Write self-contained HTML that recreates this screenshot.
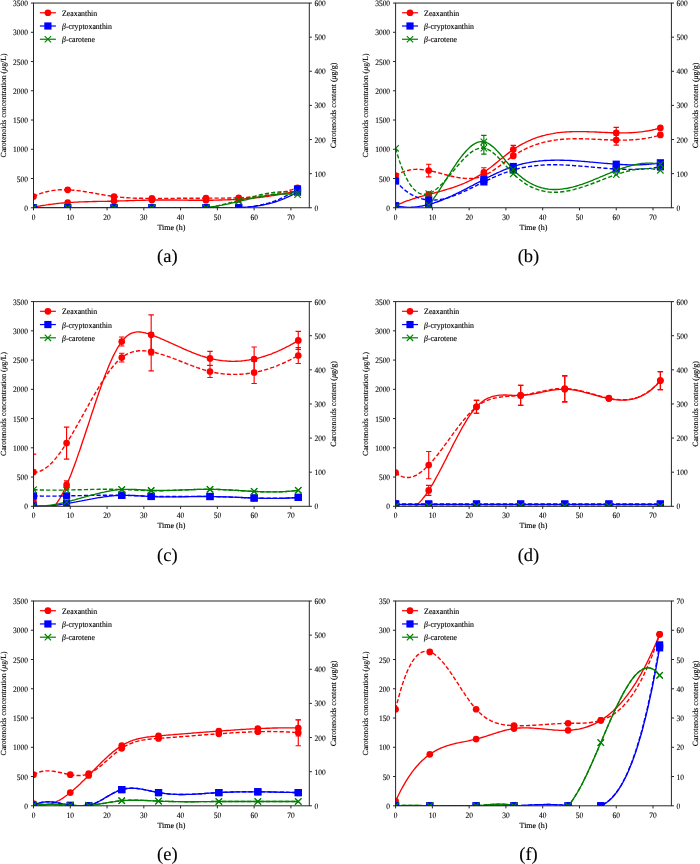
<!DOCTYPE html>
<html><head><meta charset="utf-8"><style>
html,body{margin:0;padding:0;background:#fff;}
svg{display:block;filter:blur(0.45px);}
svg text{font-family:"Liberation Serif", serif;font-size:8px;fill:#000;stroke:#000;stroke-width:0.12px;text-rendering:geometricPrecision;}
svg text.t{font-size:8.3px;}
</style></head><body>
<svg width="700" height="864" viewBox="0 0 700 864">
<rect width="700" height="864" fill="#fff"/>
<clipPath id="clipa"><rect x="33.5" y="3.05" width="275.8" height="204.7"/></clipPath>
<g clip-path="url(#clipa)">
<path d="M33.5 196.5 L34.8 195.9 L36.2 195.3 L37.5 194.7 L38.8 194.2 L40.1 193.7 L41.5 193.2 L42.8 192.8 L44.1 192.4 L45.4 192 L46.8 191.7 L48.1 191.4 L49.4 191.1 L50.7 190.9 L52.1 190.6 L53.4 190.4 L54.7 190.3 L56.1 190.1 L57.4 190 L58.7 189.9 L60 189.8 L61.4 189.8 L62.7 189.8 L64 189.8 L65.3 189.8 L66.7 189.8 L68 189.8 L69.3 189.9 L70.7 190 L72 190.1 L73.3 190.2 L74.6 190.3 L76 190.4 L77.3 190.6 L78.6 190.7 L79.9 190.9 L81.3 191.1 L82.6 191.3 L83.9 191.5 L85.2 191.7 L86.6 191.9 L87.9 192.1 L89.2 192.4 L90.6 192.6 L91.9 192.8 L93.2 193 L94.5 193.3 L95.9 193.5 L97.2 193.8 L98.5 194 L99.8 194.2 L101.2 194.5 L102.5 194.7 L103.8 194.9 L105.1 195.2 L106.5 195.4 L107.8 195.6 L109.1 195.8 L110.5 196 L111.8 196.2 L113.1 196.4 L114.4 196.6 L115.8 196.7 L117.1 196.9 L118.4 197 L119.7 197.1 L121.1 197.3 L122.4 197.4 L123.7 197.5 L125 197.6 L126.4 197.7 L127.7 197.8 L129 197.9 L130.4 197.9 L131.7 198 L133 198.1 L134.3 198.1 L135.7 198.2 L137 198.2 L138.3 198.2 L139.6 198.3 L141 198.3 L142.3 198.3 L143.6 198.3 L145 198.4 L146.3 198.4 L147.6 198.4 L148.9 198.4 L150.3 198.4 L151.6 198.4 L152.9 198.4 L154.2 198.4 L155.6 198.4 L156.9 198.4 L158.2 198.4 L159.5 198.4 L160.9 198.4 L162.2 198.4 L163.5 198.4 L164.9 198.4 L166.2 198.4 L167.5 198.4 L168.8 198.4 L170.2 198.4 L171.5 198.4 L172.8 198.4 L174.1 198.4 L175.5 198.3 L176.8 198.3 L178.1 198.3 L179.4 198.3 L180.8 198.3 L182.1 198.3 L183.4 198.3 L184.8 198.3 L186.1 198.3 L187.4 198.2 L188.7 198.2 L190.1 198.2 L191.4 198.2 L192.7 198.2 L194 198.2 L195.4 198.2 L196.7 198.2 L198 198.2 L199.3 198.2 L200.7 198.2 L202 198.2 L203.3 198.1 L204.7 198.1 L206 198.1 L207.3 198.1 L208.6 198.1 L210 198.1 L211.3 198.1 L212.6 198.1 L213.9 198.1 L215.3 198.1 L216.6 198.1 L217.9 198.1 L219.3 198.1 L220.6 198.1 L221.9 198.1 L223.2 198.1 L224.6 198.1 L225.9 198.1 L227.2 198.1 L228.5 198 L229.9 198 L231.2 198 L232.5 198 L233.8 197.9 L235.2 197.9 L236.5 197.9 L237.8 197.8 L239.2 197.8 L240.5 197.7 L241.8 197.7 L243.1 197.6 L244.5 197.5 L245.8 197.5 L247.1 197.4 L248.4 197.3 L249.8 197.2 L251.1 197.1 L252.4 197 L253.7 196.9 L255.1 196.8 L256.4 196.7 L257.7 196.5 L259.1 196.4 L260.4 196.2 L261.7 196.1 L263 195.9 L264.4 195.7 L265.7 195.5 L267 195.3 L268.3 195.1 L269.7 194.9 L271 194.7 L272.3 194.5 L273.7 194.2 L275 194 L276.3 193.7 L277.6 193.4 L279 193.1 L280.3 192.8 L281.6 192.5 L282.9 192.2 L284.3 191.9 L285.6 191.5 L286.9 191.2 L288.2 190.8 L289.6 190.4 L290.9 190 L292.2 189.6 L293.6 189.1 L294.9 188.7 L296.2 188.2 L297.5 187.8" fill="none" stroke="#ff0000" stroke-width="1.4" stroke-dasharray="4.2 2.1"/>
<path d="M33.5 207.3 L34.8 207 L36.2 206.7 L37.5 206.5 L38.8 206.2 L40.1 206 L41.5 205.7 L42.8 205.5 L44.1 205.3 L45.4 205.1 L46.8 204.8 L48.1 204.7 L49.4 204.5 L50.7 204.3 L52.1 204.1 L53.4 204 L54.7 203.8 L56.1 203.6 L57.4 203.5 L58.7 203.4 L60 203.2 L61.4 203.1 L62.7 203 L64 202.9 L65.3 202.8 L66.7 202.7 L68 202.6 L69.3 202.5 L70.7 202.4 L72 202.3 L73.3 202.3 L74.6 202.2 L76 202.1 L77.3 202.1 L78.6 202 L79.9 201.9 L81.3 201.9 L82.6 201.8 L83.9 201.8 L85.2 201.7 L86.6 201.7 L87.9 201.7 L89.2 201.6 L90.6 201.6 L91.9 201.6 L93.2 201.5 L94.5 201.5 L95.9 201.5 L97.2 201.4 L98.5 201.4 L99.8 201.4 L101.2 201.4 L102.5 201.3 L103.8 201.3 L105.1 201.3 L106.5 201.3 L107.8 201.2 L109.1 201.2 L110.5 201.2 L111.8 201.1 L113.1 201.1 L114.4 201.1 L115.8 201 L117.1 201 L118.4 201 L119.7 200.9 L121.1 200.9 L122.4 200.8 L123.7 200.8 L125 200.8 L126.4 200.7 L127.7 200.7 L129 200.6 L130.4 200.6 L131.7 200.6 L133 200.5 L134.3 200.5 L135.7 200.4 L137 200.4 L138.3 200.3 L139.6 200.3 L141 200.3 L142.3 200.2 L143.6 200.2 L145 200.2 L146.3 200.1 L147.6 200.1 L148.9 200.1 L150.3 200.1 L151.6 200 L152.9 200 L154.2 200 L155.6 200 L156.9 200 L158.2 200 L159.5 200 L160.9 200 L162.2 200 L163.5 200 L164.9 200 L166.2 200 L167.5 200 L168.8 200 L170.2 200 L171.5 200 L172.8 200 L174.1 200 L175.5 200 L176.8 200 L178.1 200.1 L179.4 200.1 L180.8 200.1 L182.1 200.1 L183.4 200.1 L184.8 200.1 L186.1 200.1 L187.4 200.1 L188.7 200.2 L190.1 200.2 L191.4 200.2 L192.7 200.2 L194 200.2 L195.4 200.2 L196.7 200.2 L198 200.2 L199.3 200.2 L200.7 200.2 L202 200.2 L203.3 200.2 L204.7 200.2 L206 200.2 L207.3 200.2 L208.6 200.2 L210 200.2 L211.3 200.2 L212.6 200.2 L213.9 200.1 L215.3 200.1 L216.6 200.1 L217.9 200.1 L219.3 200 L220.6 200 L221.9 200 L223.2 199.9 L224.6 199.9 L225.9 199.8 L227.2 199.8 L228.5 199.7 L229.9 199.7 L231.2 199.6 L232.5 199.6 L233.8 199.5 L235.2 199.4 L236.5 199.3 L237.8 199.3 L239.2 199.2 L240.5 199.1 L241.8 199 L243.1 198.9 L244.5 198.8 L245.8 198.7 L247.1 198.6 L248.4 198.5 L249.8 198.4 L251.1 198.3 L252.4 198.1 L253.7 198 L255.1 197.9 L256.4 197.7 L257.7 197.6 L259.1 197.5 L260.4 197.3 L261.7 197.1 L263 197 L264.4 196.8 L265.7 196.6 L267 196.5 L268.3 196.3 L269.7 196.1 L271 195.9 L272.3 195.7 L273.7 195.5 L275 195.3 L276.3 195 L277.6 194.8 L279 194.6 L280.3 194.3 L281.6 194.1 L282.9 193.8 L284.3 193.6 L285.6 193.3 L286.9 193 L288.2 192.8 L289.6 192.5 L290.9 192.2 L292.2 191.9 L293.6 191.6 L294.9 191.3 L296.2 191 L297.5 190.6" fill="none" stroke="#ff0000" stroke-width="1.35"/>
<path d="M33.5 207.8 L34.8 207.8 L36.2 207.8 L37.5 207.8 L38.8 207.8 L40.1 207.8 L41.5 207.8 L42.8 207.8 L44.1 207.8 L45.4 207.8 L46.8 207.8 L48.1 207.8 L49.4 207.8 L50.7 207.8 L52.1 207.8 L53.4 207.8 L54.7 207.8 L56.1 207.8 L57.4 207.8 L58.7 207.8 L60 207.8 L61.4 207.8 L62.7 207.8 L64 207.8 L65.3 207.8 L66.7 207.8 L68 207.7 L69.3 207.7 L70.7 207.7 L72 207.7 L73.3 207.7 L74.6 207.7 L76 207.7 L77.3 207.7 L78.6 207.7 L79.9 207.7 L81.3 207.7 L82.6 207.7 L83.9 207.7 L85.2 207.7 L86.6 207.7 L87.9 207.7 L89.2 207.7 L90.6 207.7 L91.9 207.7 L93.2 207.7 L94.5 207.7 L95.9 207.7 L97.2 207.7 L98.5 207.7 L99.8 207.7 L101.2 207.7 L102.5 207.7 L103.8 207.7 L105.1 207.7 L106.5 207.7 L107.8 207.7 L109.1 207.7 L110.5 207.7 L111.8 207.7 L113.1 207.7 L114.4 207.8 L115.8 207.8 L117.1 207.8 L118.4 207.8 L119.7 207.8 L121.1 207.8 L122.4 207.8 L123.7 207.8 L125 207.8 L126.4 207.8 L127.7 207.8 L129 207.8 L130.4 207.8 L131.7 207.8 L133 207.8 L134.3 207.8 L135.7 207.8 L137 207.8 L138.3 207.8 L139.6 207.8 L141 207.8 L142.3 207.8 L143.6 207.8 L145 207.8 L146.3 207.8 L147.6 207.8 L148.9 207.8 L150.3 207.8 L151.6 207.8 L152.9 207.7 L154.2 207.7 L155.6 207.7 L156.9 207.7 L158.2 207.7 L159.5 207.7 L160.9 207.7 L162.2 207.7 L163.5 207.7 L164.9 207.7 L166.2 207.7 L167.5 207.7 L168.8 207.7 L170.2 207.7 L171.5 207.6 L172.8 207.6 L174.1 207.6 L175.5 207.6 L176.8 207.6 L178.1 207.6 L179.4 207.6 L180.8 207.6 L182.1 207.6 L183.4 207.6 L184.8 207.6 L186.1 207.6 L187.4 207.6 L188.7 207.6 L190.1 207.6 L191.4 207.6 L192.7 207.6 L194 207.6 L195.4 207.6 L196.7 207.6 L198 207.6 L199.3 207.7 L200.7 207.7 L202 207.7 L203.3 207.7 L204.7 207.7 L206 207.8 L207.3 207.8 L208.6 207.8 L210 207.8 L211.3 207.8 L212.6 207.9 L213.9 207.9 L215.3 207.9 L216.6 208 L217.9 208 L219.3 208 L220.6 208 L221.9 208 L223.2 208 L224.6 208 L225.9 208 L227.2 208 L228.5 208 L229.9 208 L231.2 208 L232.5 208 L233.8 207.9 L235.2 207.9 L236.5 207.9 L237.8 207.8 L239.2 207.7 L240.5 207.6 L241.8 207.6 L243.1 207.5 L244.5 207.4 L245.8 207.2 L247.1 207.1 L248.4 207 L249.8 206.8 L251.1 206.6 L252.4 206.5 L253.7 206.3 L255.1 206.1 L256.4 205.8 L257.7 205.6 L259.1 205.3 L260.4 205.1 L261.7 204.8 L263 204.5 L264.4 204.1 L265.7 203.8 L267 203.4 L268.3 203.1 L269.7 202.7 L271 202.2 L272.3 201.8 L273.7 201.3 L275 200.9 L276.3 200.4 L277.6 199.8 L279 199.3 L280.3 198.7 L281.6 198.1 L282.9 197.5 L284.3 196.9 L285.6 196.2 L286.9 195.5 L288.2 194.8 L289.6 194 L290.9 193.3 L292.2 192.5 L293.6 191.7 L294.9 190.8 L296.2 189.9 L297.5 189" fill="none" stroke="#0000ff" stroke-width="1.4" stroke-dasharray="4.2 2.1"/>
<path d="M33.5 207.8 L34.8 207.8 L36.2 207.8 L37.5 207.8 L38.8 207.8 L40.1 207.8 L41.5 207.8 L42.8 207.8 L44.1 207.8 L45.4 207.8 L46.8 207.8 L48.1 207.8 L49.4 207.8 L50.7 207.8 L52.1 207.8 L53.4 207.8 L54.7 207.8 L56.1 207.8 L57.4 207.8 L58.7 207.8 L60 207.8 L61.4 207.8 L62.7 207.8 L64 207.8 L65.3 207.8 L66.7 207.8 L68 207.7 L69.3 207.7 L70.7 207.7 L72 207.7 L73.3 207.7 L74.6 207.7 L76 207.7 L77.3 207.7 L78.6 207.7 L79.9 207.7 L81.3 207.7 L82.6 207.7 L83.9 207.7 L85.2 207.7 L86.6 207.7 L87.9 207.7 L89.2 207.7 L90.6 207.7 L91.9 207.7 L93.2 207.7 L94.5 207.7 L95.9 207.7 L97.2 207.7 L98.5 207.7 L99.8 207.7 L101.2 207.7 L102.5 207.7 L103.8 207.7 L105.1 207.7 L106.5 207.7 L107.8 207.7 L109.1 207.7 L110.5 207.7 L111.8 207.7 L113.1 207.7 L114.4 207.8 L115.8 207.8 L117.1 207.8 L118.4 207.8 L119.7 207.8 L121.1 207.8 L122.4 207.8 L123.7 207.8 L125 207.8 L126.4 207.8 L127.7 207.8 L129 207.8 L130.4 207.8 L131.7 207.8 L133 207.8 L134.3 207.8 L135.7 207.8 L137 207.8 L138.3 207.8 L139.6 207.8 L141 207.8 L142.3 207.8 L143.6 207.8 L145 207.8 L146.3 207.8 L147.6 207.8 L148.9 207.8 L150.3 207.8 L151.6 207.8 L152.9 207.7 L154.2 207.7 L155.6 207.7 L156.9 207.7 L158.2 207.7 L159.5 207.7 L160.9 207.7 L162.2 207.7 L163.5 207.7 L164.9 207.7 L166.2 207.7 L167.5 207.7 L168.8 207.7 L170.2 207.7 L171.5 207.7 L172.8 207.7 L174.1 207.6 L175.5 207.6 L176.8 207.6 L178.1 207.6 L179.4 207.6 L180.8 207.6 L182.1 207.6 L183.4 207.6 L184.8 207.6 L186.1 207.6 L187.4 207.6 L188.7 207.6 L190.1 207.6 L191.4 207.6 L192.7 207.6 L194 207.6 L195.4 207.6 L196.7 207.7 L198 207.7 L199.3 207.7 L200.7 207.7 L202 207.7 L203.3 207.7 L204.7 207.7 L206 207.8 L207.3 207.8 L208.6 207.8 L210 207.8 L211.3 207.8 L212.6 207.9 L213.9 207.9 L215.3 207.9 L216.6 207.9 L217.9 207.9 L219.3 208 L220.6 208 L221.9 208 L223.2 208 L224.6 208 L225.9 208 L227.2 208 L228.5 208 L229.9 208 L231.2 208 L232.5 207.9 L233.8 207.9 L235.2 207.9 L236.5 207.8 L237.8 207.8 L239.2 207.7 L240.5 207.7 L241.8 207.6 L243.1 207.5 L244.5 207.4 L245.8 207.3 L247.1 207.2 L248.4 207.1 L249.8 207 L251.1 206.8 L252.4 206.7 L253.7 206.5 L255.1 206.3 L256.4 206.1 L257.7 205.9 L259.1 205.7 L260.4 205.5 L261.7 205.2 L263 205 L264.4 204.7 L265.7 204.4 L267 204.1 L268.3 203.8 L269.7 203.5 L271 203.1 L272.3 202.8 L273.7 202.4 L275 202 L276.3 201.5 L277.6 201.1 L279 200.6 L280.3 200.2 L281.6 199.7 L282.9 199.1 L284.3 198.6 L285.6 198 L286.9 197.4 L288.2 196.8 L289.6 196.2 L290.9 195.6 L292.2 194.9 L293.6 194.2 L294.9 193.5 L296.2 192.7 L297.5 192" fill="none" stroke="#0000ff" stroke-width="1.35"/>
<path d="M33.5 207.8 L34.8 207.7 L36.2 207.7 L37.5 207.7 L38.8 207.7 L40.1 207.7 L41.5 207.7 L42.8 207.7 L44.1 207.7 L45.4 207.7 L46.8 207.7 L48.1 207.7 L49.4 207.7 L50.7 207.7 L52.1 207.7 L53.4 207.7 L54.7 207.7 L56.1 207.7 L57.4 207.7 L58.7 207.7 L60 207.7 L61.4 207.7 L62.7 207.7 L64 207.7 L65.3 207.7 L66.7 207.7 L68 207.8 L69.3 207.8 L70.7 207.8 L72 207.8 L73.3 207.8 L74.6 207.8 L76 207.8 L77.3 207.8 L78.6 207.8 L79.9 207.8 L81.3 207.8 L82.6 207.8 L83.9 207.8 L85.2 207.8 L86.6 207.8 L87.9 207.8 L89.2 207.8 L90.6 207.8 L91.9 207.8 L93.2 207.8 L94.5 207.8 L95.9 207.8 L97.2 207.8 L98.5 207.8 L99.8 207.8 L101.2 207.8 L102.5 207.8 L103.8 207.8 L105.1 207.8 L106.5 207.8 L107.8 207.8 L109.1 207.8 L110.5 207.8 L111.8 207.8 L113.1 207.8 L114.4 207.7 L115.8 207.7 L117.1 207.7 L118.4 207.7 L119.7 207.7 L121.1 207.7 L122.4 207.7 L123.7 207.6 L125 207.6 L126.4 207.6 L127.7 207.6 L129 207.6 L130.4 207.6 L131.7 207.6 L133 207.6 L134.3 207.6 L135.7 207.6 L137 207.6 L138.3 207.6 L139.6 207.6 L141 207.6 L142.3 207.6 L143.6 207.6 L145 207.6 L146.3 207.6 L147.6 207.6 L148.9 207.7 L150.3 207.7 L151.6 207.7 L152.9 207.8 L154.2 207.8 L155.6 207.9 L156.9 207.9 L158.2 208 L159.5 208 L160.9 208.1 L162.2 208.2 L163.5 208.2 L164.9 208.3 L166.2 208.3 L167.5 208.4 L168.8 208.5 L170.2 208.5 L171.5 208.6 L172.8 208.6 L174.1 208.7 L175.5 208.7 L176.8 208.8 L178.1 208.8 L179.4 208.8 L180.8 208.9 L182.1 208.9 L183.4 208.9 L184.8 208.9 L186.1 208.9 L187.4 208.9 L188.7 208.9 L190.1 208.9 L191.4 208.8 L192.7 208.8 L194 208.8 L195.4 208.7 L196.7 208.6 L198 208.5 L199.3 208.4 L200.7 208.3 L202 208.2 L203.3 208.1 L204.7 207.9 L206 207.7 L207.3 207.6 L208.6 207.4 L210 207.2 L211.3 206.9 L212.6 206.7 L213.9 206.5 L215.3 206.2 L216.6 205.9 L217.9 205.7 L219.3 205.4 L220.6 205.1 L221.9 204.8 L223.2 204.4 L224.6 204.1 L225.9 203.8 L227.2 203.5 L228.5 203.1 L229.9 202.8 L231.2 202.4 L232.5 202.1 L233.8 201.7 L235.2 201.3 L236.5 201 L237.8 200.6 L239.2 200.3 L240.5 199.9 L241.8 199.5 L243.1 199.2 L244.5 198.8 L245.8 198.5 L247.1 198.1 L248.4 197.7 L249.8 197.4 L251.1 197.1 L252.4 196.7 L253.7 196.4 L255.1 196.1 L256.4 195.7 L257.7 195.4 L259.1 195.1 L260.4 194.8 L261.7 194.5 L263 194.3 L264.4 194 L265.7 193.7 L267 193.5 L268.3 193.3 L269.7 193.1 L271 192.9 L272.3 192.7 L273.7 192.5 L275 192.3 L276.3 192.2 L277.6 192.1 L279 192 L280.3 191.9 L281.6 191.8 L282.9 191.7 L284.3 191.7 L285.6 191.7 L286.9 191.7 L288.2 191.7 L289.6 191.8 L290.9 191.8 L292.2 191.9 L293.6 192 L294.9 192.2 L296.2 192.4 L297.5 192.5" fill="none" stroke="#008000" stroke-width="1.4" stroke-dasharray="4.2 2.1"/>
<path d="M33.5 207.8 L34.8 207.7 L36.2 207.7 L37.5 207.7 L38.8 207.7 L40.1 207.7 L41.5 207.7 L42.8 207.7 L44.1 207.7 L45.4 207.7 L46.8 207.7 L48.1 207.7 L49.4 207.7 L50.7 207.7 L52.1 207.7 L53.4 207.7 L54.7 207.7 L56.1 207.7 L57.4 207.7 L58.7 207.7 L60 207.7 L61.4 207.7 L62.7 207.7 L64 207.7 L65.3 207.7 L66.7 207.7 L68 207.8 L69.3 207.8 L70.7 207.8 L72 207.8 L73.3 207.8 L74.6 207.8 L76 207.8 L77.3 207.8 L78.6 207.8 L79.9 207.8 L81.3 207.8 L82.6 207.8 L83.9 207.8 L85.2 207.8 L86.6 207.8 L87.9 207.8 L89.2 207.8 L90.6 207.8 L91.9 207.8 L93.2 207.8 L94.5 207.8 L95.9 207.8 L97.2 207.8 L98.5 207.8 L99.8 207.8 L101.2 207.8 L102.5 207.8 L103.8 207.8 L105.1 207.8 L106.5 207.8 L107.8 207.8 L109.1 207.8 L110.5 207.8 L111.8 207.8 L113.1 207.8 L114.4 207.7 L115.8 207.7 L117.1 207.7 L118.4 207.7 L119.7 207.7 L121.1 207.7 L122.4 207.7 L123.7 207.7 L125 207.6 L126.4 207.6 L127.7 207.6 L129 207.6 L130.4 207.6 L131.7 207.6 L133 207.6 L134.3 207.6 L135.7 207.6 L137 207.6 L138.3 207.6 L139.6 207.6 L141 207.6 L142.3 207.6 L143.6 207.6 L145 207.6 L146.3 207.6 L147.6 207.7 L148.9 207.7 L150.3 207.7 L151.6 207.7 L152.9 207.8 L154.2 207.8 L155.6 207.9 L156.9 207.9 L158.2 207.9 L159.5 208 L160.9 208 L162.2 208.1 L163.5 208.2 L164.9 208.2 L166.2 208.3 L167.5 208.3 L168.8 208.4 L170.2 208.4 L171.5 208.5 L172.8 208.5 L174.1 208.5 L175.5 208.6 L176.8 208.6 L178.1 208.7 L179.4 208.7 L180.8 208.7 L182.1 208.7 L183.4 208.7 L184.8 208.8 L186.1 208.8 L187.4 208.8 L188.7 208.7 L190.1 208.7 L191.4 208.7 L192.7 208.7 L194 208.6 L195.4 208.6 L196.7 208.5 L198 208.4 L199.3 208.3 L200.7 208.2 L202 208.1 L203.3 208 L204.7 207.9 L206 207.7 L207.3 207.6 L208.6 207.4 L210 207.2 L211.3 207.1 L212.6 206.9 L213.9 206.6 L215.3 206.4 L216.6 206.2 L217.9 206 L219.3 205.7 L220.6 205.4 L221.9 205.2 L223.2 204.9 L224.6 204.6 L225.9 204.4 L227.2 204.1 L228.5 203.8 L229.9 203.5 L231.2 203.2 L232.5 202.9 L233.8 202.6 L235.2 202.3 L236.5 202 L237.8 201.6 L239.2 201.3 L240.5 201 L241.8 200.7 L243.1 200.4 L244.5 200.1 L245.8 199.8 L247.1 199.5 L248.4 199.2 L249.8 198.9 L251.1 198.6 L252.4 198.3 L253.7 198 L255.1 197.7 L256.4 197.5 L257.7 197.2 L259.1 196.9 L260.4 196.7 L261.7 196.4 L263 196.2 L264.4 196 L265.7 195.7 L267 195.5 L268.3 195.3 L269.7 195.2 L271 195 L272.3 194.8 L273.7 194.7 L275 194.5 L276.3 194.4 L277.6 194.3 L279 194.2 L280.3 194.1 L281.6 194.1 L282.9 194 L284.3 194 L285.6 194 L286.9 194 L288.2 194 L289.6 194 L290.9 194.1 L292.2 194.2 L293.6 194.3 L294.9 194.4 L296.2 194.6 L297.5 194.7" fill="none" stroke="#008000" stroke-width="1.35"/>
<circle cx="33.5" cy="196.5" r="3.35" fill="#ff0000"/>
<circle cx="67.7" cy="189.82" r="3.35" fill="#ff0000"/>
<circle cx="114.03" cy="196.5" r="3.35" fill="#ff0000"/>
<circle cx="151.91" cy="198.41" r="3.35" fill="#ff0000"/>
<circle cx="205.97" cy="198.14" r="3.35" fill="#ff0000"/>
<circle cx="238.7" cy="197.8" r="3.35" fill="#ff0000"/>
<circle cx="297.53" cy="187.78" r="3.35" fill="#ff0000"/>
<circle cx="33.5" cy="207.28" r="3.35" fill="#ff0000"/>
<circle cx="67.7" cy="202.61" r="3.35" fill="#ff0000"/>
<circle cx="114.03" cy="201.09" r="3.35" fill="#ff0000"/>
<circle cx="151.91" cy="200.04" r="3.35" fill="#ff0000"/>
<circle cx="205.97" cy="200.21" r="3.35" fill="#ff0000"/>
<circle cx="238.7" cy="199.22" r="3.35" fill="#ff0000"/>
<circle cx="297.53" cy="190.63" r="3.35" fill="#ff0000"/>
<rect x="29.9" y="204.15" width="7.2" height="7.2" fill="#0000ff"/>
<rect x="64.1" y="204.15" width="7.2" height="7.2" fill="#0000ff"/>
<rect x="110.43" y="204.15" width="7.2" height="7.2" fill="#0000ff"/>
<rect x="148.31" y="204.15" width="7.2" height="7.2" fill="#0000ff"/>
<rect x="202.37" y="204.15" width="7.2" height="7.2" fill="#0000ff"/>
<rect x="235.1" y="204.15" width="7.2" height="7.2" fill="#0000ff"/>
<rect x="293.93" y="185.4" width="7.2" height="7.2" fill="#0000ff"/>
<rect x="29.9" y="204.15" width="7.2" height="7.2" fill="#0000ff"/>
<rect x="64.1" y="204.15" width="7.2" height="7.2" fill="#0000ff"/>
<rect x="110.43" y="204.15" width="7.2" height="7.2" fill="#0000ff"/>
<rect x="148.31" y="204.15" width="7.2" height="7.2" fill="#0000ff"/>
<rect x="202.37" y="204.15" width="7.2" height="7.2" fill="#0000ff"/>
<rect x="235.1" y="204.15" width="7.2" height="7.2" fill="#0000ff"/>
<rect x="293.93" y="188.37" width="7.2" height="7.2" fill="#0000ff"/>
<path d="M30.3 204.55L36.7 210.95M30.3 210.95L36.7 204.55" stroke="#008000" stroke-width="1.1" fill="none"/>
<path d="M64.5 204.55L70.9 210.95M64.5 210.95L70.9 204.55" stroke="#008000" stroke-width="1.1" fill="none"/>
<path d="M110.83 204.55L117.23 210.95M110.83 210.95L117.23 204.55" stroke="#008000" stroke-width="1.1" fill="none"/>
<path d="M148.71 204.55L155.11 210.95M148.71 210.95L155.11 204.55" stroke="#008000" stroke-width="1.1" fill="none"/>
<path d="M202.77 204.55L209.17 210.95M202.77 210.95L209.17 204.55" stroke="#008000" stroke-width="1.1" fill="none"/>
<path d="M235.5 197.19L241.9 203.59M235.5 203.59L241.9 197.19" stroke="#008000" stroke-width="1.1" fill="none"/>
<path d="M294.33 189.35L300.73 195.75M294.33 195.75L300.73 189.35" stroke="#008000" stroke-width="1.1" fill="none"/>
<path d="M30.3 204.55L36.7 210.95M30.3 210.95L36.7 204.55" stroke="#008000" stroke-width="1.1" fill="none"/>
<path d="M64.5 204.55L70.9 210.95M64.5 210.95L70.9 204.55" stroke="#008000" stroke-width="1.1" fill="none"/>
<path d="M110.83 204.55L117.23 210.95M110.83 210.95L117.23 204.55" stroke="#008000" stroke-width="1.1" fill="none"/>
<path d="M148.71 204.55L155.11 210.95M148.71 210.95L155.11 204.55" stroke="#008000" stroke-width="1.1" fill="none"/>
<path d="M202.77 204.55L209.17 210.95M202.77 210.95L209.17 204.55" stroke="#008000" stroke-width="1.1" fill="none"/>
<path d="M235.5 198.24L241.9 204.64M235.5 204.64L241.9 198.24" stroke="#008000" stroke-width="1.1" fill="none"/>
<path d="M294.33 191.52L300.73 197.92M294.33 197.92L300.73 191.52" stroke="#008000" stroke-width="1.1" fill="none"/>
</g>
<rect x="33.5" y="3.05" width="275.8" height="204.7" fill="none" stroke="#262626" stroke-width="1"/>
<path d="M30.9 207.75H33.5M30.9 178.51H33.5M30.9 149.26H33.5M30.9 120.02H33.5M30.9 90.78H33.5M30.9 61.54H33.5M30.9 32.29H33.5M30.9 3.05H33.5M309.3 207.75H311.9M309.3 173.63H311.9M309.3 139.52H311.9M309.3 105.4H311.9M309.3 71.28H311.9M309.3 37.17H311.9M309.3 3.05H311.9M33.5 207.75V210.35M70.27 207.75V210.35M107.05 207.75V210.35M143.82 207.75V210.35M180.59 207.75V210.35M217.37 207.75V210.35M254.14 207.75V210.35M290.91 207.75V210.35" stroke="#262626" stroke-width="1" fill="none"/>
<text transform="translate(28 210.75) scale(0.9 1)" text-anchor="end" class="t">0</text>
<text transform="translate(28 181.51) scale(0.9 1)" text-anchor="end" class="t">500</text>
<text transform="translate(28 152.26) scale(0.9 1)" text-anchor="end" class="t">1000</text>
<text transform="translate(28 123.02) scale(0.9 1)" text-anchor="end" class="t">1500</text>
<text transform="translate(28 93.78) scale(0.9 1)" text-anchor="end" class="t">2000</text>
<text transform="translate(28 64.54) scale(0.9 1)" text-anchor="end" class="t">2500</text>
<text transform="translate(28 35.29) scale(0.9 1)" text-anchor="end" class="t">3000</text>
<text transform="translate(28 6.05) scale(0.9 1)" text-anchor="end" class="t">3500</text>
<text transform="translate(314.5 210.75) scale(0.9 1)" class="t">0</text>
<text transform="translate(314.5 176.63) scale(0.9 1)" class="t">100</text>
<text transform="translate(314.5 142.52) scale(0.9 1)" class="t">200</text>
<text transform="translate(314.5 108.4) scale(0.9 1)" class="t">300</text>
<text transform="translate(314.5 74.28) scale(0.9 1)" class="t">400</text>
<text transform="translate(314.5 40.17) scale(0.9 1)" class="t">500</text>
<text transform="translate(314.5 6.05) scale(0.9 1)" class="t">600</text>
<text transform="translate(33.5 219.75) scale(0.9 1)" text-anchor="middle" class="t">0</text>
<text transform="translate(70.27 219.75) scale(0.9 1)" text-anchor="middle" class="t">10</text>
<text transform="translate(107.05 219.75) scale(0.9 1)" text-anchor="middle" class="t">20</text>
<text transform="translate(143.82 219.75) scale(0.9 1)" text-anchor="middle" class="t">30</text>
<text transform="translate(180.59 219.75) scale(0.9 1)" text-anchor="middle" class="t">40</text>
<text transform="translate(217.37 219.75) scale(0.9 1)" text-anchor="middle" class="t">50</text>
<text transform="translate(254.14 219.75) scale(0.9 1)" text-anchor="middle" class="t">60</text>
<text transform="translate(290.91 219.75) scale(0.9 1)" text-anchor="middle" class="t">70</text>
<text x="171.4" y="229.75" text-anchor="middle">Time (h)</text>
<text transform="translate(6.3 105.4) rotate(-90)" text-anchor="middle" style="font-size:7.8px">Carotenoids concentration (<tspan font-style="italic">μ</tspan>g/L)</text>
<text transform="translate(336.3 105.4) rotate(-90)" text-anchor="middle">Carotenoids content (<tspan font-style="italic">μ</tspan>g/g)</text>
<path d="M39.9 12.75H55.9" stroke="#ff0000" stroke-width="1.2"/>
<circle cx="47.9" cy="12.75" r="3.35" fill="#ff0000"/>
<text transform="translate(62 15.75) scale(0.955 1)" style="font-size:8.2px">Zeaxanthin</text>
<path d="M39.9 26H55.9" stroke="#0000ff" stroke-width="1.2"/>
<rect x="44.3" y="22.4" width="7.2" height="7.2" fill="#0000ff"/>
<text transform="translate(62 29) scale(0.955 1)" style="font-size:8.2px"><tspan font-style="italic">β</tspan>-cryptoxanthin</text>
<path d="M39.9 39.25H55.9" stroke="#008000" stroke-width="1.2"/>
<path d="M44.7 36.05L51.1 42.45M44.7 42.45L51.1 36.05" stroke="#008000" stroke-width="1.1" fill="none"/>
<text transform="translate(62 42.25) scale(0.955 1)" style="font-size:8.2px"><tspan font-style="italic">β</tspan>-carotene</text>
<text x="167.3" y="262.35" text-anchor="middle" style="font-size:18.5px">(a)</text>
<clipPath id="clipb"><rect x="395.6" y="3.05" width="275.8" height="204.7"/></clipPath>
<g clip-path="url(#clipb)">
<path d="M395.6 175.7 L396.9 174.9 L398.3 174.1 L399.6 173.4 L400.9 172.8 L402.3 172.2 L403.6 171.7 L404.9 171.2 L406.2 170.8 L407.6 170.5 L408.9 170.2 L410.2 169.9 L411.6 169.7 L412.9 169.5 L414.2 169.4 L415.6 169.4 L416.9 169.3 L418.2 169.3 L419.5 169.4 L420.9 169.5 L422.2 169.6 L423.5 169.7 L424.9 169.9 L426.2 170.1 L427.5 170.3 L428.9 170.5 L430.2 170.8 L431.5 171.1 L432.9 171.4 L434.2 171.7 L435.5 172 L436.8 172.3 L438.2 172.7 L439.5 173 L440.8 173.4 L442.2 173.8 L443.5 174.1 L444.8 174.5 L446.2 174.8 L447.5 175.2 L448.8 175.5 L450.2 175.9 L451.5 176.2 L452.8 176.5 L454.1 176.8 L455.5 177.1 L456.8 177.3 L458.1 177.6 L459.5 177.8 L460.8 178 L462.1 178.2 L463.5 178.3 L464.8 178.4 L466.1 178.5 L467.4 178.6 L468.8 178.6 L470.1 178.5 L471.4 178.5 L472.8 178.4 L474.1 178.2 L475.4 178 L476.8 177.8 L478.1 177.5 L479.4 177.1 L480.8 176.7 L482.1 176.3 L483.4 175.8 L484.7 175.2 L486.1 174.6 L487.4 173.9 L488.7 173.2 L490.1 172.4 L491.4 171.6 L492.7 170.7 L494.1 169.9 L495.4 168.9 L496.7 168 L498 167 L499.4 166.1 L500.7 165.1 L502 164.1 L503.4 163.1 L504.7 162.1 L506 161.1 L507.4 160.1 L508.7 159.1 L510 158.2 L511.4 157.2 L512.7 156.3 L514 155.4 L515.3 154.5 L516.7 153.7 L518 152.9 L519.3 152.1 L520.7 151.4 L522 150.7 L523.3 150 L524.7 149.3 L526 148.7 L527.3 148 L528.6 147.4 L530 146.9 L531.3 146.3 L532.6 145.8 L534 145.3 L535.3 144.8 L536.6 144.4 L538 144 L539.3 143.5 L540.6 143.1 L542 142.8 L543.3 142.4 L544.6 142.1 L545.9 141.8 L547.3 141.5 L548.6 141.2 L549.9 141 L551.3 140.7 L552.6 140.5 L553.9 140.3 L555.3 140.1 L556.6 139.9 L557.9 139.7 L559.3 139.6 L560.6 139.5 L561.9 139.3 L563.2 139.2 L564.6 139.1 L565.9 139 L567.2 139 L568.6 138.9 L569.9 138.9 L571.2 138.8 L572.6 138.8 L573.9 138.8 L575.2 138.7 L576.5 138.7 L577.9 138.7 L579.2 138.7 L580.5 138.8 L581.9 138.8 L583.2 138.8 L584.5 138.8 L585.9 138.9 L587.2 138.9 L588.5 139 L589.9 139 L591.2 139.1 L592.5 139.1 L593.8 139.2 L595.2 139.3 L596.5 139.3 L597.8 139.4 L599.2 139.4 L600.5 139.5 L601.8 139.6 L603.2 139.6 L604.5 139.7 L605.8 139.8 L607.1 139.8 L608.5 139.9 L609.8 139.9 L611.1 140 L612.5 140 L613.8 140 L615.1 140.1 L616.5 140.1 L617.8 140.1 L619.1 140.1 L620.5 140.1 L621.8 140.1 L623.1 140.1 L624.4 140.1 L625.8 140.1 L627.1 140.1 L628.4 140 L629.8 140 L631.1 139.9 L632.4 139.8 L633.8 139.7 L635.1 139.7 L636.4 139.5 L637.7 139.4 L639.1 139.3 L640.4 139.1 L641.7 139 L643.1 138.8 L644.4 138.6 L645.7 138.4 L647.1 138.2 L648.4 137.9 L649.7 137.6 L651.1 137.4 L652.4 137.1 L653.7 136.8 L655 136.4 L656.4 136.1 L657.7 135.7 L659 135.3 L660.4 134.9" fill="none" stroke="#ff0000" stroke-width="1.4" stroke-dasharray="4.2 2.1"/>
<path d="M395.6 205.7 L396.9 205.1 L398.3 204.5 L399.6 203.9 L400.9 203.3 L402.3 202.8 L403.6 202.2 L404.9 201.7 L406.2 201.2 L407.6 200.7 L408.9 200.3 L410.2 199.8 L411.6 199.4 L412.9 198.9 L414.2 198.5 L415.6 198.1 L416.9 197.7 L418.2 197.3 L419.5 196.9 L420.9 196.5 L422.2 196.2 L423.5 195.8 L424.9 195.4 L426.2 195.1 L427.5 194.7 L428.9 194.4 L430.2 194 L431.5 193.7 L432.9 193.3 L434.2 193 L435.5 192.6 L436.8 192.2 L438.2 191.9 L439.5 191.5 L440.8 191.2 L442.2 190.8 L443.5 190.4 L444.8 190 L446.2 189.6 L447.5 189.2 L448.8 188.8 L450.2 188.4 L451.5 188 L452.8 187.6 L454.1 187.1 L455.5 186.6 L456.8 186.2 L458.1 185.7 L459.5 185.2 L460.8 184.7 L462.1 184.1 L463.5 183.6 L464.8 183 L466.1 182.4 L467.4 181.8 L468.8 181.2 L470.1 180.5 L471.4 179.8 L472.8 179.2 L474.1 178.4 L475.4 177.7 L476.8 176.9 L478.1 176.1 L479.4 175.3 L480.8 174.5 L482.1 173.6 L483.4 172.7 L484.7 171.8 L486.1 170.8 L487.4 169.8 L488.7 168.8 L490.1 167.8 L491.4 166.8 L492.7 165.7 L494.1 164.6 L495.4 163.6 L496.7 162.5 L498 161.4 L499.4 160.3 L500.7 159.2 L502 158.2 L503.4 157.1 L504.7 156 L506 155 L507.4 153.9 L508.7 152.9 L510 151.9 L511.4 151 L512.7 150 L514 149.1 L515.3 148.2 L516.7 147.3 L518 146.5 L519.3 145.7 L520.7 144.9 L522 144.2 L523.3 143.5 L524.7 142.8 L526 142.1 L527.3 141.5 L528.6 140.9 L530 140.3 L531.3 139.7 L532.6 139.2 L534 138.6 L535.3 138.1 L536.6 137.7 L538 137.2 L539.3 136.8 L540.6 136.4 L542 136 L543.3 135.6 L544.6 135.3 L545.9 134.9 L547.3 134.6 L548.6 134.3 L549.9 134.1 L551.3 133.8 L552.6 133.6 L553.9 133.3 L555.3 133.1 L556.6 132.9 L557.9 132.7 L559.3 132.6 L560.6 132.4 L561.9 132.3 L563.2 132.2 L564.6 132.1 L565.9 132 L567.2 131.9 L568.6 131.8 L569.9 131.7 L571.2 131.7 L572.6 131.6 L573.9 131.6 L575.2 131.6 L576.5 131.6 L577.9 131.6 L579.2 131.6 L580.5 131.6 L581.9 131.6 L583.2 131.6 L584.5 131.6 L585.9 131.6 L587.2 131.7 L588.5 131.7 L589.9 131.8 L591.2 131.8 L592.5 131.9 L593.8 131.9 L595.2 132 L596.5 132 L597.8 132.1 L599.2 132.2 L600.5 132.2 L601.8 132.3 L603.2 132.3 L604.5 132.4 L605.8 132.5 L607.1 132.5 L608.5 132.6 L609.8 132.6 L611.1 132.7 L612.5 132.7 L613.8 132.7 L615.1 132.8 L616.5 132.8 L617.8 132.8 L619.1 132.8 L620.5 132.9 L621.8 132.9 L623.1 132.9 L624.4 132.8 L625.8 132.8 L627.1 132.8 L628.4 132.8 L629.8 132.7 L631.1 132.7 L632.4 132.6 L633.8 132.5 L635.1 132.4 L636.4 132.3 L637.7 132.2 L639.1 132.1 L640.4 131.9 L641.7 131.8 L643.1 131.6 L644.4 131.4 L645.7 131.2 L647.1 131 L648.4 130.8 L649.7 130.5 L651.1 130.3 L652.4 130 L653.7 129.7 L655 129.4 L656.4 129 L657.7 128.7 L659 128.3 L660.4 127.9" fill="none" stroke="#ff0000" stroke-width="1.35"/>
<path d="M395.6 181 L396.9 182.5 L398.3 183.9 L399.6 185.3 L400.9 186.6 L402.3 187.8 L403.6 189 L404.9 190.1 L406.2 191.1 L407.6 192.1 L408.9 193 L410.2 193.8 L411.6 194.6 L412.9 195.3 L414.2 196 L415.6 196.6 L416.9 197.2 L418.2 197.7 L419.5 198.2 L420.9 198.6 L422.2 198.9 L423.5 199.2 L424.9 199.5 L426.2 199.7 L427.5 199.9 L428.9 200 L430.2 200.1 L431.5 200.1 L432.9 200.1 L434.2 200.1 L435.5 200 L436.8 199.9 L438.2 199.8 L439.5 199.6 L440.8 199.4 L442.2 199.1 L443.5 198.9 L444.8 198.6 L446.2 198.2 L447.5 197.9 L448.8 197.5 L450.2 197.1 L451.5 196.6 L452.8 196.2 L454.1 195.7 L455.5 195.2 L456.8 194.7 L458.1 194.1 L459.5 193.6 L460.8 193 L462.1 192.4 L463.5 191.8 L464.8 191.2 L466.1 190.6 L467.4 190 L468.8 189.3 L470.1 188.7 L471.4 188 L472.8 187.4 L474.1 186.7 L475.4 186.1 L476.8 185.4 L478.1 184.7 L479.4 184.1 L480.8 183.4 L482.1 182.8 L483.4 182.1 L484.7 181.5 L486.1 180.8 L487.4 180.2 L488.7 179.6 L490.1 179 L491.4 178.3 L492.7 177.7 L494.1 177.2 L495.4 176.6 L496.7 176 L498 175.5 L499.4 174.9 L500.7 174.4 L502 173.8 L503.4 173.3 L504.7 172.8 L506 172.4 L507.4 171.9 L508.7 171.4 L510 171 L511.4 170.6 L512.7 170.2 L514 169.8 L515.3 169.4 L516.7 169.1 L518 168.7 L519.3 168.4 L520.7 168.1 L522 167.8 L523.3 167.5 L524.7 167.3 L526 167 L527.3 166.8 L528.6 166.6 L530 166.4 L531.3 166.2 L532.6 166 L534 165.8 L535.3 165.7 L536.6 165.6 L538 165.4 L539.3 165.3 L540.6 165.2 L542 165.1 L543.3 165 L544.6 165 L545.9 164.9 L547.3 164.9 L548.6 164.8 L549.9 164.8 L551.3 164.8 L552.6 164.8 L553.9 164.8 L555.3 164.8 L556.6 164.8 L557.9 164.8 L559.3 164.8 L560.6 164.9 L561.9 164.9 L563.2 165 L564.6 165 L565.9 165.1 L567.2 165.1 L568.6 165.2 L569.9 165.3 L571.2 165.4 L572.6 165.5 L573.9 165.6 L575.2 165.7 L576.5 165.8 L577.9 165.9 L579.2 166 L580.5 166.1 L581.9 166.2 L583.2 166.3 L584.5 166.4 L585.9 166.5 L587.2 166.6 L588.5 166.8 L589.9 166.9 L591.2 167 L592.5 167.1 L593.8 167.2 L595.2 167.4 L596.5 167.5 L597.8 167.6 L599.2 167.7 L600.5 167.8 L601.8 168 L603.2 168.1 L604.5 168.2 L605.8 168.3 L607.1 168.4 L608.5 168.5 L609.8 168.6 L611.1 168.7 L612.5 168.8 L613.8 168.9 L615.1 168.9 L616.5 169 L617.8 169.1 L619.1 169.1 L620.5 169.2 L621.8 169.3 L623.1 169.3 L624.4 169.3 L625.8 169.4 L627.1 169.4 L628.4 169.4 L629.8 169.4 L631.1 169.4 L632.4 169.4 L633.8 169.4 L635.1 169.4 L636.4 169.3 L637.7 169.3 L639.1 169.2 L640.4 169.2 L641.7 169.1 L643.1 169 L644.4 168.9 L645.7 168.8 L647.1 168.7 L648.4 168.6 L649.7 168.4 L651.1 168.3 L652.4 168.1 L653.7 167.9 L655 167.7 L656.4 167.5 L657.7 167.3 L659 167.1 L660.4 166.8" fill="none" stroke="#0000ff" stroke-width="1.4" stroke-dasharray="4.2 2.1"/>
<path d="M395.6 205.7 L396.9 206 L398.3 206.3 L399.6 206.5 L400.9 206.7 L402.3 206.9 L403.6 207 L404.9 207.1 L406.2 207.2 L407.6 207.3 L408.9 207.3 L410.2 207.3 L411.6 207.2 L412.9 207.2 L414.2 207.1 L415.6 206.9 L416.9 206.8 L418.2 206.6 L419.5 206.4 L420.9 206.2 L422.2 206 L423.5 205.7 L424.9 205.4 L426.2 205.1 L427.5 204.8 L428.9 204.5 L430.2 204.1 L431.5 203.7 L432.9 203.3 L434.2 202.9 L435.5 202.4 L436.8 202 L438.2 201.5 L439.5 201 L440.8 200.5 L442.2 200 L443.5 199.4 L444.8 198.9 L446.2 198.3 L447.5 197.8 L448.8 197.2 L450.2 196.6 L451.5 196 L452.8 195.4 L454.1 194.7 L455.5 194.1 L456.8 193.4 L458.1 192.8 L459.5 192.1 L460.8 191.5 L462.1 190.8 L463.5 190.1 L464.8 189.4 L466.1 188.8 L467.4 188.1 L468.8 187.4 L470.1 186.7 L471.4 186 L472.8 185.3 L474.1 184.6 L475.4 183.9 L476.8 183.2 L478.1 182.5 L479.4 181.8 L480.8 181.1 L482.1 180.4 L483.4 179.7 L484.7 179 L486.1 178.4 L487.4 177.7 L488.7 177 L490.1 176.4 L491.4 175.7 L492.7 175.1 L494.1 174.4 L495.4 173.8 L496.7 173.2 L498 172.6 L499.4 172 L500.7 171.4 L502 170.8 L503.4 170.2 L504.7 169.7 L506 169.1 L507.4 168.6 L508.7 168.1 L510 167.6 L511.4 167.2 L512.7 166.7 L514 166.3 L515.3 165.8 L516.7 165.4 L518 165.1 L519.3 164.7 L520.7 164.3 L522 164 L523.3 163.7 L524.7 163.4 L526 163.1 L527.3 162.8 L528.6 162.6 L530 162.3 L531.3 162.1 L532.6 161.9 L534 161.7 L535.3 161.5 L536.6 161.3 L538 161.2 L539.3 161 L540.6 160.9 L542 160.8 L543.3 160.6 L544.6 160.5 L545.9 160.5 L547.3 160.4 L548.6 160.3 L549.9 160.3 L551.3 160.2 L552.6 160.2 L553.9 160.2 L555.3 160.1 L556.6 160.1 L557.9 160.1 L559.3 160.1 L560.6 160.2 L561.9 160.2 L563.2 160.2 L564.6 160.3 L565.9 160.3 L567.2 160.4 L568.6 160.4 L569.9 160.5 L571.2 160.5 L572.6 160.6 L573.9 160.7 L575.2 160.8 L576.5 160.9 L577.9 161 L579.2 161.1 L580.5 161.2 L581.9 161.3 L583.2 161.4 L584.5 161.5 L585.9 161.6 L587.2 161.7 L588.5 161.8 L589.9 162 L591.2 162.1 L592.5 162.2 L593.8 162.3 L595.2 162.4 L596.5 162.6 L597.8 162.7 L599.2 162.8 L600.5 162.9 L601.8 163.1 L603.2 163.2 L604.5 163.3 L605.8 163.4 L607.1 163.5 L608.5 163.6 L609.8 163.7 L611.1 163.8 L612.5 163.9 L613.8 164 L615.1 164.1 L616.5 164.2 L617.8 164.3 L619.1 164.4 L620.5 164.5 L621.8 164.5 L623.1 164.6 L624.4 164.6 L625.8 164.7 L627.1 164.7 L628.4 164.8 L629.8 164.8 L631.1 164.8 L632.4 164.8 L633.8 164.8 L635.1 164.8 L636.4 164.8 L637.7 164.8 L639.1 164.8 L640.4 164.7 L641.7 164.7 L643.1 164.6 L644.4 164.6 L645.7 164.5 L647.1 164.4 L648.4 164.3 L649.7 164.2 L651.1 164 L652.4 163.9 L653.7 163.8 L655 163.6 L656.4 163.4 L657.7 163.2 L659 163 L660.4 162.8" fill="none" stroke="#0000ff" stroke-width="1.35"/>
<path d="M395.6 148.3 L396.9 152.9 L398.3 157.3 L399.6 161.4 L400.9 165.2 L402.3 168.7 L403.6 172 L404.9 175 L406.2 177.8 L407.6 180.3 L408.9 182.6 L410.2 184.7 L411.6 186.5 L412.9 188.1 L414.2 189.6 L415.6 190.8 L416.9 191.8 L418.2 192.7 L419.5 193.3 L420.9 193.8 L422.2 194.2 L423.5 194.3 L424.9 194.3 L426.2 194.2 L427.5 193.9 L428.9 193.5 L430.2 193 L431.5 192.4 L432.9 191.6 L434.2 190.8 L435.5 189.8 L436.8 188.8 L438.2 187.6 L439.5 186.4 L440.8 185.1 L442.2 183.8 L443.5 182.4 L444.8 181 L446.2 179.5 L447.5 177.9 L448.8 176.4 L450.2 174.8 L451.5 173.2 L452.8 171.6 L454.1 170 L455.5 168.4 L456.8 166.8 L458.1 165.3 L459.5 163.7 L460.8 162.2 L462.1 160.7 L463.5 159.3 L464.8 157.9 L466.1 156.6 L467.4 155.4 L468.8 154.2 L470.1 153.1 L471.4 152.1 L472.8 151.2 L474.1 150.4 L475.4 149.6 L476.8 149.1 L478.1 148.6 L479.4 148.2 L480.8 148 L482.1 148 L483.4 148 L484.7 148.3 L486.1 148.7 L487.4 149.2 L488.7 149.8 L490.1 150.6 L491.4 151.5 L492.7 152.5 L494.1 153.6 L495.4 154.8 L496.7 156 L498 157.3 L499.4 158.7 L500.7 160.1 L502 161.5 L503.4 163 L504.7 164.5 L506 166 L507.4 167.5 L508.7 169 L510 170.4 L511.4 171.8 L512.7 173.2 L514 174.5 L515.3 175.8 L516.7 177 L518 178.2 L519.3 179.3 L520.7 180.3 L522 181.3 L523.3 182.3 L524.7 183.2 L526 184.1 L527.3 184.9 L528.6 185.6 L530 186.3 L531.3 187 L532.6 187.6 L534 188.2 L535.3 188.7 L536.6 189.2 L538 189.7 L539.3 190.1 L540.6 190.5 L542 190.8 L543.3 191.1 L544.6 191.4 L545.9 191.6 L547.3 191.8 L548.6 192 L549.9 192.1 L551.3 192.2 L552.6 192.2 L553.9 192.3 L555.3 192.3 L556.6 192.2 L557.9 192.2 L559.3 192.1 L560.6 192 L561.9 191.8 L563.2 191.7 L564.6 191.5 L565.9 191.3 L567.2 191 L568.6 190.8 L569.9 190.5 L571.2 190.2 L572.6 189.9 L573.9 189.6 L575.2 189.2 L576.5 188.8 L577.9 188.5 L579.2 188.1 L580.5 187.6 L581.9 187.2 L583.2 186.8 L584.5 186.3 L585.9 185.9 L587.2 185.4 L588.5 185 L589.9 184.5 L591.2 184 L592.5 183.5 L593.8 183 L595.2 182.5 L596.5 182 L597.8 181.5 L599.2 181 L600.5 180.4 L601.8 179.9 L603.2 179.4 L604.5 178.9 L605.8 178.4 L607.1 177.9 L608.5 177.4 L609.8 176.9 L611.1 176.4 L612.5 175.9 L613.8 175.4 L615.1 175 L616.5 174.5 L617.8 174.1 L619.1 173.6 L620.5 173.2 L621.8 172.8 L623.1 172.4 L624.4 172 L625.8 171.7 L627.1 171.3 L628.4 171 L629.8 170.7 L631.1 170.4 L632.4 170.1 L633.8 169.8 L635.1 169.6 L636.4 169.4 L637.7 169.2 L639.1 169 L640.4 168.9 L641.7 168.8 L643.1 168.7 L644.4 168.6 L645.7 168.6 L647.1 168.6 L648.4 168.6 L649.7 168.6 L651.1 168.7 L652.4 168.9 L653.7 169 L655 169.2 L656.4 169.4 L657.7 169.7 L659 170 L660.4 170.3" fill="none" stroke="#008000" stroke-width="1.4" stroke-dasharray="4.2 2.1"/>
<path d="M395.6 207 L396.9 209 L398.3 210.7 L399.6 212.2 L400.9 213.6 L402.3 214.7 L403.6 215.6 L404.9 216.4 L406.2 217 L407.6 217.4 L408.9 217.6 L410.2 217.7 L411.6 217.6 L412.9 217.3 L414.2 216.9 L415.6 216.4 L416.9 215.8 L418.2 215 L419.5 214.1 L420.9 213 L422.2 211.9 L423.5 210.7 L424.9 209.3 L426.2 207.9 L427.5 206.4 L428.9 204.8 L430.2 203.1 L431.5 201.4 L432.9 199.6 L434.2 197.7 L435.5 195.8 L436.8 193.8 L438.2 191.9 L439.5 189.8 L440.8 187.8 L442.2 185.7 L443.5 183.6 L444.8 181.5 L446.2 179.3 L447.5 177.2 L448.8 175.1 L450.2 173 L451.5 170.9 L452.8 168.9 L454.1 166.9 L455.5 164.9 L456.8 162.9 L458.1 161 L459.5 159.2 L460.8 157.4 L462.1 155.7 L463.5 154 L464.8 152.5 L466.1 151 L467.4 149.6 L468.8 148.2 L470.1 147 L471.4 145.9 L472.8 144.9 L474.1 144.1 L475.4 143.3 L476.8 142.7 L478.1 142.2 L479.4 141.9 L480.8 141.7 L482.1 141.6 L483.4 141.7 L484.7 142 L486.1 142.4 L487.4 143 L488.7 143.7 L490.1 144.6 L491.4 145.6 L492.7 146.6 L494.1 147.8 L495.4 149.1 L496.7 150.4 L498 151.8 L499.4 153.3 L500.7 154.8 L502 156.4 L503.4 157.9 L504.7 159.5 L506 161.1 L507.4 162.7 L508.7 164.3 L510 165.9 L511.4 167.4 L512.7 168.9 L514 170.3 L515.3 171.6 L516.7 173 L518 174.2 L519.3 175.4 L520.7 176.5 L522 177.6 L523.3 178.6 L524.7 179.6 L526 180.5 L527.3 181.4 L528.6 182.2 L530 183 L531.3 183.7 L532.6 184.4 L534 185 L535.3 185.6 L536.6 186.2 L538 186.7 L539.3 187.1 L540.6 187.5 L542 187.9 L543.3 188.2 L544.6 188.5 L545.9 188.8 L547.3 189 L548.6 189.2 L549.9 189.3 L551.3 189.4 L552.6 189.5 L553.9 189.5 L555.3 189.5 L556.6 189.5 L557.9 189.4 L559.3 189.4 L560.6 189.2 L561.9 189.1 L563.2 188.9 L564.6 188.7 L565.9 188.5 L567.2 188.3 L568.6 188 L569.9 187.7 L571.2 187.4 L572.6 187.1 L573.9 186.7 L575.2 186.4 L576.5 186 L577.9 185.6 L579.2 185.2 L580.5 184.7 L581.9 184.3 L583.2 183.8 L584.5 183.3 L585.9 182.8 L587.2 182.3 L588.5 181.8 L589.9 181.3 L591.2 180.8 L592.5 180.3 L593.8 179.7 L595.2 179.2 L596.5 178.6 L597.8 178.1 L599.2 177.5 L600.5 176.9 L601.8 176.4 L603.2 175.8 L604.5 175.3 L605.8 174.7 L607.1 174.2 L608.5 173.6 L609.8 173.1 L611.1 172.5 L612.5 172 L613.8 171.4 L615.1 170.9 L616.5 170.4 L617.8 169.9 L619.1 169.4 L620.5 168.9 L621.8 168.5 L623.1 168 L624.4 167.6 L625.8 167.2 L627.1 166.7 L628.4 166.4 L629.8 166 L631.1 165.6 L632.4 165.3 L633.8 165 L635.1 164.7 L636.4 164.4 L637.7 164.1 L639.1 163.9 L640.4 163.7 L641.7 163.5 L643.1 163.4 L644.4 163.3 L645.7 163.2 L647.1 163.1 L648.4 163.1 L649.7 163.1 L651.1 163.1 L652.4 163.2 L653.7 163.3 L655 163.4 L656.4 163.6 L657.7 163.8 L659 164 L660.4 164.3" fill="none" stroke="#008000" stroke-width="1.35"/>
<circle cx="395.6" cy="175.7" r="3.35" fill="#ff0000"/>
<path d="M428.7 164.2V176.8M426 164.2H431.4M426 176.8H431.4" stroke="#ff0000" stroke-width="1.15" fill="none"/>
<circle cx="428.7" cy="170.5" r="3.35" fill="#ff0000"/>
<circle cx="483.86" cy="175.6" r="3.35" fill="#ff0000"/>
<circle cx="513.27" cy="155.9" r="3.35" fill="#ff0000"/>
<path d="M616.24 135.1V145.1M613.54 135.1H618.94M613.54 145.1H618.94" stroke="#ff0000" stroke-width="1.15" fill="none"/>
<circle cx="616.24" cy="140.1" r="3.35" fill="#ff0000"/>
<circle cx="660.37" cy="134.9" r="3.35" fill="#ff0000"/>
<circle cx="395.6" cy="205.7" r="3.35" fill="#ff0000"/>
<circle cx="428.7" cy="194.4" r="3.35" fill="#ff0000"/>
<path d="M483.86 167.7V177.1M481.16 167.7H486.56M481.16 177.1H486.56" stroke="#ff0000" stroke-width="1.15" fill="none"/>
<circle cx="483.86" cy="172.4" r="3.35" fill="#ff0000"/>
<path d="M513.27 145.4V153.8M510.57 145.4H515.97M510.57 153.8H515.97" stroke="#ff0000" stroke-width="1.15" fill="none"/>
<circle cx="513.27" cy="149.6" r="3.35" fill="#ff0000"/>
<path d="M616.24 127.4V138.2M613.54 127.4H618.94M613.54 138.2H618.94" stroke="#ff0000" stroke-width="1.15" fill="none"/>
<circle cx="616.24" cy="132.8" r="3.35" fill="#ff0000"/>
<circle cx="660.37" cy="127.9" r="3.35" fill="#ff0000"/>
<rect x="392" y="177.4" width="7.2" height="7.2" fill="#0000ff"/>
<rect x="425.1" y="196.4" width="7.2" height="7.2" fill="#0000ff"/>
<rect x="480.26" y="178.3" width="7.2" height="7.2" fill="#0000ff"/>
<rect x="509.67" y="166.4" width="7.2" height="7.2" fill="#0000ff"/>
<rect x="612.64" y="165.4" width="7.2" height="7.2" fill="#0000ff"/>
<rect x="656.77" y="163.2" width="7.2" height="7.2" fill="#0000ff"/>
<rect x="392" y="202.1" width="7.2" height="7.2" fill="#0000ff"/>
<rect x="425.1" y="200.9" width="7.2" height="7.2" fill="#0000ff"/>
<rect x="480.26" y="175.9" width="7.2" height="7.2" fill="#0000ff"/>
<rect x="509.67" y="162.9" width="7.2" height="7.2" fill="#0000ff"/>
<rect x="612.64" y="160.6" width="7.2" height="7.2" fill="#0000ff"/>
<rect x="656.77" y="159.2" width="7.2" height="7.2" fill="#0000ff"/>
<path d="M392.4 145.1L398.8 151.5M392.4 151.5L398.8 145.1" stroke="#008000" stroke-width="1.1" fill="none"/>
<path d="M425.5 190.4L431.9 196.8M425.5 196.8L431.9 190.4" stroke="#008000" stroke-width="1.1" fill="none"/>
<path d="M483.86 142.1V154.1M481.16 142.1H486.56M481.16 154.1H486.56" stroke="#008000" stroke-width="1.15" fill="none"/>
<path d="M480.66 144.9L487.06 151.3M480.66 151.3L487.06 144.9" stroke="#008000" stroke-width="1.1" fill="none"/>
<path d="M510.07 170.6L516.47 177M510.07 177L516.47 170.6" stroke="#008000" stroke-width="1.1" fill="none"/>
<path d="M613.04 171.4L619.44 177.8M613.04 177.8L619.44 171.4" stroke="#008000" stroke-width="1.1" fill="none"/>
<path d="M657.17 167.1L663.57 173.5M657.17 173.5L663.57 167.1" stroke="#008000" stroke-width="1.1" fill="none"/>
<path d="M392.4 203.8L398.8 210.2M392.4 210.2L398.8 203.8" stroke="#008000" stroke-width="1.1" fill="none"/>
<path d="M425.5 201.8L431.9 208.2M425.5 208.2L431.9 201.8" stroke="#008000" stroke-width="1.1" fill="none"/>
<path d="M483.86 135.3V148.3M481.16 135.3H486.56M481.16 148.3H486.56" stroke="#008000" stroke-width="1.15" fill="none"/>
<path d="M480.66 138.6L487.06 145M480.66 145L487.06 138.6" stroke="#008000" stroke-width="1.1" fill="none"/>
<path d="M510.07 166.3L516.47 172.7M510.07 172.7L516.47 166.3" stroke="#008000" stroke-width="1.1" fill="none"/>
<path d="M613.04 167.3L619.44 173.7M613.04 173.7L619.44 167.3" stroke="#008000" stroke-width="1.1" fill="none"/>
<path d="M657.17 161.1L663.57 167.5M657.17 167.5L663.57 161.1" stroke="#008000" stroke-width="1.1" fill="none"/>
</g>
<rect x="395.6" y="3.05" width="275.8" height="204.7" fill="none" stroke="#262626" stroke-width="1"/>
<path d="M393 207.75H395.6M393 178.51H395.6M393 149.26H395.6M393 120.02H395.6M393 90.78H395.6M393 61.54H395.6M393 32.29H395.6M393 3.05H395.6M671.4 207.75H674M671.4 173.63H674M671.4 139.52H674M671.4 105.4H674M671.4 71.28H674M671.4 37.17H674M671.4 3.05H674M395.6 207.75V210.35M432.37 207.75V210.35M469.15 207.75V210.35M505.92 207.75V210.35M542.69 207.75V210.35M579.47 207.75V210.35M616.24 207.75V210.35M653.01 207.75V210.35" stroke="#262626" stroke-width="1" fill="none"/>
<text transform="translate(390.1 210.75) scale(0.9 1)" text-anchor="end" class="t">0</text>
<text transform="translate(390.1 181.51) scale(0.9 1)" text-anchor="end" class="t">500</text>
<text transform="translate(390.1 152.26) scale(0.9 1)" text-anchor="end" class="t">1000</text>
<text transform="translate(390.1 123.02) scale(0.9 1)" text-anchor="end" class="t">1500</text>
<text transform="translate(390.1 93.78) scale(0.9 1)" text-anchor="end" class="t">2000</text>
<text transform="translate(390.1 64.54) scale(0.9 1)" text-anchor="end" class="t">2500</text>
<text transform="translate(390.1 35.29) scale(0.9 1)" text-anchor="end" class="t">3000</text>
<text transform="translate(390.1 6.05) scale(0.9 1)" text-anchor="end" class="t">3500</text>
<text transform="translate(676.6 210.75) scale(0.9 1)" class="t">0</text>
<text transform="translate(676.6 176.63) scale(0.9 1)" class="t">100</text>
<text transform="translate(676.6 142.52) scale(0.9 1)" class="t">200</text>
<text transform="translate(676.6 108.4) scale(0.9 1)" class="t">300</text>
<text transform="translate(676.6 74.28) scale(0.9 1)" class="t">400</text>
<text transform="translate(676.6 40.17) scale(0.9 1)" class="t">500</text>
<text transform="translate(676.6 6.05) scale(0.9 1)" class="t">600</text>
<text transform="translate(395.6 219.75) scale(0.9 1)" text-anchor="middle" class="t">0</text>
<text transform="translate(432.37 219.75) scale(0.9 1)" text-anchor="middle" class="t">10</text>
<text transform="translate(469.15 219.75) scale(0.9 1)" text-anchor="middle" class="t">20</text>
<text transform="translate(505.92 219.75) scale(0.9 1)" text-anchor="middle" class="t">30</text>
<text transform="translate(542.69 219.75) scale(0.9 1)" text-anchor="middle" class="t">40</text>
<text transform="translate(579.47 219.75) scale(0.9 1)" text-anchor="middle" class="t">50</text>
<text transform="translate(616.24 219.75) scale(0.9 1)" text-anchor="middle" class="t">60</text>
<text transform="translate(653.01 219.75) scale(0.9 1)" text-anchor="middle" class="t">70</text>
<text x="533.5" y="229.75" text-anchor="middle">Time (h)</text>
<text transform="translate(368.4 105.4) rotate(-90)" text-anchor="middle" style="font-size:7.8px">Carotenoids concentration (<tspan font-style="italic">μ</tspan>g/L)</text>
<text transform="translate(698.4 105.4) rotate(-90)" text-anchor="middle">Carotenoids content (<tspan font-style="italic">μ</tspan>g/g)</text>
<path d="M402 12.75H418" stroke="#ff0000" stroke-width="1.2"/>
<circle cx="410" cy="12.75" r="3.35" fill="#ff0000"/>
<text transform="translate(424.1 15.75) scale(0.955 1)" style="font-size:8.2px">Zeaxanthin</text>
<path d="M402 26H418" stroke="#0000ff" stroke-width="1.2"/>
<rect x="406.4" y="22.4" width="7.2" height="7.2" fill="#0000ff"/>
<text transform="translate(424.1 29) scale(0.955 1)" style="font-size:8.2px"><tspan font-style="italic">β</tspan>-cryptoxanthin</text>
<path d="M402 39.25H418" stroke="#008000" stroke-width="1.2"/>
<path d="M406.8 36.05L413.2 42.45M406.8 42.45L413.2 36.05" stroke="#008000" stroke-width="1.1" fill="none"/>
<text transform="translate(424.1 42.25) scale(0.955 1)" style="font-size:8.2px"><tspan font-style="italic">β</tspan>-carotene</text>
<text x="528.5" y="262.35" text-anchor="middle" style="font-size:18.5px">(b)</text>
<clipPath id="clipc"><rect x="33.5" y="301.6" width="275.8" height="204.7"/></clipPath>
<g clip-path="url(#clipc)">
<path d="M33.5 472.1 L34.8 472.1 L36.2 472.1 L37.5 471.9 L38.8 471.5 L40.2 471.1 L41.5 470.5 L42.8 469.9 L44.1 469.1 L45.5 468.2 L46.8 467.2 L48.1 466.2 L49.5 465 L50.8 463.7 L52.1 462.4 L53.5 461 L54.8 459.4 L56.1 457.9 L57.4 456.2 L58.8 454.5 L60.1 452.7 L61.4 450.8 L62.8 448.9 L64.1 446.9 L65.4 444.9 L66.8 442.8 L68.1 440.7 L69.4 438.6 L70.8 436.4 L72.1 434.1 L73.4 431.9 L74.7 429.6 L76.1 427.2 L77.4 424.9 L78.7 422.5 L80.1 420.2 L81.4 417.8 L82.7 415.4 L84.1 413 L85.4 410.6 L86.7 408.2 L88.1 405.8 L89.4 403.4 L90.7 401.1 L92 398.7 L93.4 396.4 L94.7 394.1 L96 391.8 L97.4 389.5 L98.7 387.3 L100 385.1 L101.4 383 L102.7 380.9 L104 378.8 L105.3 376.8 L106.7 374.9 L108 373 L109.3 371.1 L110.7 369.4 L112 367.7 L113.3 366 L114.7 364.5 L116 363 L117.3 361.6 L118.7 360.3 L120 359.1 L121.3 358 L122.6 356.9 L124 356 L125.3 355.1 L126.6 354.4 L128 353.7 L129.3 353.1 L130.6 352.6 L132 352.1 L133.3 351.7 L134.6 351.4 L135.9 351.2 L137.3 351 L138.6 350.8 L139.9 350.8 L141.3 350.7 L142.6 350.8 L143.9 350.8 L145.3 350.9 L146.6 351.1 L147.9 351.2 L149.3 351.5 L150.6 351.7 L151.9 351.9 L153.2 352.2 L154.6 352.5 L155.9 352.8 L157.2 353.2 L158.6 353.5 L159.9 353.9 L161.2 354.3 L162.6 354.7 L163.9 355.1 L165.2 355.6 L166.5 356 L167.9 356.5 L169.2 356.9 L170.5 357.4 L171.9 357.9 L173.2 358.4 L174.5 358.9 L175.9 359.4 L177.2 359.9 L178.5 360.4 L179.9 361 L181.2 361.5 L182.5 362 L183.8 362.5 L185.2 363 L186.5 363.6 L187.8 364.1 L189.2 364.6 L190.5 365.1 L191.8 365.6 L193.2 366.1 L194.5 366.6 L195.8 367.1 L197.2 367.6 L198.5 368 L199.8 368.5 L201.1 368.9 L202.5 369.4 L203.8 369.8 L205.1 370.2 L206.5 370.6 L207.8 370.9 L209.1 371.3 L210.5 371.6 L211.8 371.9 L213.1 372.2 L214.4 372.5 L215.8 372.8 L217.1 373 L218.4 373.2 L219.8 373.4 L221.1 373.6 L222.4 373.8 L223.8 373.9 L225.1 374 L226.4 374.2 L227.8 374.2 L229.1 374.3 L230.4 374.4 L231.7 374.4 L233.1 374.4 L234.4 374.4 L235.7 374.4 L237.1 374.4 L238.4 374.4 L239.7 374.3 L241.1 374.2 L242.4 374.1 L243.7 374 L245 373.9 L246.4 373.7 L247.7 373.5 L249 373.4 L250.4 373.2 L251.7 372.9 L253 372.7 L254.4 372.5 L255.7 372.2 L257 371.9 L258.4 371.6 L259.7 371.3 L261 371 L262.3 370.6 L263.7 370.3 L265 369.9 L266.3 369.5 L267.7 369.1 L269 368.6 L270.3 368.2 L271.7 367.7 L273 367.3 L274.3 366.8 L275.6 366.3 L277 365.8 L278.3 365.2 L279.6 364.7 L281 364.1 L282.3 363.5 L283.6 363 L285 362.3 L286.3 361.7 L287.6 361.1 L289 360.4 L290.3 359.8 L291.6 359.1 L292.9 358.4 L294.3 357.7 L295.6 357 L296.9 356.2 L298.3 355.5" fill="none" stroke="#ff0000" stroke-width="1.4" stroke-dasharray="4.2 2.1"/>
<path d="M33.5 501.5 L34.8 503.8 L36.2 505.8 L37.5 507.5 L38.8 508.9 L40.2 510 L41.5 510.9 L42.8 511.5 L44.1 511.8 L45.5 511.8 L46.8 511.7 L48.1 511.2 L49.5 510.6 L50.8 509.7 L52.1 508.6 L53.5 507.3 L54.8 505.8 L56.1 504.1 L57.4 502.2 L58.8 500.2 L60.1 498 L61.4 495.6 L62.8 493 L64.1 490.3 L65.4 487.5 L66.8 484.5 L68.1 481.4 L69.4 478.2 L70.8 474.9 L72.1 471.5 L73.4 468 L74.7 464.4 L76.1 460.7 L77.4 456.9 L78.7 453.1 L80.1 449.2 L81.4 445.3 L82.7 441.3 L84.1 437.3 L85.4 433.3 L86.7 429.3 L88.1 425.2 L89.4 421.1 L90.7 417.1 L92 413 L93.4 409 L94.7 405 L96 401 L97.4 397.1 L98.7 393.2 L100 389.4 L101.4 385.6 L102.7 381.9 L104 378.3 L105.3 374.8 L106.7 371.4 L108 368.1 L109.3 364.8 L110.7 361.7 L112 358.8 L113.3 355.9 L114.7 353.2 L116 350.7 L117.3 348.3 L118.7 346 L120 344 L121.3 342.1 L122.6 340.4 L124 338.9 L125.3 337.5 L126.6 336.3 L128 335.3 L129.3 334.4 L130.6 333.7 L132 333.1 L133.3 332.7 L134.6 332.3 L135.9 332.1 L137.3 331.9 L138.6 331.9 L139.9 332 L141.3 332.1 L142.6 332.3 L143.9 332.6 L145.3 332.9 L146.6 333.3 L147.9 333.7 L149.3 334.1 L150.6 334.6 L151.9 335.1 L153.2 335.6 L154.6 336.1 L155.9 336.6 L157.2 337.1 L158.6 337.7 L159.9 338.2 L161.2 338.8 L162.6 339.4 L163.9 339.9 L165.2 340.5 L166.5 341.1 L167.9 341.7 L169.2 342.3 L170.5 342.9 L171.9 343.5 L173.2 344.1 L174.5 344.7 L175.9 345.3 L177.2 345.9 L178.5 346.5 L179.9 347.1 L181.2 347.7 L182.5 348.3 L183.8 348.9 L185.2 349.5 L186.5 350 L187.8 350.6 L189.2 351.2 L190.5 351.7 L191.8 352.3 L193.2 352.8 L194.5 353.3 L195.8 353.8 L197.2 354.3 L198.5 354.8 L199.8 355.3 L201.1 355.8 L202.5 356.2 L203.8 356.6 L205.1 357 L206.5 357.4 L207.8 357.8 L209.1 358.2 L210.5 358.5 L211.8 358.8 L213.1 359.1 L214.4 359.4 L215.8 359.7 L217.1 359.9 L218.4 360.1 L219.8 360.3 L221.1 360.5 L222.4 360.7 L223.8 360.8 L225.1 360.9 L226.4 361 L227.8 361.1 L229.1 361.2 L230.4 361.2 L231.7 361.3 L233.1 361.3 L234.4 361.3 L235.7 361.2 L237.1 361.2 L238.4 361.1 L239.7 361.1 L241.1 361 L242.4 360.8 L243.7 360.7 L245 360.5 L246.4 360.4 L247.7 360.2 L249 360 L250.4 359.7 L251.7 359.5 L253 359.2 L254.4 359 L255.7 358.7 L257 358.3 L258.4 358 L259.7 357.7 L261 357.3 L262.3 356.9 L263.7 356.5 L265 356.1 L266.3 355.7 L267.7 355.2 L269 354.7 L270.3 354.3 L271.7 353.8 L273 353.2 L274.3 352.7 L275.6 352.2 L277 351.6 L278.3 351 L279.6 350.4 L281 349.8 L282.3 349.2 L283.6 348.5 L285 347.9 L286.3 347.2 L287.6 346.5 L289 345.8 L290.3 345.1 L291.6 344.3 L292.9 343.6 L294.3 342.8 L295.6 342 L296.9 341.2 L298.3 340.4" fill="none" stroke="#ff0000" stroke-width="1.35"/>
<path d="M33.5 495.9 L34.8 495.9 L36.2 496 L37.5 496 L38.8 496 L40.2 496 L41.5 496.1 L42.8 496.1 L44.1 496.1 L45.5 496.1 L46.8 496.1 L48.1 496.1 L49.5 496.1 L50.8 496.1 L52.1 496.1 L53.5 496.1 L54.8 496.1 L56.1 496.1 L57.4 496 L58.8 496 L60.1 496 L61.4 496 L62.8 496 L64.1 495.9 L65.4 495.9 L66.8 495.9 L68.1 495.9 L69.4 495.8 L70.8 495.8 L72.1 495.8 L73.4 495.8 L74.7 495.7 L76.1 495.7 L77.4 495.7 L78.7 495.6 L80.1 495.6 L81.4 495.6 L82.7 495.5 L84.1 495.5 L85.4 495.5 L86.7 495.5 L88.1 495.4 L89.4 495.4 L90.7 495.4 L92 495.3 L93.4 495.3 L94.7 495.3 L96 495.3 L97.4 495.3 L98.7 495.2 L100 495.2 L101.4 495.2 L102.7 495.2 L104 495.2 L105.3 495.2 L106.7 495.2 L108 495.2 L109.3 495.2 L110.7 495.2 L112 495.2 L113.3 495.2 L114.7 495.2 L116 495.2 L117.3 495.2 L118.7 495.2 L120 495.3 L121.3 495.3 L122.6 495.3 L124 495.4 L125.3 495.4 L126.6 495.4 L128 495.5 L129.3 495.5 L130.6 495.6 L132 495.6 L133.3 495.7 L134.6 495.7 L135.9 495.8 L137.3 495.8 L138.6 495.9 L139.9 495.9 L141.3 496 L142.6 496 L143.9 496.1 L145.3 496.1 L146.6 496.2 L147.9 496.2 L149.3 496.2 L150.6 496.3 L151.9 496.3 L153.2 496.3 L154.6 496.4 L155.9 496.4 L157.2 496.4 L158.6 496.4 L159.9 496.5 L161.2 496.5 L162.6 496.5 L163.9 496.5 L165.2 496.5 L166.5 496.5 L167.9 496.5 L169.2 496.5 L170.5 496.5 L171.9 496.5 L173.2 496.5 L174.5 496.5 L175.9 496.5 L177.2 496.5 L178.5 496.5 L179.9 496.5 L181.2 496.5 L182.5 496.4 L183.8 496.4 L185.2 496.4 L186.5 496.4 L187.8 496.4 L189.2 496.4 L190.5 496.4 L191.8 496.4 L193.2 496.4 L194.5 496.4 L195.8 496.4 L197.2 496.4 L198.5 496.4 L199.8 496.4 L201.1 496.4 L202.5 496.4 L203.8 496.4 L205.1 496.4 L206.5 496.4 L207.8 496.5 L209.1 496.5 L210.5 496.5 L211.8 496.5 L213.1 496.6 L214.4 496.6 L215.8 496.6 L217.1 496.7 L218.4 496.7 L219.8 496.7 L221.1 496.8 L222.4 496.8 L223.8 496.9 L225.1 496.9 L226.4 497 L227.8 497 L229.1 497.1 L230.4 497.1 L231.7 497.2 L233.1 497.2 L234.4 497.3 L235.7 497.3 L237.1 497.4 L238.4 497.4 L239.7 497.5 L241.1 497.5 L242.4 497.6 L243.7 497.6 L245 497.7 L246.4 497.7 L247.7 497.8 L249 497.8 L250.4 497.9 L251.7 497.9 L253 498 L254.4 498 L255.7 498 L257 498.1 L258.4 498.1 L259.7 498.2 L261 498.2 L262.3 498.2 L263.7 498.2 L265 498.3 L266.3 498.3 L267.7 498.3 L269 498.3 L270.3 498.3 L271.7 498.3 L273 498.3 L274.3 498.3 L275.6 498.3 L277 498.3 L278.3 498.3 L279.6 498.3 L281 498.2 L282.3 498.2 L283.6 498.2 L285 498.1 L286.3 498.1 L287.6 498 L289 498 L290.3 497.9 L291.6 497.8 L292.9 497.8 L294.3 497.7 L295.6 497.6 L296.9 497.5 L298.3 497.4" fill="none" stroke="#0000ff" stroke-width="1.4" stroke-dasharray="4.2 2.1"/>
<path d="M33.5 506 L34.8 506.1 L36.2 506.1 L37.5 506.2 L38.8 506.2 L40.2 506.2 L41.5 506.2 L42.8 506.1 L44.1 506.1 L45.5 506 L46.8 506 L48.1 505.9 L49.5 505.8 L50.8 505.7 L52.1 505.6 L53.5 505.4 L54.8 505.3 L56.1 505.1 L57.4 505 L58.8 504.8 L60.1 504.6 L61.4 504.4 L62.8 504.2 L64.1 504 L65.4 503.8 L66.8 503.6 L68.1 503.3 L69.4 503.1 L70.8 502.9 L72.1 502.6 L73.4 502.4 L74.7 502.1 L76.1 501.9 L77.4 501.6 L78.7 501.4 L80.1 501.1 L81.4 500.9 L82.7 500.6 L84.1 500.4 L85.4 500.1 L86.7 499.9 L88.1 499.6 L89.4 499.3 L90.7 499.1 L92 498.9 L93.4 498.6 L94.7 498.4 L96 498.1 L97.4 497.9 L98.7 497.7 L100 497.5 L101.4 497.3 L102.7 497.1 L104 496.9 L105.3 496.7 L106.7 496.5 L108 496.4 L109.3 496.2 L110.7 496.1 L112 495.9 L113.3 495.8 L114.7 495.7 L116 495.6 L117.3 495.5 L118.7 495.4 L120 495.4 L121.3 495.3 L122.6 495.3 L124 495.3 L125.3 495.3 L126.6 495.3 L128 495.3 L129.3 495.3 L130.6 495.4 L132 495.4 L133.3 495.5 L134.6 495.5 L135.9 495.6 L137.3 495.7 L138.6 495.8 L139.9 495.8 L141.3 495.9 L142.6 496 L143.9 496.1 L145.3 496.2 L146.6 496.3 L147.9 496.3 L149.3 496.4 L150.6 496.5 L151.9 496.5 L153.2 496.6 L154.6 496.6 L155.9 496.7 L157.2 496.7 L158.6 496.8 L159.9 496.8 L161.2 496.8 L162.6 496.8 L163.9 496.9 L165.2 496.9 L166.5 496.9 L167.9 496.9 L169.2 496.9 L170.5 496.9 L171.9 496.9 L173.2 496.9 L174.5 496.9 L175.9 496.8 L177.2 496.8 L178.5 496.8 L179.9 496.8 L181.2 496.8 L182.5 496.8 L183.8 496.7 L185.2 496.7 L186.5 496.7 L187.8 496.7 L189.2 496.6 L190.5 496.6 L191.8 496.6 L193.2 496.6 L194.5 496.6 L195.8 496.5 L197.2 496.5 L198.5 496.5 L199.8 496.5 L201.1 496.5 L202.5 496.5 L203.8 496.5 L205.1 496.5 L206.5 496.5 L207.8 496.5 L209.1 496.5 L210.5 496.5 L211.8 496.5 L213.1 496.5 L214.4 496.6 L215.8 496.6 L217.1 496.6 L218.4 496.6 L219.8 496.7 L221.1 496.7 L222.4 496.8 L223.8 496.8 L225.1 496.8 L226.4 496.9 L227.8 496.9 L229.1 497 L230.4 497 L231.7 497.1 L233.1 497.1 L234.4 497.2 L235.7 497.3 L237.1 497.3 L238.4 497.4 L239.7 497.4 L241.1 497.5 L242.4 497.5 L243.7 497.6 L245 497.7 L246.4 497.7 L247.7 497.8 L249 497.8 L250.4 497.9 L251.7 497.9 L253 498 L254.4 498 L255.7 498.1 L257 498.1 L258.4 498.1 L259.7 498.2 L261 498.2 L262.3 498.2 L263.7 498.3 L265 498.3 L266.3 498.3 L267.7 498.3 L269 498.4 L270.3 498.4 L271.7 498.4 L273 498.4 L274.3 498.4 L275.6 498.4 L277 498.4 L278.3 498.3 L279.6 498.3 L281 498.3 L282.3 498.3 L283.6 498.2 L285 498.2 L286.3 498.1 L287.6 498.1 L289 498 L290.3 498 L291.6 497.9 L292.9 497.8 L294.3 497.7 L295.6 497.6 L296.9 497.5 L298.3 497.4" fill="none" stroke="#0000ff" stroke-width="1.35"/>
<path d="M33.5 489.7 L34.8 489.8 L36.2 489.8 L37.5 489.9 L38.8 489.9 L40.2 490 L41.5 490 L42.8 490 L44.1 490 L45.5 490.1 L46.8 490.1 L48.1 490.1 L49.5 490.1 L50.8 490.1 L52.1 490.1 L53.5 490.1 L54.8 490.1 L56.1 490.1 L57.4 490.1 L58.8 490.1 L60.1 490.1 L61.4 490.1 L62.8 490.1 L64.1 490 L65.4 490 L66.8 490 L68.1 490 L69.4 489.9 L70.8 489.9 L72.1 489.9 L73.4 489.9 L74.7 489.8 L76.1 489.8 L77.4 489.8 L78.7 489.7 L80.1 489.7 L81.4 489.7 L82.7 489.6 L84.1 489.6 L85.4 489.6 L86.7 489.6 L88.1 489.5 L89.4 489.5 L90.7 489.5 L92 489.4 L93.4 489.4 L94.7 489.4 L96 489.4 L97.4 489.4 L98.7 489.3 L100 489.3 L101.4 489.3 L102.7 489.3 L104 489.3 L105.3 489.3 L106.7 489.3 L108 489.3 L109.3 489.3 L110.7 489.3 L112 489.3 L113.3 489.3 L114.7 489.3 L116 489.4 L117.3 489.4 L118.7 489.4 L120 489.4 L121.3 489.5 L122.6 489.5 L124 489.6 L125.3 489.6 L126.6 489.7 L128 489.7 L129.3 489.8 L130.6 489.9 L132 489.9 L133.3 490 L134.6 490.1 L135.9 490.1 L137.3 490.2 L138.6 490.3 L139.9 490.3 L141.3 490.4 L142.6 490.4 L143.9 490.5 L145.3 490.5 L146.6 490.6 L147.9 490.6 L149.3 490.7 L150.6 490.7 L151.9 490.7 L153.2 490.7 L154.6 490.7 L155.9 490.7 L157.2 490.7 L158.6 490.7 L159.9 490.7 L161.2 490.7 L162.6 490.7 L163.9 490.6 L165.2 490.6 L166.5 490.6 L167.9 490.5 L169.2 490.5 L170.5 490.5 L171.9 490.4 L173.2 490.4 L174.5 490.3 L175.9 490.3 L177.2 490.2 L178.5 490.2 L179.9 490.1 L181.2 490 L182.5 490 L183.8 489.9 L185.2 489.9 L186.5 489.8 L187.8 489.8 L189.2 489.7 L190.5 489.7 L191.8 489.6 L193.2 489.6 L194.5 489.5 L195.8 489.5 L197.2 489.4 L198.5 489.4 L199.8 489.4 L201.1 489.4 L202.5 489.3 L203.8 489.3 L205.1 489.3 L206.5 489.3 L207.8 489.3 L209.1 489.3 L210.5 489.3 L211.8 489.3 L213.1 489.3 L214.4 489.4 L215.8 489.4 L217.1 489.4 L218.4 489.5 L219.8 489.5 L221.1 489.6 L222.4 489.6 L223.8 489.7 L225.1 489.8 L226.4 489.8 L227.8 489.9 L229.1 490 L230.4 490 L231.7 490.1 L233.1 490.2 L234.4 490.3 L235.7 490.3 L237.1 490.4 L238.4 490.5 L239.7 490.6 L241.1 490.7 L242.4 490.7 L243.7 490.8 L245 490.9 L246.4 491 L247.7 491.1 L249 491.1 L250.4 491.2 L251.7 491.3 L253 491.3 L254.4 491.4 L255.7 491.5 L257 491.5 L258.4 491.6 L259.7 491.6 L261 491.7 L262.3 491.7 L263.7 491.8 L265 491.8 L266.3 491.8 L267.7 491.9 L269 491.9 L270.3 491.9 L271.7 491.9 L273 491.9 L274.3 491.9 L275.6 491.9 L277 491.9 L278.3 491.8 L279.6 491.8 L281 491.8 L282.3 491.7 L283.6 491.6 L285 491.6 L286.3 491.5 L287.6 491.4 L289 491.3 L290.3 491.2 L291.6 491.1 L292.9 490.9 L294.3 490.8 L295.6 490.6 L296.9 490.5 L298.3 490.3" fill="none" stroke="#008000" stroke-width="1.4" stroke-dasharray="4.2 2.1"/>
<path d="M33.5 506 L34.8 506.1 L36.2 506.1 L37.5 506.1 L38.8 506.1 L40.2 506 L41.5 506 L42.8 505.9 L44.1 505.8 L45.5 505.7 L46.8 505.6 L48.1 505.4 L49.5 505.3 L50.8 505.1 L52.1 504.9 L53.5 504.7 L54.8 504.4 L56.1 504.2 L57.4 503.9 L58.8 503.7 L60.1 503.4 L61.4 503.1 L62.8 502.8 L64.1 502.5 L65.4 502.2 L66.8 501.9 L68.1 501.5 L69.4 501.2 L70.8 500.8 L72.1 500.5 L73.4 500.1 L74.7 499.8 L76.1 499.4 L77.4 499 L78.7 498.7 L80.1 498.3 L81.4 497.9 L82.7 497.5 L84.1 497.2 L85.4 496.8 L86.7 496.4 L88.1 496.1 L89.4 495.7 L90.7 495.3 L92 495 L93.4 494.6 L94.7 494.3 L96 493.9 L97.4 493.6 L98.7 493.3 L100 493 L101.4 492.6 L102.7 492.3 L104 492.1 L105.3 491.8 L106.7 491.5 L108 491.3 L109.3 491 L110.7 490.8 L112 490.6 L113.3 490.4 L114.7 490.2 L116 490 L117.3 489.9 L118.7 489.7 L120 489.6 L121.3 489.5 L122.6 489.5 L124 489.4 L125.3 489.4 L126.6 489.3 L128 489.3 L129.3 489.3 L130.6 489.3 L132 489.4 L133.3 489.4 L134.6 489.5 L135.9 489.5 L137.3 489.6 L138.6 489.6 L139.9 489.7 L141.3 489.8 L142.6 489.9 L143.9 489.9 L145.3 490 L146.6 490.1 L147.9 490.2 L149.3 490.2 L150.6 490.3 L151.9 490.3 L153.2 490.4 L154.6 490.4 L155.9 490.4 L157.2 490.4 L158.6 490.5 L159.9 490.5 L161.2 490.5 L162.6 490.5 L163.9 490.5 L165.2 490.4 L166.5 490.4 L167.9 490.4 L169.2 490.4 L170.5 490.3 L171.9 490.3 L173.2 490.3 L174.5 490.2 L175.9 490.2 L177.2 490.1 L178.5 490.1 L179.9 490 L181.2 490 L182.5 489.9 L183.8 489.9 L185.2 489.8 L186.5 489.8 L187.8 489.7 L189.2 489.7 L190.5 489.7 L191.8 489.6 L193.2 489.6 L194.5 489.5 L195.8 489.5 L197.2 489.4 L198.5 489.4 L199.8 489.4 L201.1 489.4 L202.5 489.3 L203.8 489.3 L205.1 489.3 L206.5 489.3 L207.8 489.3 L209.1 489.3 L210.5 489.3 L211.8 489.3 L213.1 489.3 L214.4 489.4 L215.8 489.4 L217.1 489.4 L218.4 489.5 L219.8 489.5 L221.1 489.6 L222.4 489.6 L223.8 489.7 L225.1 489.8 L226.4 489.8 L227.8 489.9 L229.1 490 L230.4 490 L231.7 490.1 L233.1 490.2 L234.4 490.3 L235.7 490.3 L237.1 490.4 L238.4 490.5 L239.7 490.6 L241.1 490.7 L242.4 490.7 L243.7 490.8 L245 490.9 L246.4 491 L247.7 491.1 L249 491.1 L250.4 491.2 L251.7 491.3 L253 491.3 L254.4 491.4 L255.7 491.5 L257 491.5 L258.4 491.6 L259.7 491.6 L261 491.7 L262.3 491.7 L263.7 491.8 L265 491.8 L266.3 491.8 L267.7 491.9 L269 491.9 L270.3 491.9 L271.7 491.9 L273 491.9 L274.3 491.9 L275.6 491.9 L277 491.9 L278.3 491.8 L279.6 491.8 L281 491.8 L282.3 491.7 L283.6 491.6 L285 491.6 L286.3 491.5 L287.6 491.4 L289 491.3 L290.3 491.2 L291.6 491.1 L292.9 490.9 L294.3 490.8 L295.6 490.6 L296.9 490.5 L298.3 490.3" fill="none" stroke="#008000" stroke-width="1.35"/>
<path d="M33.5 454.1V490.1M30.8 454.1H36.2M30.8 490.1H36.2" stroke="#ff0000" stroke-width="1.15" fill="none"/>
<circle cx="33.5" cy="472.1" r="3.35" fill="#ff0000"/>
<path d="M66.6 427.1V459.1M63.9 427.1H69.3M63.9 459.1H69.3" stroke="#ff0000" stroke-width="1.15" fill="none"/>
<circle cx="66.6" cy="443.1" r="3.35" fill="#ff0000"/>
<path d="M121.76 353.2V362M119.06 353.2H124.46M119.06 362H124.46" stroke="#ff0000" stroke-width="1.15" fill="none"/>
<circle cx="121.76" cy="357.6" r="3.35" fill="#ff0000"/>
<path d="M151.17 332.8V370.8M148.47 332.8H153.87M148.47 370.8H153.87" stroke="#ff0000" stroke-width="1.15" fill="none"/>
<circle cx="151.17" cy="351.8" r="3.35" fill="#ff0000"/>
<path d="M210.01 365.5V377.5M207.31 365.5H212.71M207.31 377.5H212.71" stroke="#ff0000" stroke-width="1.15" fill="none"/>
<circle cx="210.01" cy="371.5" r="3.35" fill="#ff0000"/>
<path d="M254.14 361.5V383.5M251.44 361.5H256.84M251.44 383.5H256.84" stroke="#ff0000" stroke-width="1.15" fill="none"/>
<circle cx="254.14" cy="372.5" r="3.35" fill="#ff0000"/>
<path d="M298.27 347.5V363.5M295.57 347.5H300.97M295.57 363.5H300.97" stroke="#ff0000" stroke-width="1.15" fill="none"/>
<circle cx="298.27" cy="355.5" r="3.35" fill="#ff0000"/>
<circle cx="33.5" cy="501.5" r="3.35" fill="#ff0000"/>
<path d="M66.6 480.9V488.9M63.9 480.9H69.3M63.9 488.9H69.3" stroke="#ff0000" stroke-width="1.15" fill="none"/>
<circle cx="66.6" cy="484.9" r="3.35" fill="#ff0000"/>
<path d="M121.76 337V346M119.06 337H124.46M119.06 346H124.46" stroke="#ff0000" stroke-width="1.15" fill="none"/>
<circle cx="121.76" cy="341.5" r="3.35" fill="#ff0000"/>
<path d="M151.17 314.8V354.8M148.47 314.8H153.87M148.47 354.8H153.87" stroke="#ff0000" stroke-width="1.15" fill="none"/>
<circle cx="151.17" cy="334.8" r="3.35" fill="#ff0000"/>
<path d="M210.01 351.4V365.4M207.31 351.4H212.71M207.31 365.4H212.71" stroke="#ff0000" stroke-width="1.15" fill="none"/>
<circle cx="210.01" cy="358.4" r="3.35" fill="#ff0000"/>
<path d="M254.14 347V371M251.44 347H256.84M251.44 371H256.84" stroke="#ff0000" stroke-width="1.15" fill="none"/>
<circle cx="254.14" cy="359" r="3.35" fill="#ff0000"/>
<path d="M298.27 331.4V349.4M295.57 331.4H300.97M295.57 349.4H300.97" stroke="#ff0000" stroke-width="1.15" fill="none"/>
<circle cx="298.27" cy="340.4" r="3.35" fill="#ff0000"/>
<rect x="29.9" y="492.3" width="7.2" height="7.2" fill="#0000ff"/>
<rect x="63" y="492.3" width="7.2" height="7.2" fill="#0000ff"/>
<rect x="118.16" y="491.7" width="7.2" height="7.2" fill="#0000ff"/>
<rect x="147.57" y="492.7" width="7.2" height="7.2" fill="#0000ff"/>
<rect x="206.41" y="492.9" width="7.2" height="7.2" fill="#0000ff"/>
<rect x="250.54" y="494.4" width="7.2" height="7.2" fill="#0000ff"/>
<rect x="294.67" y="493.8" width="7.2" height="7.2" fill="#0000ff"/>
<rect x="29.9" y="502.4" width="7.2" height="7.2" fill="#0000ff"/>
<rect x="63" y="500" width="7.2" height="7.2" fill="#0000ff"/>
<rect x="118.16" y="491.7" width="7.2" height="7.2" fill="#0000ff"/>
<rect x="147.57" y="492.9" width="7.2" height="7.2" fill="#0000ff"/>
<rect x="206.41" y="492.9" width="7.2" height="7.2" fill="#0000ff"/>
<rect x="250.54" y="494.4" width="7.2" height="7.2" fill="#0000ff"/>
<rect x="294.67" y="493.8" width="7.2" height="7.2" fill="#0000ff"/>
<path d="M30.3 486.5L36.7 492.9M30.3 492.9L36.7 486.5" stroke="#008000" stroke-width="1.1" fill="none"/>
<path d="M63.4 486.8L69.8 493.2M63.4 493.2L69.8 486.8" stroke="#008000" stroke-width="1.1" fill="none"/>
<path d="M118.56 486.3L124.96 492.7M118.56 492.7L124.96 486.3" stroke="#008000" stroke-width="1.1" fill="none"/>
<path d="M147.97 487.5L154.37 493.9M147.97 493.9L154.37 487.5" stroke="#008000" stroke-width="1.1" fill="none"/>
<path d="M206.81 486.1L213.21 492.5M206.81 492.5L213.21 486.1" stroke="#008000" stroke-width="1.1" fill="none"/>
<path d="M250.94 488.2L257.34 494.6M250.94 494.6L257.34 488.2" stroke="#008000" stroke-width="1.1" fill="none"/>
<path d="M295.07 487.1L301.47 493.5M295.07 493.5L301.47 487.1" stroke="#008000" stroke-width="1.1" fill="none"/>
<path d="M30.3 502.8L36.7 509.2M30.3 509.2L36.7 502.8" stroke="#008000" stroke-width="1.1" fill="none"/>
<path d="M63.4 498.7L69.8 505.1M63.4 505.1L69.8 498.7" stroke="#008000" stroke-width="1.1" fill="none"/>
<path d="M118.56 486.3L124.96 492.7M118.56 492.7L124.96 486.3" stroke="#008000" stroke-width="1.1" fill="none"/>
<path d="M147.97 487.1L154.37 493.5M147.97 493.5L154.37 487.1" stroke="#008000" stroke-width="1.1" fill="none"/>
<path d="M206.81 486.1L213.21 492.5M206.81 492.5L213.21 486.1" stroke="#008000" stroke-width="1.1" fill="none"/>
<path d="M250.94 488.2L257.34 494.6M250.94 494.6L257.34 488.2" stroke="#008000" stroke-width="1.1" fill="none"/>
<path d="M295.07 487.1L301.47 493.5M295.07 493.5L301.47 487.1" stroke="#008000" stroke-width="1.1" fill="none"/>
</g>
<rect x="33.5" y="301.6" width="275.8" height="204.7" fill="none" stroke="#262626" stroke-width="1"/>
<path d="M30.9 506.3H33.5M30.9 477.06H33.5M30.9 447.81H33.5M30.9 418.57H33.5M30.9 389.33H33.5M30.9 360.09H33.5M30.9 330.84H33.5M30.9 301.6H33.5M309.3 506.3H311.9M309.3 472.18H311.9M309.3 438.07H311.9M309.3 403.95H311.9M309.3 369.83H311.9M309.3 335.72H311.9M309.3 301.6H311.9M33.5 506.3V508.9M70.27 506.3V508.9M107.05 506.3V508.9M143.82 506.3V508.9M180.59 506.3V508.9M217.37 506.3V508.9M254.14 506.3V508.9M290.91 506.3V508.9" stroke="#262626" stroke-width="1" fill="none"/>
<text transform="translate(28 509.3) scale(0.9 1)" text-anchor="end" class="t">0</text>
<text transform="translate(28 480.06) scale(0.9 1)" text-anchor="end" class="t">500</text>
<text transform="translate(28 450.81) scale(0.9 1)" text-anchor="end" class="t">1000</text>
<text transform="translate(28 421.57) scale(0.9 1)" text-anchor="end" class="t">1500</text>
<text transform="translate(28 392.33) scale(0.9 1)" text-anchor="end" class="t">2000</text>
<text transform="translate(28 363.09) scale(0.9 1)" text-anchor="end" class="t">2500</text>
<text transform="translate(28 333.84) scale(0.9 1)" text-anchor="end" class="t">3000</text>
<text transform="translate(28 304.6) scale(0.9 1)" text-anchor="end" class="t">3500</text>
<text transform="translate(314.5 509.3) scale(0.9 1)" class="t">0</text>
<text transform="translate(314.5 475.18) scale(0.9 1)" class="t">100</text>
<text transform="translate(314.5 441.07) scale(0.9 1)" class="t">200</text>
<text transform="translate(314.5 406.95) scale(0.9 1)" class="t">300</text>
<text transform="translate(314.5 372.83) scale(0.9 1)" class="t">400</text>
<text transform="translate(314.5 338.72) scale(0.9 1)" class="t">500</text>
<text transform="translate(314.5 304.6) scale(0.9 1)" class="t">600</text>
<text transform="translate(33.5 518.3) scale(0.9 1)" text-anchor="middle" class="t">0</text>
<text transform="translate(70.27 518.3) scale(0.9 1)" text-anchor="middle" class="t">10</text>
<text transform="translate(107.05 518.3) scale(0.9 1)" text-anchor="middle" class="t">20</text>
<text transform="translate(143.82 518.3) scale(0.9 1)" text-anchor="middle" class="t">30</text>
<text transform="translate(180.59 518.3) scale(0.9 1)" text-anchor="middle" class="t">40</text>
<text transform="translate(217.37 518.3) scale(0.9 1)" text-anchor="middle" class="t">50</text>
<text transform="translate(254.14 518.3) scale(0.9 1)" text-anchor="middle" class="t">60</text>
<text transform="translate(290.91 518.3) scale(0.9 1)" text-anchor="middle" class="t">70</text>
<text x="171.4" y="528.3" text-anchor="middle">Time (h)</text>
<text transform="translate(6.3 403.95) rotate(-90)" text-anchor="middle" style="font-size:7.8px">Carotenoids concentration (<tspan font-style="italic">μ</tspan>g/L)</text>
<text transform="translate(336.3 403.95) rotate(-90)" text-anchor="middle">Carotenoids content (<tspan font-style="italic">μ</tspan>g/g)</text>
<path d="M39.9 311.3H55.9" stroke="#ff0000" stroke-width="1.2"/>
<circle cx="47.9" cy="311.3" r="3.35" fill="#ff0000"/>
<text transform="translate(62 314.3) scale(0.955 1)" style="font-size:8.2px">Zeaxanthin</text>
<path d="M39.9 324.55H55.9" stroke="#0000ff" stroke-width="1.2"/>
<rect x="44.3" y="320.95" width="7.2" height="7.2" fill="#0000ff"/>
<text transform="translate(62 327.55) scale(0.955 1)" style="font-size:8.2px"><tspan font-style="italic">β</tspan>-cryptoxanthin</text>
<path d="M39.9 337.8H55.9" stroke="#008000" stroke-width="1.2"/>
<path d="M44.7 334.6L51.1 341M44.7 341L51.1 334.6" stroke="#008000" stroke-width="1.1" fill="none"/>
<text transform="translate(62 340.8) scale(0.955 1)" style="font-size:8.2px"><tspan font-style="italic">β</tspan>-carotene</text>
<text x="167.3" y="560.9" text-anchor="middle" style="font-size:18.5px">(c)</text>
<clipPath id="clipd"><rect x="395.6" y="301.6" width="275.8" height="204.7"/></clipPath>
<g clip-path="url(#clipd)">
<path d="M395.6 472.6 L396.9 473.7 L398.3 474.6 L399.6 475.5 L400.9 476.1 L402.3 476.7 L403.6 477.1 L404.9 477.3 L406.2 477.5 L407.6 477.5 L408.9 477.5 L410.2 477.3 L411.6 477 L412.9 476.6 L414.2 476.1 L415.6 475.5 L416.9 474.8 L418.2 474 L419.5 473.1 L420.9 472.2 L422.2 471.1 L423.5 470 L424.9 468.8 L426.2 467.6 L427.5 466.3 L428.9 464.9 L430.2 463.5 L431.5 462 L432.9 460.5 L434.2 458.9 L435.5 457.3 L436.8 455.7 L438.2 454 L439.5 452.2 L440.8 450.5 L442.2 448.7 L443.5 446.9 L444.8 445.1 L446.2 443.3 L447.5 441.5 L448.8 439.7 L450.2 437.8 L451.5 436 L452.8 434.2 L454.1 432.4 L455.5 430.6 L456.8 428.8 L458.1 427 L459.5 425.3 L460.8 423.6 L462.1 421.9 L463.5 420.3 L464.8 418.7 L466.1 417.1 L467.4 415.6 L468.8 414.1 L470.1 412.7 L471.4 411.4 L472.8 410.1 L474.1 408.8 L475.4 407.7 L476.8 406.6 L478.1 405.6 L479.4 404.6 L480.8 403.8 L482.1 403 L483.4 402.2 L484.7 401.6 L486.1 400.9 L487.4 400.4 L488.7 399.8 L490.1 399.4 L491.4 399 L492.7 398.6 L494.1 398.2 L495.4 397.9 L496.7 397.7 L498 397.4 L499.4 397.2 L500.7 397 L502 396.9 L503.4 396.7 L504.7 396.6 L506 396.5 L507.4 396.4 L508.7 396.3 L510 396.2 L511.4 396.2 L512.7 396.1 L514 396 L515.3 395.9 L516.7 395.8 L518 395.7 L519.3 395.5 L520.7 395.4 L522 395.2 L523.3 395 L524.7 394.8 L526 394.6 L527.3 394.4 L528.6 394.1 L530 393.9 L531.3 393.6 L532.6 393.3 L534 393 L535.3 392.8 L536.6 392.5 L538 392.2 L539.3 391.9 L540.6 391.6 L542 391.3 L543.3 391 L544.6 390.8 L545.9 390.5 L547.3 390.2 L548.6 390 L549.9 389.8 L551.3 389.5 L552.6 389.3 L553.9 389.1 L555.3 389 L556.6 388.8 L557.9 388.7 L559.3 388.6 L560.6 388.5 L561.9 388.5 L563.2 388.5 L564.6 388.5 L565.9 388.5 L567.2 388.6 L568.6 388.7 L569.9 388.9 L571.2 389 L572.6 389.2 L573.9 389.4 L575.2 389.6 L576.5 389.9 L577.9 390.2 L579.2 390.5 L580.5 390.8 L581.9 391.1 L583.2 391.4 L584.5 391.8 L585.9 392.1 L587.2 392.5 L588.5 392.8 L589.9 393.2 L591.2 393.6 L592.5 394 L593.8 394.3 L595.2 394.7 L596.5 395.1 L597.8 395.5 L599.2 395.8 L600.5 396.2 L601.8 396.5 L603.2 396.9 L604.5 397.2 L605.8 397.5 L607.1 397.8 L608.5 398.1 L609.8 398.4 L611.1 398.6 L612.5 398.9 L613.8 399.1 L615.1 399.3 L616.5 399.4 L617.8 399.5 L619.1 399.6 L620.5 399.7 L621.8 399.8 L623.1 399.8 L624.4 399.7 L625.8 399.7 L627.1 399.6 L628.4 399.5 L629.8 399.3 L631.1 399.1 L632.4 398.8 L633.8 398.5 L635.1 398.1 L636.4 397.7 L637.7 397.3 L639.1 396.8 L640.4 396.2 L641.7 395.6 L643.1 395 L644.4 394.2 L645.7 393.5 L647.1 392.6 L648.4 391.7 L649.7 390.8 L651.1 389.7 L652.4 388.6 L653.7 387.5 L655 386.2 L656.4 384.9 L657.7 383.6 L659 382.1 L660.4 380.6" fill="none" stroke="#ff0000" stroke-width="1.4" stroke-dasharray="4.2 2.1"/>
<path d="M395.6 503.2 L396.9 504.7 L398.3 505.9 L399.6 507 L400.9 507.9 L402.3 508.6 L403.6 509.1 L404.9 509.4 L406.2 509.5 L407.6 509.5 L408.9 509.3 L410.2 508.9 L411.6 508.4 L412.9 507.7 L414.2 506.9 L415.6 506 L416.9 504.9 L418.2 503.7 L419.5 502.4 L420.9 500.9 L422.2 499.4 L423.5 497.7 L424.9 496 L426.2 494.1 L427.5 492.2 L428.9 490.1 L430.2 488 L431.5 485.9 L432.9 483.6 L434.2 481.3 L435.5 478.9 L436.8 476.5 L438.2 474 L439.5 471.5 L440.8 469 L442.2 466.4 L443.5 463.8 L444.8 461.2 L446.2 458.6 L447.5 455.9 L448.8 453.3 L450.2 450.7 L451.5 448 L452.8 445.4 L454.1 442.8 L455.5 440.2 L456.8 437.7 L458.1 435.2 L459.5 432.7 L460.8 430.2 L462.1 427.9 L463.5 425.5 L464.8 423.3 L466.1 421.1 L467.4 418.9 L468.8 416.9 L470.1 414.9 L471.4 413 L472.8 411.3 L474.1 409.6 L475.4 408 L476.8 406.5 L478.1 405.2 L479.4 403.9 L480.8 402.8 L482.1 401.7 L483.4 400.8 L484.7 399.9 L486.1 399.1 L487.4 398.4 L488.7 397.8 L490.1 397.3 L491.4 396.8 L492.7 396.4 L494.1 396.1 L495.4 395.8 L496.7 395.6 L498 395.4 L499.4 395.2 L500.7 395.1 L502 395.1 L503.4 395 L504.7 395 L506 395 L507.4 395.1 L508.7 395.1 L510 395.2 L511.4 395.2 L512.7 395.3 L514 395.3 L515.3 395.4 L516.7 395.4 L518 395.4 L519.3 395.4 L520.7 395.4 L522 395.3 L523.3 395.3 L524.7 395.1 L526 395 L527.3 394.9 L528.6 394.7 L530 394.5 L531.3 394.3 L532.6 394 L534 393.8 L535.3 393.6 L536.6 393.3 L538 393 L539.3 392.8 L540.6 392.5 L542 392.2 L543.3 391.9 L544.6 391.7 L545.9 391.4 L547.3 391.1 L548.6 390.9 L549.9 390.6 L551.3 390.4 L552.6 390.2 L553.9 390 L555.3 389.8 L556.6 389.7 L557.9 389.5 L559.3 389.4 L560.6 389.3 L561.9 389.2 L563.2 389.2 L564.6 389.2 L565.9 389.2 L567.2 389.3 L568.6 389.4 L569.9 389.5 L571.2 389.6 L572.6 389.8 L573.9 390 L575.2 390.2 L576.5 390.5 L577.9 390.7 L579.2 391 L580.5 391.3 L581.9 391.6 L583.2 391.9 L584.5 392.3 L585.9 392.6 L587.2 393 L588.5 393.3 L589.9 393.7 L591.2 394 L592.5 394.4 L593.8 394.8 L595.2 395.2 L596.5 395.5 L597.8 395.9 L599.2 396.3 L600.5 396.6 L601.8 397 L603.2 397.3 L604.5 397.6 L605.8 397.9 L607.1 398.2 L608.5 398.5 L609.8 398.8 L611.1 399 L612.5 399.3 L613.8 399.5 L615.1 399.6 L616.5 399.8 L617.8 399.9 L619.1 400 L620.5 400.1 L621.8 400.1 L623.1 400.1 L624.4 400.1 L625.8 400 L627.1 399.9 L628.4 399.8 L629.8 399.6 L631.1 399.4 L632.4 399.1 L633.8 398.8 L635.1 398.4 L636.4 398 L637.7 397.6 L639.1 397 L640.4 396.5 L641.7 395.9 L643.1 395.2 L644.4 394.5 L645.7 393.7 L647.1 392.8 L648.4 391.9 L649.7 390.9 L651.1 389.9 L652.4 388.8 L653.7 387.6 L655 386.3 L656.4 385 L657.7 383.6 L659 382.1 L660.4 380.6" fill="none" stroke="#ff0000" stroke-width="1.35"/>
<path d="M395.6 503.9 L396.9 503.9 L398.3 503.9 L399.6 503.9 L400.9 503.9 L402.3 503.9 L403.6 503.9 L404.9 503.9 L406.2 503.9 L407.6 503.9 L408.9 503.9 L410.2 503.9 L411.6 503.9 L412.9 503.9 L414.2 503.9 L415.6 503.9 L416.9 503.9 L418.2 503.9 L419.5 503.9 L420.9 503.9 L422.2 503.9 L423.5 503.9 L424.9 503.9 L426.2 503.9 L427.5 503.9 L428.9 503.9 L430.2 503.9 L431.5 503.9 L432.9 503.9 L434.2 503.9 L435.5 503.9 L436.8 503.9 L438.2 503.9 L439.5 503.9 L440.8 503.9 L442.2 503.9 L443.5 503.9 L444.8 503.9 L446.2 503.9 L447.5 503.9 L448.8 503.9 L450.2 503.9 L451.5 503.9 L452.8 503.9 L454.1 503.9 L455.5 503.9 L456.8 503.9 L458.1 503.9 L459.5 503.9 L460.8 503.9 L462.1 503.9 L463.5 503.9 L464.8 503.9 L466.1 503.9 L467.4 503.9 L468.8 503.9 L470.1 503.9 L471.4 503.9 L472.8 503.9 L474.1 503.9 L475.4 503.9 L476.8 503.9 L478.1 503.9 L479.4 503.9 L480.8 503.9 L482.1 503.9 L483.4 503.9 L484.7 503.9 L486.1 503.9 L487.4 503.9 L488.7 503.9 L490.1 503.9 L491.4 503.9 L492.7 503.9 L494.1 503.9 L495.4 503.9 L496.7 503.9 L498 503.9 L499.4 503.9 L500.7 503.9 L502 503.9 L503.4 503.9 L504.7 503.9 L506 503.9 L507.4 503.9 L508.7 503.9 L510 503.9 L511.4 503.9 L512.7 503.9 L514 503.9 L515.3 503.9 L516.7 503.9 L518 503.9 L519.3 503.9 L520.7 503.9 L522 503.9 L523.3 503.9 L524.7 503.9 L526 503.9 L527.3 503.9 L528.6 503.9 L530 503.9 L531.3 503.9 L532.6 503.9 L534 503.9 L535.3 503.9 L536.6 503.9 L538 503.9 L539.3 503.9 L540.6 503.9 L542 503.9 L543.3 503.9 L544.6 503.9 L545.9 503.9 L547.3 503.9 L548.6 503.9 L549.9 503.9 L551.3 503.9 L552.6 503.9 L553.9 503.9 L555.3 503.9 L556.6 503.9 L557.9 503.9 L559.3 503.9 L560.6 503.9 L561.9 503.9 L563.2 503.9 L564.6 503.9 L565.9 503.9 L567.2 503.9 L568.6 503.9 L569.9 503.9 L571.2 503.9 L572.6 503.9 L573.9 503.9 L575.2 503.9 L576.5 503.9 L577.9 503.9 L579.2 503.9 L580.5 503.9 L581.9 503.9 L583.2 503.9 L584.5 503.9 L585.9 503.9 L587.2 503.9 L588.5 503.9 L589.9 503.9 L591.2 503.9 L592.5 503.9 L593.8 503.9 L595.2 503.9 L596.5 503.9 L597.8 503.9 L599.2 503.9 L600.5 503.9 L601.8 503.9 L603.2 503.9 L604.5 503.9 L605.8 503.9 L607.1 503.9 L608.5 503.9 L609.8 503.9 L611.1 503.9 L612.5 503.9 L613.8 503.9 L615.1 503.9 L616.5 503.9 L617.8 503.9 L619.1 503.9 L620.5 503.9 L621.8 503.9 L623.1 503.9 L624.4 503.9 L625.8 503.9 L627.1 503.9 L628.4 503.9 L629.8 503.9 L631.1 503.9 L632.4 503.9 L633.8 503.9 L635.1 503.9 L636.4 503.9 L637.7 503.9 L639.1 503.9 L640.4 503.9 L641.7 503.9 L643.1 503.9 L644.4 503.9 L645.7 503.9 L647.1 503.9 L648.4 503.9 L649.7 503.9 L651.1 503.9 L652.4 503.9 L653.7 503.9 L655 503.9 L656.4 503.9 L657.7 503.9 L659 503.9 L660.4 503.9" fill="none" stroke="#0000ff" stroke-width="1.4" stroke-dasharray="4.2 2.1"/>
<path d="M395.6 504.3 L396.9 504.3 L398.3 504.3 L399.6 504.3 L400.9 504.3 L402.3 504.3 L403.6 504.3 L404.9 504.3 L406.2 504.3 L407.6 504.3 L408.9 504.3 L410.2 504.3 L411.6 504.3 L412.9 504.3 L414.2 504.3 L415.6 504.3 L416.9 504.3 L418.2 504.3 L419.5 504.3 L420.9 504.3 L422.2 504.3 L423.5 504.3 L424.9 504.3 L426.2 504.3 L427.5 504.3 L428.9 504.3 L430.2 504.3 L431.5 504.3 L432.9 504.3 L434.2 504.3 L435.5 504.3 L436.8 504.3 L438.2 504.3 L439.5 504.3 L440.8 504.3 L442.2 504.3 L443.5 504.3 L444.8 504.3 L446.2 504.3 L447.5 504.3 L448.8 504.3 L450.2 504.3 L451.5 504.3 L452.8 504.3 L454.1 504.3 L455.5 504.3 L456.8 504.3 L458.1 504.3 L459.5 504.3 L460.8 504.3 L462.1 504.3 L463.5 504.3 L464.8 504.3 L466.1 504.3 L467.4 504.3 L468.8 504.3 L470.1 504.3 L471.4 504.3 L472.8 504.3 L474.1 504.3 L475.4 504.3 L476.8 504.3 L478.1 504.3 L479.4 504.3 L480.8 504.3 L482.1 504.3 L483.4 504.3 L484.7 504.3 L486.1 504.3 L487.4 504.3 L488.7 504.3 L490.1 504.3 L491.4 504.3 L492.7 504.3 L494.1 504.3 L495.4 504.3 L496.7 504.3 L498 504.3 L499.4 504.3 L500.7 504.3 L502 504.3 L503.4 504.3 L504.7 504.3 L506 504.3 L507.4 504.3 L508.7 504.3 L510 504.3 L511.4 504.3 L512.7 504.3 L514 504.3 L515.3 504.3 L516.7 504.3 L518 504.3 L519.3 504.3 L520.7 504.3 L522 504.3 L523.3 504.3 L524.7 504.3 L526 504.3 L527.3 504.3 L528.6 504.3 L530 504.3 L531.3 504.3 L532.6 504.3 L534 504.3 L535.3 504.3 L536.6 504.3 L538 504.3 L539.3 504.3 L540.6 504.3 L542 504.3 L543.3 504.3 L544.6 504.3 L545.9 504.3 L547.3 504.3 L548.6 504.3 L549.9 504.3 L551.3 504.3 L552.6 504.3 L553.9 504.3 L555.3 504.3 L556.6 504.3 L557.9 504.3 L559.3 504.3 L560.6 504.3 L561.9 504.3 L563.2 504.3 L564.6 504.3 L565.9 504.3 L567.2 504.3 L568.6 504.3 L569.9 504.3 L571.2 504.3 L572.6 504.3 L573.9 504.3 L575.2 504.3 L576.5 504.3 L577.9 504.3 L579.2 504.3 L580.5 504.3 L581.9 504.3 L583.2 504.3 L584.5 504.3 L585.9 504.3 L587.2 504.3 L588.5 504.3 L589.9 504.3 L591.2 504.3 L592.5 504.3 L593.8 504.3 L595.2 504.3 L596.5 504.3 L597.8 504.3 L599.2 504.3 L600.5 504.3 L601.8 504.3 L603.2 504.3 L604.5 504.3 L605.8 504.3 L607.1 504.3 L608.5 504.3 L609.8 504.3 L611.1 504.3 L612.5 504.3 L613.8 504.3 L615.1 504.3 L616.5 504.3 L617.8 504.3 L619.1 504.3 L620.5 504.3 L621.8 504.3 L623.1 504.3 L624.4 504.3 L625.8 504.3 L627.1 504.3 L628.4 504.3 L629.8 504.3 L631.1 504.3 L632.4 504.3 L633.8 504.3 L635.1 504.3 L636.4 504.3 L637.7 504.3 L639.1 504.3 L640.4 504.3 L641.7 504.3 L643.1 504.3 L644.4 504.3 L645.7 504.3 L647.1 504.3 L648.4 504.3 L649.7 504.3 L651.1 504.3 L652.4 504.3 L653.7 504.3 L655 504.3 L656.4 504.3 L657.7 504.3 L659 504.3 L660.4 504.3" fill="none" stroke="#0000ff" stroke-width="1.35"/>
<path d="M395.6 506.2 L396.9 506.2 L398.3 506.2 L399.6 506.2 L400.9 506.2 L402.3 506.2 L403.6 506.2 L404.9 506.2 L406.2 506.2 L407.6 506.2 L408.9 506.2 L410.2 506.2 L411.6 506.2 L412.9 506.2 L414.2 506.2 L415.6 506.2 L416.9 506.2 L418.2 506.2 L419.5 506.2 L420.9 506.2 L422.2 506.2 L423.5 506.2 L424.9 506.2 L426.2 506.2 L427.5 506.2 L428.9 506.2 L430.2 506.2 L431.5 506.2 L432.9 506.2 L434.2 506.2 L435.5 506.2 L436.8 506.2 L438.2 506.2 L439.5 506.2 L440.8 506.2 L442.2 506.2 L443.5 506.2 L444.8 506.2 L446.2 506.2 L447.5 506.2 L448.8 506.2 L450.2 506.2 L451.5 506.2 L452.8 506.2 L454.1 506.2 L455.5 506.2 L456.8 506.2 L458.1 506.2 L459.5 506.2 L460.8 506.2 L462.1 506.2 L463.5 506.2 L464.8 506.2 L466.1 506.2 L467.4 506.2 L468.8 506.2 L470.1 506.2 L471.4 506.2 L472.8 506.2 L474.1 506.2 L475.4 506.2 L476.8 506.2 L478.1 506.2 L479.4 506.2 L480.8 506.2 L482.1 506.2 L483.4 506.2 L484.7 506.2 L486.1 506.2 L487.4 506.2 L488.7 506.2 L490.1 506.2 L491.4 506.2 L492.7 506.2 L494.1 506.2 L495.4 506.2 L496.7 506.2 L498 506.2 L499.4 506.2 L500.7 506.2 L502 506.2 L503.4 506.2 L504.7 506.2 L506 506.2 L507.4 506.2 L508.7 506.2 L510 506.2 L511.4 506.2 L512.7 506.2 L514 506.2 L515.3 506.2 L516.7 506.2 L518 506.2 L519.3 506.2 L520.7 506.2 L522 506.2 L523.3 506.2 L524.7 506.2 L526 506.2 L527.3 506.2 L528.6 506.2 L530 506.2 L531.3 506.2 L532.6 506.2 L534 506.2 L535.3 506.2 L536.6 506.2 L538 506.2 L539.3 506.2 L540.6 506.2 L542 506.2 L543.3 506.2 L544.6 506.2 L545.9 506.2 L547.3 506.2 L548.6 506.2 L549.9 506.2 L551.3 506.2 L552.6 506.2 L553.9 506.2 L555.3 506.2 L556.6 506.2 L557.9 506.2 L559.3 506.2 L560.6 506.2 L561.9 506.2 L563.2 506.2 L564.6 506.2 L565.9 506.2 L567.2 506.2 L568.6 506.2 L569.9 506.2 L571.2 506.2 L572.6 506.2 L573.9 506.2 L575.2 506.2 L576.5 506.2 L577.9 506.2 L579.2 506.2 L580.5 506.2 L581.9 506.2 L583.2 506.2 L584.5 506.2 L585.9 506.2 L587.2 506.2 L588.5 506.2 L589.9 506.2 L591.2 506.2 L592.5 506.2 L593.8 506.2 L595.2 506.2 L596.5 506.2 L597.8 506.2 L599.2 506.2 L600.5 506.2 L601.8 506.2 L603.2 506.2 L604.5 506.2 L605.8 506.2 L607.1 506.2 L608.5 506.2 L609.8 506.2 L611.1 506.2 L612.5 506.2 L613.8 506.2 L615.1 506.2 L616.5 506.2 L617.8 506.2 L619.1 506.2 L620.5 506.2 L621.8 506.2 L623.1 506.2 L624.4 506.2 L625.8 506.2 L627.1 506.2 L628.4 506.2 L629.8 506.2 L631.1 506.2 L632.4 506.2 L633.8 506.2 L635.1 506.2 L636.4 506.2 L637.7 506.2 L639.1 506.2 L640.4 506.2 L641.7 506.2 L643.1 506.2 L644.4 506.2 L645.7 506.2 L647.1 506.2 L648.4 506.2 L649.7 506.2 L651.1 506.2 L652.4 506.2 L653.7 506.2 L655 506.2 L656.4 506.2 L657.7 506.2 L659 506.2 L660.4 506.2" fill="none" stroke="#008000" stroke-width="1.4" stroke-dasharray="4.2 2.1"/>
<path d="M395.6 506.3 L396.9 506.3 L398.3 506.3 L399.6 506.3 L400.9 506.3 L402.3 506.3 L403.6 506.3 L404.9 506.3 L406.2 506.3 L407.6 506.3 L408.9 506.3 L410.2 506.3 L411.6 506.3 L412.9 506.3 L414.2 506.3 L415.6 506.3 L416.9 506.3 L418.2 506.3 L419.5 506.3 L420.9 506.3 L422.2 506.3 L423.5 506.3 L424.9 506.3 L426.2 506.3 L427.5 506.3 L428.9 506.3 L430.2 506.3 L431.5 506.3 L432.9 506.3 L434.2 506.3 L435.5 506.3 L436.8 506.3 L438.2 506.3 L439.5 506.3 L440.8 506.3 L442.2 506.3 L443.5 506.3 L444.8 506.3 L446.2 506.3 L447.5 506.3 L448.8 506.3 L450.2 506.3 L451.5 506.3 L452.8 506.3 L454.1 506.3 L455.5 506.3 L456.8 506.3 L458.1 506.3 L459.5 506.3 L460.8 506.3 L462.1 506.3 L463.5 506.3 L464.8 506.3 L466.1 506.3 L467.4 506.3 L468.8 506.3 L470.1 506.3 L471.4 506.3 L472.8 506.3 L474.1 506.3 L475.4 506.3 L476.8 506.3 L478.1 506.3 L479.4 506.3 L480.8 506.3 L482.1 506.3 L483.4 506.3 L484.7 506.3 L486.1 506.3 L487.4 506.3 L488.7 506.3 L490.1 506.3 L491.4 506.3 L492.7 506.3 L494.1 506.3 L495.4 506.3 L496.7 506.3 L498 506.3 L499.4 506.3 L500.7 506.3 L502 506.3 L503.4 506.3 L504.7 506.3 L506 506.3 L507.4 506.3 L508.7 506.3 L510 506.3 L511.4 506.3 L512.7 506.3 L514 506.3 L515.3 506.3 L516.7 506.3 L518 506.3 L519.3 506.3 L520.7 506.3 L522 506.3 L523.3 506.3 L524.7 506.3 L526 506.3 L527.3 506.3 L528.6 506.3 L530 506.3 L531.3 506.3 L532.6 506.3 L534 506.3 L535.3 506.3 L536.6 506.3 L538 506.3 L539.3 506.3 L540.6 506.3 L542 506.3 L543.3 506.3 L544.6 506.3 L545.9 506.3 L547.3 506.3 L548.6 506.3 L549.9 506.3 L551.3 506.3 L552.6 506.3 L553.9 506.3 L555.3 506.3 L556.6 506.3 L557.9 506.3 L559.3 506.3 L560.6 506.3 L561.9 506.3 L563.2 506.3 L564.6 506.3 L565.9 506.3 L567.2 506.3 L568.6 506.3 L569.9 506.3 L571.2 506.3 L572.6 506.3 L573.9 506.3 L575.2 506.3 L576.5 506.3 L577.9 506.3 L579.2 506.3 L580.5 506.3 L581.9 506.3 L583.2 506.3 L584.5 506.3 L585.9 506.3 L587.2 506.3 L588.5 506.3 L589.9 506.3 L591.2 506.3 L592.5 506.3 L593.8 506.3 L595.2 506.3 L596.5 506.3 L597.8 506.3 L599.2 506.3 L600.5 506.3 L601.8 506.3 L603.2 506.3 L604.5 506.3 L605.8 506.3 L607.1 506.3 L608.5 506.3 L609.8 506.3 L611.1 506.3 L612.5 506.3 L613.8 506.3 L615.1 506.3 L616.5 506.3 L617.8 506.3 L619.1 506.3 L620.5 506.3 L621.8 506.3 L623.1 506.3 L624.4 506.3 L625.8 506.3 L627.1 506.3 L628.4 506.3 L629.8 506.3 L631.1 506.3 L632.4 506.3 L633.8 506.3 L635.1 506.3 L636.4 506.3 L637.7 506.3 L639.1 506.3 L640.4 506.3 L641.7 506.3 L643.1 506.3 L644.4 506.3 L645.7 506.3 L647.1 506.3 L648.4 506.3 L649.7 506.3 L651.1 506.3 L652.4 506.3 L653.7 506.3 L655 506.3 L656.4 506.3 L657.7 506.3 L659 506.3 L660.4 506.3" fill="none" stroke="#008000" stroke-width="1.35"/>
<circle cx="395.6" cy="472.6" r="3.35" fill="#ff0000"/>
<path d="M428.7 451.5V478.7M426 451.5H431.4M426 478.7H431.4" stroke="#ff0000" stroke-width="1.15" fill="none"/>
<circle cx="428.7" cy="465.1" r="3.35" fill="#ff0000"/>
<path d="M476.5 400.4V413.2M473.8 400.4H479.2M473.8 413.2H479.2" stroke="#ff0000" stroke-width="1.15" fill="none"/>
<circle cx="476.5" cy="406.8" r="3.35" fill="#ff0000"/>
<path d="M520.63 385.4V405.4M517.93 385.4H523.33M517.93 405.4H523.33" stroke="#ff0000" stroke-width="1.15" fill="none"/>
<circle cx="520.63" cy="395.4" r="3.35" fill="#ff0000"/>
<path d="M564.76 375.5V401.5M562.06 375.5H567.46M562.06 401.5H567.46" stroke="#ff0000" stroke-width="1.15" fill="none"/>
<circle cx="564.76" cy="388.5" r="3.35" fill="#ff0000"/>
<circle cx="608.89" cy="398.2" r="3.35" fill="#ff0000"/>
<path d="M660.37 371.6V389.6M657.67 371.6H663.07M657.67 389.6H663.07" stroke="#ff0000" stroke-width="1.15" fill="none"/>
<circle cx="660.37" cy="380.6" r="3.35" fill="#ff0000"/>
<circle cx="395.6" cy="503.2" r="3.35" fill="#ff0000"/>
<path d="M428.7 485.4V495.4M426 485.4H431.4M426 495.4H431.4" stroke="#ff0000" stroke-width="1.15" fill="none"/>
<circle cx="428.7" cy="490.4" r="3.35" fill="#ff0000"/>
<path d="M476.5 400.4V413.2M473.8 400.4H479.2M473.8 413.2H479.2" stroke="#ff0000" stroke-width="1.15" fill="none"/>
<circle cx="476.5" cy="406.8" r="3.35" fill="#ff0000"/>
<path d="M520.63 385.4V405.4M517.93 385.4H523.33M517.93 405.4H523.33" stroke="#ff0000" stroke-width="1.15" fill="none"/>
<circle cx="520.63" cy="395.4" r="3.35" fill="#ff0000"/>
<path d="M564.76 376.2V402.2M562.06 376.2H567.46M562.06 402.2H567.46" stroke="#ff0000" stroke-width="1.15" fill="none"/>
<circle cx="564.76" cy="389.2" r="3.35" fill="#ff0000"/>
<circle cx="608.89" cy="398.6" r="3.35" fill="#ff0000"/>
<path d="M660.37 371.6V389.6M657.67 371.6H663.07M657.67 389.6H663.07" stroke="#ff0000" stroke-width="1.15" fill="none"/>
<circle cx="660.37" cy="380.6" r="3.35" fill="#ff0000"/>
<rect x="392" y="500.3" width="7.2" height="7.2" fill="#0000ff"/>
<rect x="425.1" y="500.3" width="7.2" height="7.2" fill="#0000ff"/>
<rect x="472.9" y="500.3" width="7.2" height="7.2" fill="#0000ff"/>
<rect x="517.03" y="500.3" width="7.2" height="7.2" fill="#0000ff"/>
<rect x="561.16" y="500.3" width="7.2" height="7.2" fill="#0000ff"/>
<rect x="605.29" y="500.3" width="7.2" height="7.2" fill="#0000ff"/>
<rect x="656.77" y="500.3" width="7.2" height="7.2" fill="#0000ff"/>
<rect x="392" y="500.7" width="7.2" height="7.2" fill="#0000ff"/>
<rect x="425.1" y="500.7" width="7.2" height="7.2" fill="#0000ff"/>
<rect x="472.9" y="500.7" width="7.2" height="7.2" fill="#0000ff"/>
<rect x="517.03" y="500.7" width="7.2" height="7.2" fill="#0000ff"/>
<rect x="561.16" y="500.7" width="7.2" height="7.2" fill="#0000ff"/>
<rect x="605.29" y="500.7" width="7.2" height="7.2" fill="#0000ff"/>
<rect x="656.77" y="500.7" width="7.2" height="7.2" fill="#0000ff"/>
<path d="M392.4 503L398.8 509.4M392.4 509.4L398.8 503" stroke="#008000" stroke-width="1.1" fill="none"/>
<path d="M425.5 503L431.9 509.4M425.5 509.4L431.9 503" stroke="#008000" stroke-width="1.1" fill="none"/>
<path d="M473.3 503L479.7 509.4M473.3 509.4L479.7 503" stroke="#008000" stroke-width="1.1" fill="none"/>
<path d="M517.43 503L523.83 509.4M517.43 509.4L523.83 503" stroke="#008000" stroke-width="1.1" fill="none"/>
<path d="M561.56 503L567.96 509.4M561.56 509.4L567.96 503" stroke="#008000" stroke-width="1.1" fill="none"/>
<path d="M605.69 503L612.09 509.4M605.69 509.4L612.09 503" stroke="#008000" stroke-width="1.1" fill="none"/>
<path d="M657.17 503L663.57 509.4M657.17 509.4L663.57 503" stroke="#008000" stroke-width="1.1" fill="none"/>
<path d="M392.4 503.1L398.8 509.5M392.4 509.5L398.8 503.1" stroke="#008000" stroke-width="1.1" fill="none"/>
<path d="M425.5 503.1L431.9 509.5M425.5 509.5L431.9 503.1" stroke="#008000" stroke-width="1.1" fill="none"/>
<path d="M473.3 503.1L479.7 509.5M473.3 509.5L479.7 503.1" stroke="#008000" stroke-width="1.1" fill="none"/>
<path d="M517.43 503.1L523.83 509.5M517.43 509.5L523.83 503.1" stroke="#008000" stroke-width="1.1" fill="none"/>
<path d="M561.56 503.1L567.96 509.5M561.56 509.5L567.96 503.1" stroke="#008000" stroke-width="1.1" fill="none"/>
<path d="M605.69 503.1L612.09 509.5M605.69 509.5L612.09 503.1" stroke="#008000" stroke-width="1.1" fill="none"/>
<path d="M657.17 503.1L663.57 509.5M657.17 509.5L663.57 503.1" stroke="#008000" stroke-width="1.1" fill="none"/>
</g>
<rect x="395.6" y="301.6" width="275.8" height="204.7" fill="none" stroke="#262626" stroke-width="1"/>
<path d="M393 506.3H395.6M393 477.06H395.6M393 447.81H395.6M393 418.57H395.6M393 389.33H395.6M393 360.09H395.6M393 330.84H395.6M393 301.6H395.6M671.4 506.3H674M671.4 472.18H674M671.4 438.07H674M671.4 403.95H674M671.4 369.83H674M671.4 335.72H674M671.4 301.6H674M395.6 506.3V508.9M432.37 506.3V508.9M469.15 506.3V508.9M505.92 506.3V508.9M542.69 506.3V508.9M579.47 506.3V508.9M616.24 506.3V508.9M653.01 506.3V508.9" stroke="#262626" stroke-width="1" fill="none"/>
<text transform="translate(390.1 509.3) scale(0.9 1)" text-anchor="end" class="t">0</text>
<text transform="translate(390.1 480.06) scale(0.9 1)" text-anchor="end" class="t">500</text>
<text transform="translate(390.1 450.81) scale(0.9 1)" text-anchor="end" class="t">1000</text>
<text transform="translate(390.1 421.57) scale(0.9 1)" text-anchor="end" class="t">1500</text>
<text transform="translate(390.1 392.33) scale(0.9 1)" text-anchor="end" class="t">2000</text>
<text transform="translate(390.1 363.09) scale(0.9 1)" text-anchor="end" class="t">2500</text>
<text transform="translate(390.1 333.84) scale(0.9 1)" text-anchor="end" class="t">3000</text>
<text transform="translate(390.1 304.6) scale(0.9 1)" text-anchor="end" class="t">3500</text>
<text transform="translate(676.6 509.3) scale(0.9 1)" class="t">0</text>
<text transform="translate(676.6 475.18) scale(0.9 1)" class="t">100</text>
<text transform="translate(676.6 441.07) scale(0.9 1)" class="t">200</text>
<text transform="translate(676.6 406.95) scale(0.9 1)" class="t">300</text>
<text transform="translate(676.6 372.83) scale(0.9 1)" class="t">400</text>
<text transform="translate(676.6 338.72) scale(0.9 1)" class="t">500</text>
<text transform="translate(676.6 304.6) scale(0.9 1)" class="t">600</text>
<text transform="translate(395.6 518.3) scale(0.9 1)" text-anchor="middle" class="t">0</text>
<text transform="translate(432.37 518.3) scale(0.9 1)" text-anchor="middle" class="t">10</text>
<text transform="translate(469.15 518.3) scale(0.9 1)" text-anchor="middle" class="t">20</text>
<text transform="translate(505.92 518.3) scale(0.9 1)" text-anchor="middle" class="t">30</text>
<text transform="translate(542.69 518.3) scale(0.9 1)" text-anchor="middle" class="t">40</text>
<text transform="translate(579.47 518.3) scale(0.9 1)" text-anchor="middle" class="t">50</text>
<text transform="translate(616.24 518.3) scale(0.9 1)" text-anchor="middle" class="t">60</text>
<text transform="translate(653.01 518.3) scale(0.9 1)" text-anchor="middle" class="t">70</text>
<text x="533.5" y="528.3" text-anchor="middle">Time (h)</text>
<text transform="translate(368.4 403.95) rotate(-90)" text-anchor="middle" style="font-size:7.8px">Carotenoids concentration (<tspan font-style="italic">μ</tspan>g/L)</text>
<text transform="translate(698.4 403.95) rotate(-90)" text-anchor="middle">Carotenoids content (<tspan font-style="italic">μ</tspan>g/g)</text>
<path d="M402 311.3H418" stroke="#ff0000" stroke-width="1.2"/>
<circle cx="410" cy="311.3" r="3.35" fill="#ff0000"/>
<text transform="translate(424.1 314.3) scale(0.955 1)" style="font-size:8.2px">Zeaxanthin</text>
<path d="M402 324.55H418" stroke="#0000ff" stroke-width="1.2"/>
<rect x="406.4" y="320.95" width="7.2" height="7.2" fill="#0000ff"/>
<text transform="translate(424.1 327.55) scale(0.955 1)" style="font-size:8.2px"><tspan font-style="italic">β</tspan>-cryptoxanthin</text>
<path d="M402 337.8H418" stroke="#008000" stroke-width="1.2"/>
<path d="M406.8 334.6L413.2 341M406.8 341L413.2 334.6" stroke="#008000" stroke-width="1.1" fill="none"/>
<text transform="translate(424.1 340.8) scale(0.955 1)" style="font-size:8.2px"><tspan font-style="italic">β</tspan>-carotene</text>
<text x="528.5" y="560.9" text-anchor="middle" style="font-size:18.5px">(d)</text>
<clipPath id="clipe"><rect x="33.5" y="601" width="275.8" height="204.8"/></clipPath>
<g clip-path="url(#clipe)">
<path d="M33.5 774.7 L34.8 773.9 L36.2 773.3 L37.5 772.7 L38.8 772.2 L40.2 771.8 L41.5 771.5 L42.8 771.2 L44.1 771 L45.5 770.9 L46.8 770.9 L48.1 770.9 L49.5 770.9 L50.8 771 L52.1 771.1 L53.5 771.3 L54.8 771.5 L56.1 771.7 L57.4 772 L58.8 772.2 L60.1 772.5 L61.4 772.8 L62.8 773.1 L64.1 773.4 L65.4 773.7 L66.8 774 L68.1 774.3 L69.4 774.5 L70.8 774.8 L72.1 775 L73.4 775.2 L74.7 775.3 L76.1 775.4 L77.4 775.5 L78.7 775.5 L80.1 775.5 L81.4 775.4 L82.7 775.2 L84.1 775 L85.4 774.7 L86.7 774.3 L88.1 773.8 L89.4 773.3 L90.7 772.7 L92 772 L93.4 771.2 L94.7 770.4 L96 769.5 L97.4 768.5 L98.7 767.5 L100 766.4 L101.4 765.4 L102.7 764.2 L104 763.1 L105.3 761.9 L106.7 760.8 L108 759.6 L109.3 758.4 L110.7 757.2 L112 756 L113.3 754.9 L114.7 753.7 L116 752.6 L117.3 751.6 L118.7 750.5 L120 749.5 L121.3 748.6 L122.6 747.7 L124 746.9 L125.3 746.1 L126.6 745.4 L128 744.7 L129.3 744.1 L130.6 743.5 L132 743 L133.3 742.5 L134.6 742.1 L135.9 741.7 L137.3 741.3 L138.6 740.9 L139.9 740.6 L141.3 740.4 L142.6 740.1 L143.9 739.9 L145.3 739.7 L146.6 739.5 L147.9 739.3 L149.3 739.2 L150.6 739 L151.9 738.9 L153.2 738.8 L154.6 738.7 L155.9 738.6 L157.2 738.5 L158.6 738.4 L159.9 738.3 L161.2 738.2 L162.6 738.1 L163.9 738 L165.2 737.9 L166.5 737.8 L167.9 737.7 L169.2 737.6 L170.5 737.5 L171.9 737.4 L173.2 737.3 L174.5 737.2 L175.9 737.1 L177.2 737 L178.5 736.9 L179.9 736.8 L181.2 736.7 L182.5 736.6 L183.8 736.5 L185.2 736.4 L186.5 736.3 L187.8 736.2 L189.2 736.1 L190.5 736 L191.8 735.9 L193.2 735.7 L194.5 735.6 L195.8 735.5 L197.2 735.4 L198.5 735.3 L199.8 735.2 L201.1 735.1 L202.5 735 L203.8 734.9 L205.1 734.8 L206.5 734.7 L207.8 734.6 L209.1 734.5 L210.5 734.4 L211.8 734.3 L213.1 734.2 L214.4 734.1 L215.8 734 L217.1 733.9 L218.4 733.8 L219.8 733.7 L221.1 733.6 L222.4 733.5 L223.8 733.5 L225.1 733.4 L226.4 733.3 L227.8 733.2 L229.1 733.1 L230.4 733 L231.7 732.9 L233.1 732.8 L234.4 732.8 L235.7 732.7 L237.1 732.6 L238.4 732.5 L239.7 732.4 L241.1 732.4 L242.4 732.3 L243.7 732.2 L245 732.2 L246.4 732.1 L247.7 732.1 L249 732 L250.4 731.9 L251.7 731.9 L253 731.8 L254.4 731.8 L255.7 731.8 L257 731.7 L258.4 731.7 L259.7 731.7 L261 731.6 L262.3 731.6 L263.7 731.6 L265 731.6 L266.3 731.6 L267.7 731.5 L269 731.5 L270.3 731.5 L271.7 731.5 L273 731.6 L274.3 731.6 L275.6 731.6 L277 731.6 L278.3 731.6 L279.6 731.7 L281 731.7 L282.3 731.8 L283.6 731.8 L285 731.9 L286.3 731.9 L287.6 732 L289 732 L290.3 732.1 L291.6 732.2 L292.9 732.3 L294.3 732.4 L295.6 732.5 L296.9 732.6 L298.3 732.7" fill="none" stroke="#ff0000" stroke-width="1.4" stroke-dasharray="4.2 2.1"/>
<path d="M33.5 803.5 L34.8 804 L36.2 804.4 L37.5 804.7 L38.8 805 L40.2 805.1 L41.5 805.2 L42.8 805.3 L44.1 805.2 L45.5 805.1 L46.8 804.9 L48.1 804.7 L49.5 804.3 L50.8 804 L52.1 803.5 L53.5 803 L54.8 802.5 L56.1 801.9 L57.4 801.2 L58.8 800.5 L60.1 799.8 L61.4 799 L62.8 798.1 L64.1 797.2 L65.4 796.3 L66.8 795.3 L68.1 794.3 L69.4 793.3 L70.8 792.2 L72.1 791.1 L73.4 790 L74.7 788.8 L76.1 787.6 L77.4 786.4 L78.7 785.2 L80.1 783.9 L81.4 782.6 L82.7 781.3 L84.1 780 L85.4 778.7 L86.7 777.4 L88.1 776 L89.4 774.7 L90.7 773.3 L92 772 L93.4 770.6 L94.7 769.2 L96 767.9 L97.4 766.5 L98.7 765.2 L100 763.9 L101.4 762.5 L102.7 761.2 L104 760 L105.3 758.7 L106.7 757.5 L108 756.2 L109.3 755 L110.7 753.9 L112 752.7 L113.3 751.6 L114.7 750.6 L116 749.6 L117.3 748.6 L118.7 747.6 L120 746.7 L121.3 745.9 L122.6 745.1 L124 744.3 L125.3 743.6 L126.6 742.9 L128 742.3 L129.3 741.7 L130.6 741.2 L132 740.7 L133.3 740.2 L134.6 739.8 L135.9 739.4 L137.3 739 L138.6 738.7 L139.9 738.4 L141.3 738.1 L142.6 737.8 L143.9 737.6 L145.3 737.4 L146.6 737.2 L147.9 737 L149.3 736.8 L150.6 736.7 L151.9 736.5 L153.2 736.4 L154.6 736.3 L155.9 736.1 L157.2 736 L158.6 735.9 L159.9 735.8 L161.2 735.7 L162.6 735.6 L163.9 735.4 L165.2 735.3 L166.5 735.2 L167.9 735.1 L169.2 735 L170.5 734.9 L171.9 734.8 L173.2 734.7 L174.5 734.5 L175.9 734.4 L177.2 734.3 L178.5 734.2 L179.9 734.1 L181.2 734 L182.5 733.9 L183.8 733.8 L185.2 733.7 L186.5 733.6 L187.8 733.5 L189.2 733.4 L190.5 733.3 L191.8 733.1 L193.2 733 L194.5 732.9 L195.8 732.8 L197.2 732.7 L198.5 732.6 L199.8 732.5 L201.1 732.4 L202.5 732.3 L203.8 732.2 L205.1 732.1 L206.5 732 L207.8 731.9 L209.1 731.8 L210.5 731.7 L211.8 731.6 L213.1 731.5 L214.4 731.4 L215.8 731.3 L217.1 731.2 L218.4 731.1 L219.8 731 L221.1 730.9 L222.4 730.8 L223.8 730.7 L225.1 730.6 L226.4 730.5 L227.8 730.5 L229.1 730.4 L230.4 730.3 L231.7 730.2 L233.1 730.1 L234.4 730 L235.7 729.9 L237.1 729.8 L238.4 729.7 L239.7 729.6 L241.1 729.5 L242.4 729.5 L243.7 729.4 L245 729.3 L246.4 729.2 L247.7 729.1 L249 729.1 L250.4 729 L251.7 728.9 L253 728.8 L254.4 728.8 L255.7 728.7 L257 728.6 L258.4 728.6 L259.7 728.5 L261 728.5 L262.3 728.4 L263.7 728.3 L265 728.3 L266.3 728.2 L267.7 728.2 L269 728.2 L270.3 728.1 L271.7 728.1 L273 728 L274.3 728 L275.6 728 L277 728 L278.3 727.9 L279.6 727.9 L281 727.9 L282.3 727.9 L283.6 727.9 L285 727.9 L286.3 727.9 L287.6 727.9 L289 727.9 L290.3 727.9 L291.6 727.9 L292.9 727.9 L294.3 727.9 L295.6 727.9 L296.9 728 L298.3 728" fill="none" stroke="#ff0000" stroke-width="1.35"/>
<path d="M33.5 805.4 L34.8 804.7 L36.2 804.1 L37.5 803.6 L38.8 803.1 L40.2 802.8 L41.5 802.5 L42.8 802.2 L44.1 802.1 L45.5 801.9 L46.8 801.9 L48.1 801.8 L49.5 801.9 L50.8 801.9 L52.1 802 L53.5 802.2 L54.8 802.4 L56.1 802.6 L57.4 802.8 L58.8 803 L60.1 803.3 L61.4 803.6 L62.8 803.8 L64.1 804.1 L65.4 804.4 L66.8 804.7 L68.1 805 L69.4 805.2 L70.8 805.5 L72.1 805.7 L73.4 805.9 L74.7 806.1 L76.1 806.3 L77.4 806.4 L78.7 806.5 L80.1 806.5 L81.4 806.5 L82.7 806.5 L84.1 806.4 L85.4 806.2 L86.7 806 L88.1 805.7 L89.4 805.4 L90.7 805 L92 804.5 L93.4 804 L94.7 803.4 L96 802.8 L97.4 802.2 L98.7 801.5 L100 800.8 L101.4 800 L102.7 799.3 L104 798.5 L105.3 797.7 L106.7 796.9 L108 796.1 L109.3 795.4 L110.7 794.6 L112 793.9 L113.3 793.2 L114.7 792.5 L116 791.9 L117.3 791.2 L118.7 790.7 L120 790.2 L121.3 789.7 L122.6 789.3 L124 789 L125.3 788.8 L126.6 788.5 L128 788.4 L129.3 788.3 L130.6 788.2 L132 788.2 L133.3 788.2 L134.6 788.3 L135.9 788.4 L137.3 788.5 L138.6 788.7 L139.9 788.9 L141.3 789.1 L142.6 789.3 L143.9 789.6 L145.3 789.8 L146.6 790.1 L147.9 790.4 L149.3 790.7 L150.6 791 L151.9 791.3 L153.2 791.5 L154.6 791.8 L155.9 792.1 L157.2 792.4 L158.6 792.6 L159.9 792.8 L161.2 793 L162.6 793.2 L163.9 793.4 L165.2 793.6 L166.5 793.7 L167.9 793.9 L169.2 794 L170.5 794.1 L171.9 794.2 L173.2 794.3 L174.5 794.3 L175.9 794.4 L177.2 794.4 L178.5 794.5 L179.9 794.5 L181.2 794.5 L182.5 794.5 L183.8 794.5 L185.2 794.5 L186.5 794.4 L187.8 794.4 L189.2 794.4 L190.5 794.3 L191.8 794.3 L193.2 794.2 L194.5 794.1 L195.8 794.1 L197.2 794 L198.5 793.9 L199.8 793.8 L201.1 793.8 L202.5 793.7 L203.8 793.6 L205.1 793.5 L206.5 793.4 L207.8 793.3 L209.1 793.2 L210.5 793.1 L211.8 793 L213.1 793 L214.4 792.9 L215.8 792.8 L217.1 792.7 L218.4 792.6 L219.8 792.5 L221.1 792.5 L222.4 792.4 L223.8 792.3 L225.1 792.3 L226.4 792.2 L227.8 792.2 L229.1 792.1 L230.4 792.1 L231.7 792 L233.1 792 L234.4 792 L235.7 791.9 L237.1 791.9 L238.4 791.9 L239.7 791.9 L241.1 791.8 L242.4 791.8 L243.7 791.8 L245 791.8 L246.4 791.8 L247.7 791.8 L249 791.8 L250.4 791.8 L251.7 791.8 L253 791.8 L254.4 791.8 L255.7 791.8 L257 791.8 L258.4 791.8 L259.7 791.8 L261 791.8 L262.3 791.8 L263.7 791.9 L265 791.9 L266.3 791.9 L267.7 791.9 L269 791.9 L270.3 792 L271.7 792 L273 792 L274.3 792 L275.6 792.1 L277 792.1 L278.3 792.1 L279.6 792.2 L281 792.2 L282.3 792.2 L283.6 792.2 L285 792.3 L286.3 792.3 L287.6 792.3 L289 792.4 L290.3 792.4 L291.6 792.4 L292.9 792.5 L294.3 792.5 L295.6 792.5 L296.9 792.6 L298.3 792.6" fill="none" stroke="#0000ff" stroke-width="1.4" stroke-dasharray="4.2 2.1"/>
<path d="M33.5 805.4 L34.8 804.7 L36.2 804.1 L37.5 803.6 L38.8 803.1 L40.2 802.8 L41.5 802.5 L42.8 802.2 L44.1 802.1 L45.5 801.9 L46.8 801.9 L48.1 801.8 L49.5 801.9 L50.8 801.9 L52.1 802 L53.5 802.2 L54.8 802.4 L56.1 802.6 L57.4 802.8 L58.8 803 L60.1 803.3 L61.4 803.6 L62.8 803.8 L64.1 804.1 L65.4 804.4 L66.8 804.7 L68.1 805 L69.4 805.2 L70.8 805.5 L72.1 805.7 L73.4 805.9 L74.7 806.1 L76.1 806.3 L77.4 806.4 L78.7 806.5 L80.1 806.5 L81.4 806.5 L82.7 806.5 L84.1 806.4 L85.4 806.2 L86.7 806 L88.1 805.7 L89.4 805.4 L90.7 805 L92 804.5 L93.4 804 L94.7 803.4 L96 802.8 L97.4 802.2 L98.7 801.5 L100 800.8 L101.4 800 L102.7 799.3 L104 798.5 L105.3 797.7 L106.7 796.9 L108 796.1 L109.3 795.4 L110.7 794.6 L112 793.9 L113.3 793.2 L114.7 792.5 L116 791.9 L117.3 791.2 L118.7 790.7 L120 790.2 L121.3 789.7 L122.6 789.3 L124 789 L125.3 788.8 L126.6 788.5 L128 788.4 L129.3 788.3 L130.6 788.2 L132 788.2 L133.3 788.2 L134.6 788.3 L135.9 788.4 L137.3 788.5 L138.6 788.7 L139.9 788.9 L141.3 789.1 L142.6 789.3 L143.9 789.6 L145.3 789.8 L146.6 790.1 L147.9 790.4 L149.3 790.7 L150.6 791 L151.9 791.3 L153.2 791.5 L154.6 791.8 L155.9 792.1 L157.2 792.4 L158.6 792.6 L159.9 792.8 L161.2 793 L162.6 793.2 L163.9 793.4 L165.2 793.6 L166.5 793.7 L167.9 793.9 L169.2 794 L170.5 794.1 L171.9 794.2 L173.2 794.3 L174.5 794.3 L175.9 794.4 L177.2 794.4 L178.5 794.5 L179.9 794.5 L181.2 794.5 L182.5 794.5 L183.8 794.5 L185.2 794.5 L186.5 794.4 L187.8 794.4 L189.2 794.4 L190.5 794.3 L191.8 794.3 L193.2 794.2 L194.5 794.1 L195.8 794.1 L197.2 794 L198.5 793.9 L199.8 793.8 L201.1 793.8 L202.5 793.7 L203.8 793.6 L205.1 793.5 L206.5 793.4 L207.8 793.3 L209.1 793.2 L210.5 793.1 L211.8 793 L213.1 793 L214.4 792.9 L215.8 792.8 L217.1 792.7 L218.4 792.6 L219.8 792.5 L221.1 792.5 L222.4 792.4 L223.8 792.3 L225.1 792.3 L226.4 792.2 L227.8 792.2 L229.1 792.1 L230.4 792.1 L231.7 792 L233.1 792 L234.4 792 L235.7 791.9 L237.1 791.9 L238.4 791.9 L239.7 791.9 L241.1 791.8 L242.4 791.8 L243.7 791.8 L245 791.8 L246.4 791.8 L247.7 791.8 L249 791.8 L250.4 791.8 L251.7 791.8 L253 791.8 L254.4 791.8 L255.7 791.8 L257 791.8 L258.4 791.8 L259.7 791.8 L261 791.8 L262.3 791.8 L263.7 791.9 L265 791.9 L266.3 791.9 L267.7 791.9 L269 791.9 L270.3 792 L271.7 792 L273 792 L274.3 792 L275.6 792.1 L277 792.1 L278.3 792.1 L279.6 792.2 L281 792.2 L282.3 792.2 L283.6 792.2 L285 792.3 L286.3 792.3 L287.6 792.3 L289 792.4 L290.3 792.4 L291.6 792.4 L292.9 792.5 L294.3 792.5 L295.6 792.5 L296.9 792.6 L298.3 792.6" fill="none" stroke="#0000ff" stroke-width="1.35"/>
<path d="M33.5 805.3 L34.8 805.1 L36.2 805 L37.5 804.8 L38.8 804.7 L40.2 804.6 L41.5 804.5 L42.8 804.4 L44.1 804.4 L45.5 804.4 L46.8 804.4 L48.1 804.3 L49.5 804.4 L50.8 804.4 L52.1 804.4 L53.5 804.4 L54.8 804.5 L56.1 804.5 L57.4 804.6 L58.8 804.7 L60.1 804.7 L61.4 804.8 L62.8 804.9 L64.1 805 L65.4 805 L66.8 805.1 L68.1 805.2 L69.4 805.3 L70.8 805.3 L72.1 805.4 L73.4 805.4 L74.7 805.5 L76.1 805.5 L77.4 805.6 L78.7 805.6 L80.1 805.6 L81.4 805.6 L82.7 805.6 L84.1 805.5 L85.4 805.5 L86.7 805.4 L88.1 805.3 L89.4 805.2 L90.7 805.1 L92 805 L93.4 804.8 L94.7 804.7 L96 804.5 L97.4 804.3 L98.7 804.1 L100 803.9 L101.4 803.7 L102.7 803.5 L104 803.3 L105.3 803.1 L106.7 802.8 L108 802.6 L109.3 802.4 L110.7 802.2 L112 802 L113.3 801.8 L114.7 801.6 L116 801.4 L117.3 801.2 L118.7 801 L120 800.9 L121.3 800.7 L122.6 800.6 L124 800.5 L125.3 800.4 L126.6 800.4 L128 800.3 L129.3 800.2 L130.6 800.2 L132 800.2 L133.3 800.2 L134.6 800.2 L135.9 800.2 L137.3 800.2 L138.6 800.2 L139.9 800.3 L141.3 800.3 L142.6 800.4 L143.9 800.4 L145.3 800.5 L146.6 800.5 L147.9 800.6 L149.3 800.6 L150.6 800.7 L151.9 800.8 L153.2 800.8 L154.6 800.9 L155.9 801 L157.2 801 L158.6 801.1 L159.9 801.2 L161.2 801.2 L162.6 801.3 L163.9 801.3 L165.2 801.3 L166.5 801.4 L167.9 801.4 L169.2 801.5 L170.5 801.5 L171.9 801.5 L173.2 801.5 L174.5 801.6 L175.9 801.6 L177.2 801.6 L178.5 801.6 L179.9 801.6 L181.2 801.6 L182.5 801.7 L183.8 801.7 L185.2 801.7 L186.5 801.7 L187.8 801.7 L189.2 801.7 L190.5 801.7 L191.8 801.7 L193.2 801.7 L194.5 801.7 L195.8 801.7 L197.2 801.7 L198.5 801.6 L199.8 801.6 L201.1 801.6 L202.5 801.6 L203.8 801.6 L205.1 801.6 L206.5 801.6 L207.8 801.6 L209.1 801.6 L210.5 801.6 L211.8 801.5 L213.1 801.5 L214.4 801.5 L215.8 801.5 L217.1 801.5 L218.4 801.5 L219.8 801.5 L221.1 801.5 L222.4 801.5 L223.8 801.5 L225.1 801.5 L226.4 801.5 L227.8 801.5 L229.1 801.5 L230.4 801.5 L231.7 801.5 L233.1 801.5 L234.4 801.5 L235.7 801.5 L237.1 801.5 L238.4 801.5 L239.7 801.5 L241.1 801.5 L242.4 801.5 L243.7 801.5 L245 801.5 L246.4 801.5 L247.7 801.5 L249 801.5 L250.4 801.5 L251.7 801.5 L253 801.5 L254.4 801.5 L255.7 801.5 L257 801.5 L258.4 801.5 L259.7 801.5 L261 801.5 L262.3 801.5 L263.7 801.5 L265 801.5 L266.3 801.5 L267.7 801.5 L269 801.5 L270.3 801.5 L271.7 801.5 L273 801.5 L274.3 801.5 L275.6 801.5 L277 801.5 L278.3 801.5 L279.6 801.5 L281 801.5 L282.3 801.5 L283.6 801.5 L285 801.5 L286.3 801.5 L287.6 801.5 L289 801.5 L290.3 801.5 L291.6 801.5 L292.9 801.5 L294.3 801.5 L295.6 801.5 L296.9 801.5 L298.3 801.5" fill="none" stroke="#008000" stroke-width="1.4" stroke-dasharray="4.2 2.1"/>
<path d="M33.5 805.3 L34.8 805.1 L36.2 805 L37.5 804.8 L38.8 804.7 L40.2 804.6 L41.5 804.5 L42.8 804.4 L44.1 804.4 L45.5 804.4 L46.8 804.4 L48.1 804.3 L49.5 804.4 L50.8 804.4 L52.1 804.4 L53.5 804.4 L54.8 804.5 L56.1 804.5 L57.4 804.6 L58.8 804.7 L60.1 804.7 L61.4 804.8 L62.8 804.9 L64.1 805 L65.4 805 L66.8 805.1 L68.1 805.2 L69.4 805.3 L70.8 805.3 L72.1 805.4 L73.4 805.4 L74.7 805.5 L76.1 805.5 L77.4 805.6 L78.7 805.6 L80.1 805.6 L81.4 805.6 L82.7 805.6 L84.1 805.5 L85.4 805.5 L86.7 805.4 L88.1 805.3 L89.4 805.2 L90.7 805.1 L92 805 L93.4 804.8 L94.7 804.7 L96 804.5 L97.4 804.3 L98.7 804.1 L100 803.9 L101.4 803.7 L102.7 803.5 L104 803.3 L105.3 803.1 L106.7 802.8 L108 802.6 L109.3 802.4 L110.7 802.2 L112 802 L113.3 801.8 L114.7 801.6 L116 801.4 L117.3 801.2 L118.7 801 L120 800.9 L121.3 800.7 L122.6 800.6 L124 800.5 L125.3 800.4 L126.6 800.4 L128 800.3 L129.3 800.2 L130.6 800.2 L132 800.2 L133.3 800.2 L134.6 800.2 L135.9 800.2 L137.3 800.2 L138.6 800.2 L139.9 800.3 L141.3 800.3 L142.6 800.4 L143.9 800.4 L145.3 800.5 L146.6 800.5 L147.9 800.6 L149.3 800.6 L150.6 800.7 L151.9 800.8 L153.2 800.8 L154.6 800.9 L155.9 801 L157.2 801 L158.6 801.1 L159.9 801.2 L161.2 801.2 L162.6 801.3 L163.9 801.3 L165.2 801.3 L166.5 801.4 L167.9 801.4 L169.2 801.5 L170.5 801.5 L171.9 801.5 L173.2 801.5 L174.5 801.6 L175.9 801.6 L177.2 801.6 L178.5 801.6 L179.9 801.6 L181.2 801.6 L182.5 801.7 L183.8 801.7 L185.2 801.7 L186.5 801.7 L187.8 801.7 L189.2 801.7 L190.5 801.7 L191.8 801.7 L193.2 801.7 L194.5 801.7 L195.8 801.7 L197.2 801.7 L198.5 801.6 L199.8 801.6 L201.1 801.6 L202.5 801.6 L203.8 801.6 L205.1 801.6 L206.5 801.6 L207.8 801.6 L209.1 801.6 L210.5 801.6 L211.8 801.5 L213.1 801.5 L214.4 801.5 L215.8 801.5 L217.1 801.5 L218.4 801.5 L219.8 801.5 L221.1 801.5 L222.4 801.5 L223.8 801.5 L225.1 801.5 L226.4 801.5 L227.8 801.5 L229.1 801.5 L230.4 801.5 L231.7 801.5 L233.1 801.5 L234.4 801.5 L235.7 801.5 L237.1 801.5 L238.4 801.5 L239.7 801.5 L241.1 801.5 L242.4 801.5 L243.7 801.5 L245 801.5 L246.4 801.5 L247.7 801.5 L249 801.5 L250.4 801.5 L251.7 801.5 L253 801.5 L254.4 801.5 L255.7 801.5 L257 801.5 L258.4 801.5 L259.7 801.5 L261 801.5 L262.3 801.5 L263.7 801.5 L265 801.5 L266.3 801.5 L267.7 801.5 L269 801.5 L270.3 801.5 L271.7 801.5 L273 801.5 L274.3 801.5 L275.6 801.5 L277 801.5 L278.3 801.5 L279.6 801.5 L281 801.5 L282.3 801.5 L283.6 801.5 L285 801.5 L286.3 801.5 L287.6 801.5 L289 801.5 L290.3 801.5 L291.6 801.5 L292.9 801.5 L294.3 801.5 L295.6 801.5 L296.9 801.5 L298.3 801.5" fill="none" stroke="#008000" stroke-width="1.35"/>
<circle cx="33.5" cy="774.7" r="3.35" fill="#ff0000"/>
<circle cx="70.27" cy="774.7" r="3.35" fill="#ff0000"/>
<circle cx="88.66" cy="773.6" r="3.35" fill="#ff0000"/>
<circle cx="121.76" cy="748.3" r="3.35" fill="#ff0000"/>
<circle cx="158.53" cy="738.4" r="3.35" fill="#ff0000"/>
<circle cx="218.84" cy="733.8" r="3.35" fill="#ff0000"/>
<circle cx="257.82" cy="731.7" r="3.35" fill="#ff0000"/>
<path d="M298.27 719.7V745.7M295.57 719.7H300.97M295.57 745.7H300.97" stroke="#ff0000" stroke-width="1.15" fill="none"/>
<circle cx="298.27" cy="732.7" r="3.35" fill="#ff0000"/>
<circle cx="33.5" cy="803.5" r="3.35" fill="#ff0000"/>
<circle cx="70.27" cy="792.6" r="3.35" fill="#ff0000"/>
<circle cx="88.66" cy="775.4" r="3.35" fill="#ff0000"/>
<circle cx="121.76" cy="745.6" r="3.35" fill="#ff0000"/>
<circle cx="158.53" cy="735.9" r="3.35" fill="#ff0000"/>
<circle cx="218.84" cy="731.1" r="3.35" fill="#ff0000"/>
<circle cx="257.82" cy="728.6" r="3.35" fill="#ff0000"/>
<path d="M298.27 720V736M295.57 720H300.97M295.57 736H300.97" stroke="#ff0000" stroke-width="1.15" fill="none"/>
<circle cx="298.27" cy="728" r="3.35" fill="#ff0000"/>
<rect x="29.9" y="801.8" width="7.2" height="7.2" fill="#0000ff"/>
<rect x="66.67" y="801.8" width="7.2" height="7.2" fill="#0000ff"/>
<rect x="85.06" y="802" width="7.2" height="7.2" fill="#0000ff"/>
<rect x="118.16" y="786" width="7.2" height="7.2" fill="#0000ff"/>
<rect x="154.93" y="789" width="7.2" height="7.2" fill="#0000ff"/>
<rect x="215.24" y="789" width="7.2" height="7.2" fill="#0000ff"/>
<rect x="254.22" y="788.2" width="7.2" height="7.2" fill="#0000ff"/>
<rect x="294.67" y="789" width="7.2" height="7.2" fill="#0000ff"/>
<rect x="29.9" y="801.8" width="7.2" height="7.2" fill="#0000ff"/>
<rect x="66.67" y="801.8" width="7.2" height="7.2" fill="#0000ff"/>
<rect x="85.06" y="802" width="7.2" height="7.2" fill="#0000ff"/>
<rect x="118.16" y="786" width="7.2" height="7.2" fill="#0000ff"/>
<rect x="154.93" y="789" width="7.2" height="7.2" fill="#0000ff"/>
<rect x="215.24" y="789" width="7.2" height="7.2" fill="#0000ff"/>
<rect x="254.22" y="788.2" width="7.2" height="7.2" fill="#0000ff"/>
<rect x="294.67" y="789" width="7.2" height="7.2" fill="#0000ff"/>
<path d="M30.3 802.1L36.7 808.5M30.3 808.5L36.7 802.1" stroke="#008000" stroke-width="1.1" fill="none"/>
<path d="M67.07 802.1L73.47 808.5M67.07 808.5L73.47 802.1" stroke="#008000" stroke-width="1.1" fill="none"/>
<path d="M85.46 802.1L91.86 808.5M85.46 808.5L91.86 802.1" stroke="#008000" stroke-width="1.1" fill="none"/>
<path d="M118.56 797.5L124.96 803.9M118.56 803.9L124.96 797.5" stroke="#008000" stroke-width="1.1" fill="none"/>
<path d="M155.33 797.9L161.73 804.3M155.33 804.3L161.73 797.9" stroke="#008000" stroke-width="1.1" fill="none"/>
<path d="M215.64 798.3L222.04 804.7M215.64 804.7L222.04 798.3" stroke="#008000" stroke-width="1.1" fill="none"/>
<path d="M254.62 798.3L261.02 804.7M254.62 804.7L261.02 798.3" stroke="#008000" stroke-width="1.1" fill="none"/>
<path d="M295.07 798.3L301.47 804.7M295.07 804.7L301.47 798.3" stroke="#008000" stroke-width="1.1" fill="none"/>
<path d="M30.3 802.1L36.7 808.5M30.3 808.5L36.7 802.1" stroke="#008000" stroke-width="1.1" fill="none"/>
<path d="M67.07 802.1L73.47 808.5M67.07 808.5L73.47 802.1" stroke="#008000" stroke-width="1.1" fill="none"/>
<path d="M85.46 802.1L91.86 808.5M85.46 808.5L91.86 802.1" stroke="#008000" stroke-width="1.1" fill="none"/>
<path d="M118.56 797.5L124.96 803.9M118.56 803.9L124.96 797.5" stroke="#008000" stroke-width="1.1" fill="none"/>
<path d="M155.33 797.9L161.73 804.3M155.33 804.3L161.73 797.9" stroke="#008000" stroke-width="1.1" fill="none"/>
<path d="M215.64 798.3L222.04 804.7M215.64 804.7L222.04 798.3" stroke="#008000" stroke-width="1.1" fill="none"/>
<path d="M254.62 798.3L261.02 804.7M254.62 804.7L261.02 798.3" stroke="#008000" stroke-width="1.1" fill="none"/>
<path d="M295.07 798.3L301.47 804.7M295.07 804.7L301.47 798.3" stroke="#008000" stroke-width="1.1" fill="none"/>
</g>
<rect x="33.5" y="601" width="275.8" height="204.8" fill="none" stroke="#262626" stroke-width="1"/>
<path d="M30.9 805.8H33.5M30.9 776.54H33.5M30.9 747.29H33.5M30.9 718.03H33.5M30.9 688.77H33.5M30.9 659.51H33.5M30.9 630.26H33.5M30.9 601H33.5M309.3 805.8H311.9M309.3 771.67H311.9M309.3 737.53H311.9M309.3 703.4H311.9M309.3 669.27H311.9M309.3 635.13H311.9M309.3 601H311.9M33.5 805.8V808.4M70.27 805.8V808.4M107.05 805.8V808.4M143.82 805.8V808.4M180.59 805.8V808.4M217.37 805.8V808.4M254.14 805.8V808.4M290.91 805.8V808.4" stroke="#262626" stroke-width="1" fill="none"/>
<text transform="translate(28 808.8) scale(0.9 1)" text-anchor="end" class="t">0</text>
<text transform="translate(28 779.54) scale(0.9 1)" text-anchor="end" class="t">500</text>
<text transform="translate(28 750.29) scale(0.9 1)" text-anchor="end" class="t">1000</text>
<text transform="translate(28 721.03) scale(0.9 1)" text-anchor="end" class="t">1500</text>
<text transform="translate(28 691.77) scale(0.9 1)" text-anchor="end" class="t">2000</text>
<text transform="translate(28 662.51) scale(0.9 1)" text-anchor="end" class="t">2500</text>
<text transform="translate(28 633.26) scale(0.9 1)" text-anchor="end" class="t">3000</text>
<text transform="translate(28 604) scale(0.9 1)" text-anchor="end" class="t">3500</text>
<text transform="translate(314.5 808.8) scale(0.9 1)" class="t">0</text>
<text transform="translate(314.5 774.67) scale(0.9 1)" class="t">100</text>
<text transform="translate(314.5 740.53) scale(0.9 1)" class="t">200</text>
<text transform="translate(314.5 706.4) scale(0.9 1)" class="t">300</text>
<text transform="translate(314.5 672.27) scale(0.9 1)" class="t">400</text>
<text transform="translate(314.5 638.13) scale(0.9 1)" class="t">500</text>
<text transform="translate(314.5 604) scale(0.9 1)" class="t">600</text>
<text transform="translate(33.5 817.8) scale(0.9 1)" text-anchor="middle" class="t">0</text>
<text transform="translate(70.27 817.8) scale(0.9 1)" text-anchor="middle" class="t">10</text>
<text transform="translate(107.05 817.8) scale(0.9 1)" text-anchor="middle" class="t">20</text>
<text transform="translate(143.82 817.8) scale(0.9 1)" text-anchor="middle" class="t">30</text>
<text transform="translate(180.59 817.8) scale(0.9 1)" text-anchor="middle" class="t">40</text>
<text transform="translate(217.37 817.8) scale(0.9 1)" text-anchor="middle" class="t">50</text>
<text transform="translate(254.14 817.8) scale(0.9 1)" text-anchor="middle" class="t">60</text>
<text transform="translate(290.91 817.8) scale(0.9 1)" text-anchor="middle" class="t">70</text>
<text x="171.4" y="827.8" text-anchor="middle">Time (h)</text>
<text transform="translate(6.3 703.4) rotate(-90)" text-anchor="middle" style="font-size:7.8px">Carotenoids concentration (<tspan font-style="italic">μ</tspan>g/L)</text>
<text transform="translate(336.3 703.4) rotate(-90)" text-anchor="middle">Carotenoids content (<tspan font-style="italic">μ</tspan>g/g)</text>
<path d="M39.9 610.7H55.9" stroke="#ff0000" stroke-width="1.2"/>
<circle cx="47.9" cy="610.7" r="3.35" fill="#ff0000"/>
<text transform="translate(62 613.7) scale(0.955 1)" style="font-size:8.2px">Zeaxanthin</text>
<path d="M39.9 623.95H55.9" stroke="#0000ff" stroke-width="1.2"/>
<rect x="44.3" y="620.35" width="7.2" height="7.2" fill="#0000ff"/>
<text transform="translate(62 626.95) scale(0.955 1)" style="font-size:8.2px"><tspan font-style="italic">β</tspan>-cryptoxanthin</text>
<path d="M39.9 637.2H55.9" stroke="#008000" stroke-width="1.2"/>
<path d="M44.7 634L51.1 640.4M44.7 640.4L51.1 634" stroke="#008000" stroke-width="1.1" fill="none"/>
<text transform="translate(62 640.2) scale(0.955 1)" style="font-size:8.2px"><tspan font-style="italic">β</tspan>-carotene</text>
<text x="167.3" y="860.4" text-anchor="middle" style="font-size:18.5px">(e)</text>
<clipPath id="clipf"><rect x="395.6" y="601" width="275.8" height="204.8"/></clipPath>
<g clip-path="url(#clipf)">
<path d="M395.6 709.3 L396.9 703.8 L398.3 698.6 L399.6 693.8 L400.9 689.2 L402.2 685 L403.6 681 L404.9 677.3 L406.2 673.9 L407.5 670.8 L408.9 667.9 L410.2 665.3 L411.5 662.9 L412.8 660.8 L414.2 658.9 L415.5 657.2 L416.8 655.8 L418.2 654.6 L419.5 653.5 L420.8 652.7 L422.1 652.1 L423.5 651.6 L424.8 651.4 L426.1 651.3 L427.4 651.4 L428.8 651.6 L430.1 652 L431.4 652.5 L432.8 653.2 L434.1 654 L435.4 655 L436.7 656 L438.1 657.2 L439.4 658.5 L440.7 659.9 L442 661.3 L443.4 662.9 L444.7 664.5 L446 666.2 L447.3 668 L448.7 669.8 L450 671.7 L451.3 673.6 L452.7 675.6 L454 677.6 L455.3 679.6 L456.6 681.6 L458 683.7 L459.3 685.7 L460.6 687.8 L461.9 689.8 L463.3 691.8 L464.6 693.8 L465.9 695.8 L467.2 697.7 L468.6 699.6 L469.9 701.5 L471.2 703.3 L472.6 705 L473.9 706.6 L475.2 708.2 L476.5 709.7 L477.9 711.1 L479.2 712.4 L480.5 713.6 L481.8 714.8 L483.2 715.9 L484.5 716.9 L485.8 717.8 L487.1 718.7 L488.5 719.5 L489.8 720.2 L491.1 720.9 L492.5 721.5 L493.8 722.1 L495.1 722.6 L496.4 723 L497.8 723.4 L499.1 723.8 L500.4 724.1 L501.7 724.4 L503.1 724.6 L504.4 724.9 L505.7 725 L507.1 725.2 L508.4 725.3 L509.7 725.4 L511 725.5 L512.4 725.6 L513.7 725.6 L515 725.7 L516.3 725.7 L517.7 725.7 L519 725.7 L520.3 725.7 L521.6 725.7 L523 725.7 L524.3 725.7 L525.6 725.6 L527 725.6 L528.3 725.5 L529.6 725.5 L530.9 725.4 L532.3 725.3 L533.6 725.3 L534.9 725.2 L536.2 725.1 L537.6 725 L538.9 724.9 L540.2 724.9 L541.5 724.8 L542.9 724.7 L544.2 724.6 L545.5 724.5 L546.9 724.4 L548.2 724.3 L549.5 724.2 L550.8 724.1 L552.2 724 L553.5 723.9 L554.8 723.9 L556.1 723.8 L557.5 723.7 L558.8 723.6 L560.1 723.6 L561.4 723.5 L562.8 723.4 L564.1 723.4 L565.4 723.4 L566.8 723.3 L568.1 723.3 L569.4 723.3 L570.7 723.3 L572.1 723.3 L573.4 723.2 L574.7 723.2 L576 723.2 L577.4 723.2 L578.7 723.2 L580 723.2 L581.4 723.2 L582.7 723.1 L584 723.1 L585.3 723 L586.7 722.9 L588 722.8 L589.3 722.7 L590.6 722.5 L592 722.3 L593.3 722.1 L594.6 721.9 L595.9 721.6 L597.3 721.3 L598.6 721 L599.9 720.6 L601.3 720.2 L602.6 719.8 L603.9 719.3 L605.2 718.8 L606.6 718.2 L607.9 717.5 L609.2 716.9 L610.5 716.1 L611.9 715.3 L613.2 714.5 L614.5 713.6 L615.8 712.6 L617.2 711.6 L618.5 710.5 L619.8 709.4 L621.2 708.2 L622.5 706.9 L623.8 705.5 L625.1 704.1 L626.5 702.5 L627.8 701 L629.1 699.3 L630.4 697.5 L631.8 695.7 L633.1 693.8 L634.4 691.8 L635.8 689.7 L637.1 687.5 L638.4 685.2 L639.7 682.8 L641.1 680.3 L642.4 677.8 L643.7 675.1 L645 672.3 L646.4 669.4 L647.7 666.4 L649 663.3 L650.3 660.1 L651.7 656.8 L653 653.3 L654.3 649.8 L655.7 646.1 L657 642.3 L658.3 638.4 L659.6 634.4" fill="none" stroke="#ff0000" stroke-width="1.4" stroke-dasharray="4.2 2.1"/>
<path d="M395.6 801.1 L396.9 798.3 L398.3 795.5 L399.6 792.8 L400.9 790.3 L402.2 787.8 L403.6 785.4 L404.9 783.1 L406.2 780.9 L407.5 778.8 L408.9 776.7 L410.2 774.8 L411.5 772.9 L412.8 771.1 L414.2 769.4 L415.5 767.8 L416.8 766.2 L418.2 764.7 L419.5 763.3 L420.8 761.9 L422.1 760.6 L423.5 759.4 L424.8 758.2 L426.1 757.1 L427.4 756.1 L428.8 755 L430.1 754.1 L431.4 753.2 L432.8 752.4 L434.1 751.6 L435.4 750.8 L436.7 750.1 L438.1 749.4 L439.4 748.8 L440.7 748.2 L442 747.6 L443.4 747.1 L444.7 746.6 L446 746.1 L447.3 745.7 L448.7 745.3 L450 744.9 L451.3 744.5 L452.7 744.2 L454 743.8 L455.3 743.5 L456.6 743.2 L458 742.9 L459.3 742.7 L460.6 742.4 L461.9 742.1 L463.3 741.8 L464.6 741.6 L465.9 741.3 L467.2 741.1 L468.6 740.8 L469.9 740.5 L471.2 740.2 L472.6 739.9 L473.9 739.6 L475.2 739.3 L476.5 739 L477.9 738.6 L479.2 738.3 L480.5 737.9 L481.8 737.5 L483.2 737.1 L484.5 736.7 L485.8 736.3 L487.1 735.9 L488.5 735.4 L489.8 735 L491.1 734.6 L492.5 734.1 L493.8 733.7 L495.1 733.3 L496.4 732.9 L497.8 732.4 L499.1 732 L500.4 731.7 L501.7 731.3 L503.1 730.9 L504.4 730.5 L505.7 730.2 L507.1 729.9 L508.4 729.6 L509.7 729.3 L511 729 L512.4 728.8 L513.7 728.6 L515 728.4 L516.3 728.3 L517.7 728.1 L519 728 L520.3 728 L521.6 727.9 L523 727.9 L524.3 727.9 L525.6 727.9 L527 727.9 L528.3 727.9 L529.6 728 L530.9 728 L532.3 728.1 L533.6 728.2 L534.9 728.3 L536.2 728.4 L537.6 728.5 L538.9 728.6 L540.2 728.7 L541.5 728.9 L542.9 729 L544.2 729.1 L545.5 729.2 L546.9 729.4 L548.2 729.5 L549.5 729.6 L550.8 729.7 L552.2 729.9 L553.5 730 L554.8 730.1 L556.1 730.1 L557.5 730.2 L558.8 730.3 L560.1 730.3 L561.4 730.4 L562.8 730.4 L564.1 730.4 L565.4 730.4 L566.8 730.4 L568.1 730.3 L569.4 730.2 L570.7 730.1 L572.1 730 L573.4 729.9 L574.7 729.7 L576 729.5 L577.4 729.3 L578.7 729.1 L580 728.8 L581.4 728.5 L582.7 728.2 L584 727.8 L585.3 727.4 L586.7 727 L588 726.5 L589.3 726 L590.6 725.5 L592 725 L593.3 724.4 L594.6 723.8 L595.9 723.1 L597.3 722.4 L598.6 721.7 L599.9 720.9 L601.3 720.1 L602.6 719.2 L603.9 718.3 L605.2 717.4 L606.6 716.4 L607.9 715.4 L609.2 714.3 L610.5 713.2 L611.9 712.1 L613.2 710.9 L614.5 709.6 L615.8 708.3 L617.2 707 L618.5 705.6 L619.8 704.2 L621.2 702.7 L622.5 701.1 L623.8 699.6 L625.1 697.9 L626.5 696.2 L627.8 694.5 L629.1 692.7 L630.4 690.8 L631.8 688.9 L633.1 686.9 L634.4 684.9 L635.8 682.8 L637.1 680.6 L638.4 678.4 L639.7 676.2 L641.1 673.8 L642.4 671.4 L643.7 669 L645 666.5 L646.4 663.9 L647.7 661.2 L649 658.5 L650.3 655.7 L651.7 652.9 L653 650 L654.3 647 L655.7 643.9 L657 640.8 L658.3 637.6 L659.6 634.4" fill="none" stroke="#ff0000" stroke-width="1.35"/>
<path d="M395.6 805.8 L396.9 805.8 L398.3 805.8 L399.6 805.8 L400.9 805.8 L402.2 805.8 L403.6 805.8 L404.9 805.8 L406.2 805.8 L407.5 805.8 L408.9 805.8 L410.2 805.8 L411.5 805.8 L412.8 805.8 L414.2 805.8 L415.5 805.8 L416.8 805.8 L418.2 805.8 L419.5 805.8 L420.8 805.8 L422.1 805.8 L423.5 805.8 L424.8 805.8 L426.1 805.8 L427.4 805.8 L428.8 805.8 L430.1 805.8 L431.4 805.8 L432.8 805.8 L434.1 805.8 L435.4 805.8 L436.7 805.8 L438.1 805.8 L439.4 805.8 L440.7 805.8 L442 805.7 L443.4 805.7 L444.7 805.7 L446 805.7 L447.3 805.7 L448.7 805.7 L450 805.7 L451.3 805.7 L452.7 805.7 L454 805.7 L455.3 805.7 L456.6 805.7 L458 805.7 L459.3 805.7 L460.6 805.7 L461.9 805.7 L463.3 805.7 L464.6 805.7 L465.9 805.7 L467.2 805.7 L468.6 805.7 L469.9 805.8 L471.2 805.8 L472.6 805.8 L473.9 805.8 L475.2 805.8 L476.5 805.8 L477.9 805.8 L479.2 805.8 L480.5 805.8 L481.8 805.9 L483.2 805.9 L484.5 805.9 L485.8 805.9 L487.1 805.9 L488.5 805.9 L489.8 806 L491.1 806 L492.5 806 L493.8 806 L495.1 806 L496.4 806 L497.8 806 L499.1 806 L500.4 806 L501.7 806 L503.1 806 L504.4 806 L505.7 806 L507.1 806 L508.4 805.9 L509.7 805.9 L511 805.9 L512.4 805.8 L513.7 805.8 L515 805.8 L516.3 805.7 L517.7 805.7 L519 805.6 L520.3 805.5 L521.6 805.5 L523 805.4 L524.3 805.4 L525.6 805.3 L527 805.2 L528.3 805.2 L529.6 805.1 L530.9 805 L532.3 805 L533.6 804.9 L534.9 804.8 L536.2 804.8 L537.6 804.7 L538.9 804.7 L540.2 804.6 L541.5 804.6 L542.9 804.6 L544.2 804.5 L545.5 804.5 L546.9 804.5 L548.2 804.5 L549.5 804.5 L550.8 804.5 L552.2 804.6 L553.5 804.6 L554.8 804.6 L556.1 804.7 L557.5 804.8 L558.8 804.8 L560.1 804.9 L561.4 805 L562.8 805.2 L564.1 805.3 L565.4 805.5 L566.8 805.6 L568.1 805.8 L569.4 806 L570.7 806.2 L572.1 806.4 L573.4 806.7 L574.7 806.9 L576 807.1 L577.4 807.3 L578.7 807.5 L580 807.7 L581.4 807.9 L582.7 808 L584 808.2 L585.3 808.3 L586.7 808.3 L588 808.3 L589.3 808.3 L590.6 808.2 L592 808.1 L593.3 808 L594.6 807.7 L595.9 807.4 L597.3 807.1 L598.6 806.7 L599.9 806.2 L601.3 805.6 L602.6 804.9 L603.9 804.2 L605.2 803.4 L606.6 802.4 L607.9 801.4 L609.2 800.3 L610.5 799.1 L611.9 797.8 L613.2 796.3 L614.5 794.8 L615.8 793.1 L617.2 791.3 L618.5 789.3 L619.8 787.3 L621.2 785.1 L622.5 782.8 L623.8 780.3 L625.1 777.6 L626.5 774.9 L627.8 771.9 L629.1 768.8 L630.4 765.6 L631.8 762.2 L633.1 758.6 L634.4 754.8 L635.8 750.9 L637.1 746.7 L638.4 742.4 L639.7 737.9 L641.1 733.2 L642.4 728.3 L643.7 723.2 L645 717.9 L646.4 712.4 L647.7 706.7 L649 700.7 L650.3 694.6 L651.7 688.2 L653 681.6 L654.3 674.7 L655.7 667.6 L657 660.3 L658.3 652.7 L659.6 644.9" fill="none" stroke="#0000ff" stroke-width="1.4" stroke-dasharray="4.2 2.1"/>
<path d="M395.6 805.8 L396.9 805.8 L398.3 805.8 L399.6 805.8 L400.9 805.8 L402.2 805.8 L403.6 805.8 L404.9 805.8 L406.2 805.8 L407.5 805.8 L408.9 805.8 L410.2 805.8 L411.5 805.8 L412.8 805.8 L414.2 805.8 L415.5 805.8 L416.8 805.8 L418.2 805.8 L419.5 805.8 L420.8 805.8 L422.1 805.8 L423.5 805.8 L424.8 805.8 L426.1 805.8 L427.4 805.8 L428.8 805.8 L430.1 805.8 L431.4 805.8 L432.8 805.8 L434.1 805.8 L435.4 805.8 L436.7 805.8 L438.1 805.8 L439.4 805.8 L440.7 805.8 L442 805.7 L443.4 805.7 L444.7 805.7 L446 805.7 L447.3 805.7 L448.7 805.7 L450 805.7 L451.3 805.7 L452.7 805.7 L454 805.7 L455.3 805.7 L456.6 805.7 L458 805.7 L459.3 805.7 L460.6 805.7 L461.9 805.7 L463.3 805.7 L464.6 805.7 L465.9 805.7 L467.2 805.7 L468.6 805.7 L469.9 805.8 L471.2 805.8 L472.6 805.8 L473.9 805.8 L475.2 805.8 L476.5 805.8 L477.9 805.8 L479.2 805.8 L480.5 805.8 L481.8 805.9 L483.2 805.9 L484.5 805.9 L485.8 805.9 L487.1 805.9 L488.5 805.9 L489.8 806 L491.1 806 L492.5 806 L493.8 806 L495.1 806 L496.4 806 L497.8 806 L499.1 806 L500.4 806 L501.7 806 L503.1 806 L504.4 806 L505.7 806 L507.1 806 L508.4 805.9 L509.7 805.9 L511 805.9 L512.4 805.8 L513.7 805.8 L515 805.8 L516.3 805.7 L517.7 805.7 L519 805.6 L520.3 805.6 L521.6 805.5 L523 805.4 L524.3 805.4 L525.6 805.3 L527 805.2 L528.3 805.2 L529.6 805.1 L530.9 805 L532.3 805 L533.6 804.9 L534.9 804.8 L536.2 804.8 L537.6 804.7 L538.9 804.7 L540.2 804.7 L541.5 804.6 L542.9 804.6 L544.2 804.6 L545.5 804.5 L546.9 804.5 L548.2 804.5 L549.5 804.5 L550.8 804.6 L552.2 804.6 L553.5 804.6 L554.8 804.7 L556.1 804.7 L557.5 804.8 L558.8 804.9 L560.1 805 L561.4 805.1 L562.8 805.2 L564.1 805.3 L565.4 805.5 L566.8 805.6 L568.1 805.8 L569.4 806 L570.7 806.2 L572.1 806.4 L573.4 806.6 L574.7 806.9 L576 807.1 L577.4 807.3 L578.7 807.5 L580 807.7 L581.4 807.9 L582.7 808 L584 808.1 L585.3 808.2 L586.7 808.3 L588 808.3 L589.3 808.3 L590.6 808.2 L592 808.1 L593.3 807.9 L594.6 807.7 L595.9 807.4 L597.3 807.1 L598.6 806.6 L599.9 806.2 L601.3 805.6 L602.6 805 L603.9 804.2 L605.2 803.4 L606.6 802.5 L607.9 801.5 L609.2 800.4 L610.5 799.2 L611.9 797.9 L613.2 796.5 L614.5 795 L615.8 793.3 L617.2 791.5 L618.5 789.6 L619.8 787.6 L621.2 785.5 L622.5 783.2 L623.8 780.7 L625.1 778.2 L626.5 775.4 L627.8 772.5 L629.1 769.5 L630.4 766.3 L631.8 763 L633.1 759.4 L634.4 755.7 L635.8 751.9 L637.1 747.8 L638.4 743.6 L639.7 739.1 L641.1 734.5 L642.4 729.7 L643.7 724.7 L645 719.5 L646.4 714.1 L647.7 708.5 L649 702.6 L650.3 696.6 L651.7 690.3 L653 683.8 L654.3 677.1 L655.7 670.1 L657 662.9 L658.3 655.5 L659.6 647.8" fill="none" stroke="#0000ff" stroke-width="1.35"/>
<path d="M395.6 805.8 L396.9 805.7 L398.3 805.7 L399.6 805.6 L400.9 805.6 L402.2 805.5 L403.6 805.5 L404.9 805.5 L406.2 805.4 L407.5 805.4 L408.9 805.4 L410.2 805.4 L411.5 805.4 L412.8 805.4 L414.2 805.4 L415.5 805.4 L416.8 805.5 L418.2 805.5 L419.5 805.5 L420.8 805.5 L422.1 805.6 L423.5 805.6 L424.8 805.6 L426.1 805.7 L427.4 805.7 L428.8 805.8 L430.1 805.8 L431.4 805.9 L432.8 805.9 L434.1 805.9 L435.4 806 L436.7 806 L438.1 806.1 L439.4 806.1 L440.7 806.2 L442 806.2 L443.4 806.2 L444.7 806.3 L446 806.3 L447.3 806.3 L448.7 806.4 L450 806.4 L451.3 806.4 L452.7 806.4 L454 806.4 L455.3 806.5 L456.6 806.5 L458 806.5 L459.3 806.5 L460.6 806.4 L461.9 806.4 L463.3 806.4 L464.6 806.4 L465.9 806.3 L467.2 806.3 L468.6 806.2 L469.9 806.2 L471.2 806.1 L472.6 806 L473.9 806 L475.2 805.9 L476.5 805.8 L477.9 805.7 L479.2 805.5 L480.5 805.4 L481.8 805.3 L483.2 805.2 L484.5 805 L485.8 804.9 L487.1 804.8 L488.5 804.7 L489.8 804.6 L491.1 804.5 L492.5 804.4 L493.8 804.3 L495.1 804.2 L496.4 804.2 L497.8 804.2 L499.1 804.1 L500.4 804.1 L501.7 804.2 L503.1 804.2 L504.4 804.3 L505.7 804.4 L507.1 804.5 L508.4 804.7 L509.7 804.9 L511 805.1 L512.4 805.4 L513.7 805.7 L515 806.1 L516.3 806.4 L517.7 806.9 L519 807.3 L520.3 807.8 L521.6 808.3 L523 808.8 L524.3 809.3 L525.6 809.8 L527 810.3 L528.3 810.9 L529.6 811.4 L530.9 811.9 L532.3 812.4 L533.6 812.9 L534.9 813.3 L536.2 813.8 L537.6 814.2 L538.9 814.6 L540.2 814.9 L541.5 815.2 L542.9 815.4 L544.2 815.6 L545.5 815.8 L546.9 815.8 L548.2 815.9 L549.5 815.8 L550.8 815.7 L552.2 815.5 L553.5 815.2 L554.8 814.9 L556.1 814.4 L557.5 813.9 L558.8 813.3 L560.1 812.5 L561.4 811.7 L562.8 810.7 L564.1 809.7 L565.4 808.5 L566.8 807.2 L568.1 805.8 L569.4 804.2 L570.7 802.6 L572.1 800.8 L573.4 798.9 L574.7 796.8 L576 794.7 L577.4 792.5 L578.7 790.2 L580 787.8 L581.4 785.3 L582.7 782.7 L584 780.1 L585.3 777.4 L586.7 774.6 L588 771.8 L589.3 768.9 L590.6 766 L592 763 L593.3 760 L594.6 757 L595.9 753.9 L597.3 750.9 L598.6 747.8 L599.9 744.6 L601.3 741.5 L602.6 738.4 L603.9 735.3 L605.2 732.2 L606.6 729.1 L607.9 726 L609.2 723 L610.5 719.9 L611.9 716.9 L613.2 714 L614.5 711.1 L615.8 708.2 L617.2 705.4 L618.5 702.7 L619.8 700 L621.2 697.4 L622.5 694.9 L623.8 692.4 L625.1 690.1 L626.5 687.8 L627.8 685.6 L629.1 683.5 L630.4 681.6 L631.8 679.7 L633.1 678 L634.4 676.3 L635.8 674.8 L637.1 673.5 L638.4 672.2 L639.7 671.2 L641.1 670.2 L642.4 669.4 L643.7 668.8 L645 668.3 L646.4 668 L647.7 667.9 L649 667.9 L650.3 668.2 L651.7 668.6 L653 669.2 L654.3 670 L655.7 671 L657 672.2 L658.3 673.7 L659.6 675.3" fill="none" stroke="#008000" stroke-width="1.4" stroke-dasharray="4.2 2.1"/>
<path d="M395.6 805.8 L396.9 805.7 L398.3 805.7 L399.6 805.6 L400.9 805.6 L402.2 805.5 L403.6 805.5 L404.9 805.5 L406.2 805.4 L407.5 805.4 L408.9 805.4 L410.2 805.4 L411.5 805.4 L412.8 805.4 L414.2 805.4 L415.5 805.4 L416.8 805.5 L418.2 805.5 L419.5 805.5 L420.8 805.5 L422.1 805.6 L423.5 805.6 L424.8 805.6 L426.1 805.7 L427.4 805.7 L428.8 805.8 L430.1 805.8 L431.4 805.9 L432.8 805.9 L434.1 805.9 L435.4 806 L436.7 806 L438.1 806.1 L439.4 806.1 L440.7 806.2 L442 806.2 L443.4 806.2 L444.7 806.3 L446 806.3 L447.3 806.3 L448.7 806.4 L450 806.4 L451.3 806.4 L452.7 806.4 L454 806.4 L455.3 806.5 L456.6 806.5 L458 806.5 L459.3 806.5 L460.6 806.4 L461.9 806.4 L463.3 806.4 L464.6 806.4 L465.9 806.3 L467.2 806.3 L468.6 806.2 L469.9 806.2 L471.2 806.1 L472.6 806 L473.9 806 L475.2 805.9 L476.5 805.8 L477.9 805.7 L479.2 805.5 L480.5 805.4 L481.8 805.3 L483.2 805.2 L484.5 805 L485.8 804.9 L487.1 804.8 L488.5 804.7 L489.8 804.6 L491.1 804.5 L492.5 804.4 L493.8 804.3 L495.1 804.2 L496.4 804.2 L497.8 804.2 L499.1 804.1 L500.4 804.1 L501.7 804.2 L503.1 804.2 L504.4 804.3 L505.7 804.4 L507.1 804.5 L508.4 804.7 L509.7 804.9 L511 805.1 L512.4 805.4 L513.7 805.7 L515 806.1 L516.3 806.4 L517.7 806.9 L519 807.3 L520.3 807.8 L521.6 808.3 L523 808.8 L524.3 809.3 L525.6 809.8 L527 810.3 L528.3 810.9 L529.6 811.4 L530.9 811.9 L532.3 812.4 L533.6 812.9 L534.9 813.3 L536.2 813.8 L537.6 814.2 L538.9 814.6 L540.2 814.9 L541.5 815.2 L542.9 815.4 L544.2 815.6 L545.5 815.8 L546.9 815.8 L548.2 815.9 L549.5 815.8 L550.8 815.7 L552.2 815.5 L553.5 815.2 L554.8 814.9 L556.1 814.4 L557.5 813.9 L558.8 813.3 L560.1 812.5 L561.4 811.7 L562.8 810.7 L564.1 809.7 L565.4 808.5 L566.8 807.2 L568.1 805.8 L569.4 804.2 L570.7 802.6 L572.1 800.8 L573.4 798.9 L574.7 796.8 L576 794.7 L577.4 792.5 L578.7 790.2 L580 787.8 L581.4 785.3 L582.7 782.7 L584 780.1 L585.3 777.4 L586.7 774.6 L588 771.8 L589.3 768.9 L590.6 766 L592 763 L593.3 760 L594.6 757 L595.9 753.9 L597.3 750.9 L598.6 747.8 L599.9 744.6 L601.3 741.5 L602.6 738.4 L603.9 735.3 L605.2 732.2 L606.6 729.1 L607.9 726 L609.2 723 L610.5 719.9 L611.9 716.9 L613.2 714 L614.5 711.1 L615.8 708.2 L617.2 705.4 L618.5 702.7 L619.8 700 L621.2 697.4 L622.5 694.9 L623.8 692.4 L625.1 690.1 L626.5 687.8 L627.8 685.6 L629.1 683.5 L630.4 681.6 L631.8 679.7 L633.1 678 L634.4 676.3 L635.8 674.8 L637.1 673.5 L638.4 672.2 L639.7 671.2 L641.1 670.2 L642.4 669.4 L643.7 668.8 L645 668.3 L646.4 668 L647.7 667.9 L649 667.9 L650.3 668.2 L651.7 668.6 L653 669.2 L654.3 670 L655.7 671 L657 672.2 L658.3 673.7 L659.6 675.3" fill="none" stroke="#008000" stroke-width="1.35"/>
<circle cx="395.6" cy="709.25" r="3.35" fill="#ff0000"/>
<circle cx="429.8" cy="651.91" r="3.35" fill="#ff0000"/>
<circle cx="476.13" cy="709.25" r="3.35" fill="#ff0000"/>
<circle cx="514.01" cy="725.64" r="3.35" fill="#ff0000"/>
<circle cx="568.07" cy="723.29" r="3.35" fill="#ff0000"/>
<circle cx="600.8" cy="720.37" r="3.35" fill="#ff0000"/>
<circle cx="659.63" cy="634.35" r="3.35" fill="#ff0000"/>
<circle cx="395.6" cy="801.12" r="3.35" fill="#ff0000"/>
<circle cx="429.8" cy="754.31" r="3.35" fill="#ff0000"/>
<circle cx="476.13" cy="739.09" r="3.35" fill="#ff0000"/>
<circle cx="514.01" cy="728.56" r="3.35" fill="#ff0000"/>
<circle cx="568.07" cy="730.32" r="3.35" fill="#ff0000"/>
<circle cx="600.8" cy="720.37" r="3.35" fill="#ff0000"/>
<circle cx="659.63" cy="634.35" r="3.35" fill="#ff0000"/>
<rect x="392" y="802.2" width="7.2" height="7.2" fill="#0000ff"/>
<rect x="426.2" y="802.2" width="7.2" height="7.2" fill="#0000ff"/>
<rect x="472.53" y="802.2" width="7.2" height="7.2" fill="#0000ff"/>
<rect x="510.41" y="802.2" width="7.2" height="7.2" fill="#0000ff"/>
<rect x="564.47" y="802.2" width="7.2" height="7.2" fill="#0000ff"/>
<rect x="597.2" y="802.2" width="7.2" height="7.2" fill="#0000ff"/>
<rect x="656.03" y="641.29" width="7.2" height="7.2" fill="#0000ff"/>
<rect x="392" y="802.2" width="7.2" height="7.2" fill="#0000ff"/>
<rect x="426.2" y="802.2" width="7.2" height="7.2" fill="#0000ff"/>
<rect x="472.53" y="802.2" width="7.2" height="7.2" fill="#0000ff"/>
<rect x="510.41" y="802.2" width="7.2" height="7.2" fill="#0000ff"/>
<rect x="564.47" y="802.2" width="7.2" height="7.2" fill="#0000ff"/>
<rect x="597.2" y="802.2" width="7.2" height="7.2" fill="#0000ff"/>
<rect x="656.03" y="644.21" width="7.2" height="7.2" fill="#0000ff"/>
<path d="M392.4 802.6L398.8 809M392.4 809L398.8 802.6" stroke="#008000" stroke-width="1.1" fill="none"/>
<path d="M426.6 802.6L433 809M426.6 809L433 802.6" stroke="#008000" stroke-width="1.1" fill="none"/>
<path d="M472.93 802.6L479.33 809M472.93 809L479.33 802.6" stroke="#008000" stroke-width="1.1" fill="none"/>
<path d="M510.81 802.6L517.21 809M510.81 809L517.21 802.6" stroke="#008000" stroke-width="1.1" fill="none"/>
<path d="M564.87 802.6L571.27 809M564.87 809L571.27 802.6" stroke="#008000" stroke-width="1.1" fill="none"/>
<path d="M597.6 739.4L604 745.8M597.6 745.8L604 739.4" stroke="#008000" stroke-width="1.1" fill="none"/>
<path d="M656.43 672.11L662.83 678.51M656.43 678.51L662.83 672.11" stroke="#008000" stroke-width="1.1" fill="none"/>
<path d="M392.4 802.6L398.8 809M392.4 809L398.8 802.6" stroke="#008000" stroke-width="1.1" fill="none"/>
<path d="M426.6 802.6L433 809M426.6 809L433 802.6" stroke="#008000" stroke-width="1.1" fill="none"/>
<path d="M472.93 802.6L479.33 809M472.93 809L479.33 802.6" stroke="#008000" stroke-width="1.1" fill="none"/>
<path d="M510.81 802.6L517.21 809M510.81 809L517.21 802.6" stroke="#008000" stroke-width="1.1" fill="none"/>
<path d="M564.87 802.6L571.27 809M564.87 809L571.27 802.6" stroke="#008000" stroke-width="1.1" fill="none"/>
<path d="M597.6 739.4L604 745.8M597.6 745.8L604 739.4" stroke="#008000" stroke-width="1.1" fill="none"/>
<path d="M656.43 672.11L662.83 678.51M656.43 678.51L662.83 672.11" stroke="#008000" stroke-width="1.1" fill="none"/>
</g>
<rect x="395.6" y="601" width="275.8" height="204.8" fill="none" stroke="#262626" stroke-width="1"/>
<path d="M393 805.8H395.6M393 776.54H395.6M393 747.29H395.6M393 718.03H395.6M393 688.77H395.6M393 659.51H395.6M393 630.26H395.6M393 601H395.6M671.4 805.8H674M671.4 776.54H674M671.4 747.29H674M671.4 718.03H674M671.4 688.77H674M671.4 659.51H674M671.4 630.26H674M671.4 601H674M395.6 805.8V808.4M432.37 805.8V808.4M469.15 805.8V808.4M505.92 805.8V808.4M542.69 805.8V808.4M579.47 805.8V808.4M616.24 805.8V808.4M653.01 805.8V808.4" stroke="#262626" stroke-width="1" fill="none"/>
<text transform="translate(390.1 808.8) scale(0.9 1)" text-anchor="end" class="t">0</text>
<text transform="translate(390.1 779.54) scale(0.9 1)" text-anchor="end" class="t">50</text>
<text transform="translate(390.1 750.29) scale(0.9 1)" text-anchor="end" class="t">100</text>
<text transform="translate(390.1 721.03) scale(0.9 1)" text-anchor="end" class="t">150</text>
<text transform="translate(390.1 691.77) scale(0.9 1)" text-anchor="end" class="t">200</text>
<text transform="translate(390.1 662.51) scale(0.9 1)" text-anchor="end" class="t">250</text>
<text transform="translate(390.1 633.26) scale(0.9 1)" text-anchor="end" class="t">300</text>
<text transform="translate(390.1 604) scale(0.9 1)" text-anchor="end" class="t">350</text>
<text transform="translate(676.6 808.8) scale(0.9 1)" class="t">0</text>
<text transform="translate(676.6 779.54) scale(0.9 1)" class="t">10</text>
<text transform="translate(676.6 750.29) scale(0.9 1)" class="t">20</text>
<text transform="translate(676.6 721.03) scale(0.9 1)" class="t">30</text>
<text transform="translate(676.6 691.77) scale(0.9 1)" class="t">40</text>
<text transform="translate(676.6 662.51) scale(0.9 1)" class="t">50</text>
<text transform="translate(676.6 633.26) scale(0.9 1)" class="t">60</text>
<text transform="translate(676.6 604) scale(0.9 1)" class="t">70</text>
<text transform="translate(395.6 817.8) scale(0.9 1)" text-anchor="middle" class="t">0</text>
<text transform="translate(432.37 817.8) scale(0.9 1)" text-anchor="middle" class="t">10</text>
<text transform="translate(469.15 817.8) scale(0.9 1)" text-anchor="middle" class="t">20</text>
<text transform="translate(505.92 817.8) scale(0.9 1)" text-anchor="middle" class="t">30</text>
<text transform="translate(542.69 817.8) scale(0.9 1)" text-anchor="middle" class="t">40</text>
<text transform="translate(579.47 817.8) scale(0.9 1)" text-anchor="middle" class="t">50</text>
<text transform="translate(616.24 817.8) scale(0.9 1)" text-anchor="middle" class="t">60</text>
<text transform="translate(653.01 817.8) scale(0.9 1)" text-anchor="middle" class="t">70</text>
<text x="533.5" y="827.8" text-anchor="middle">Time (h)</text>
<text transform="translate(368.4 703.4) rotate(-90)" text-anchor="middle" style="font-size:7.8px">Carotenoids concentration (<tspan font-style="italic">μ</tspan>g/L)</text>
<text transform="translate(698.4 703.4) rotate(-90)" text-anchor="middle">Carotenoids content (<tspan font-style="italic">μ</tspan>g/g)</text>
<path d="M402 610.7H418" stroke="#ff0000" stroke-width="1.2"/>
<circle cx="410" cy="610.7" r="3.35" fill="#ff0000"/>
<text transform="translate(424.1 613.7) scale(0.955 1)" style="font-size:8.2px">Zeaxanthin</text>
<path d="M402 623.95H418" stroke="#0000ff" stroke-width="1.2"/>
<rect x="406.4" y="620.35" width="7.2" height="7.2" fill="#0000ff"/>
<text transform="translate(424.1 626.95) scale(0.955 1)" style="font-size:8.2px"><tspan font-style="italic">β</tspan>-cryptoxanthin</text>
<path d="M402 637.2H418" stroke="#008000" stroke-width="1.2"/>
<path d="M406.8 634L413.2 640.4M406.8 640.4L413.2 634" stroke="#008000" stroke-width="1.1" fill="none"/>
<text transform="translate(424.1 640.2) scale(0.955 1)" style="font-size:8.2px"><tspan font-style="italic">β</tspan>-carotene</text>
<text x="528.5" y="860.4" text-anchor="middle" style="font-size:18.5px">(f)</text>
</svg>
</body></html>
